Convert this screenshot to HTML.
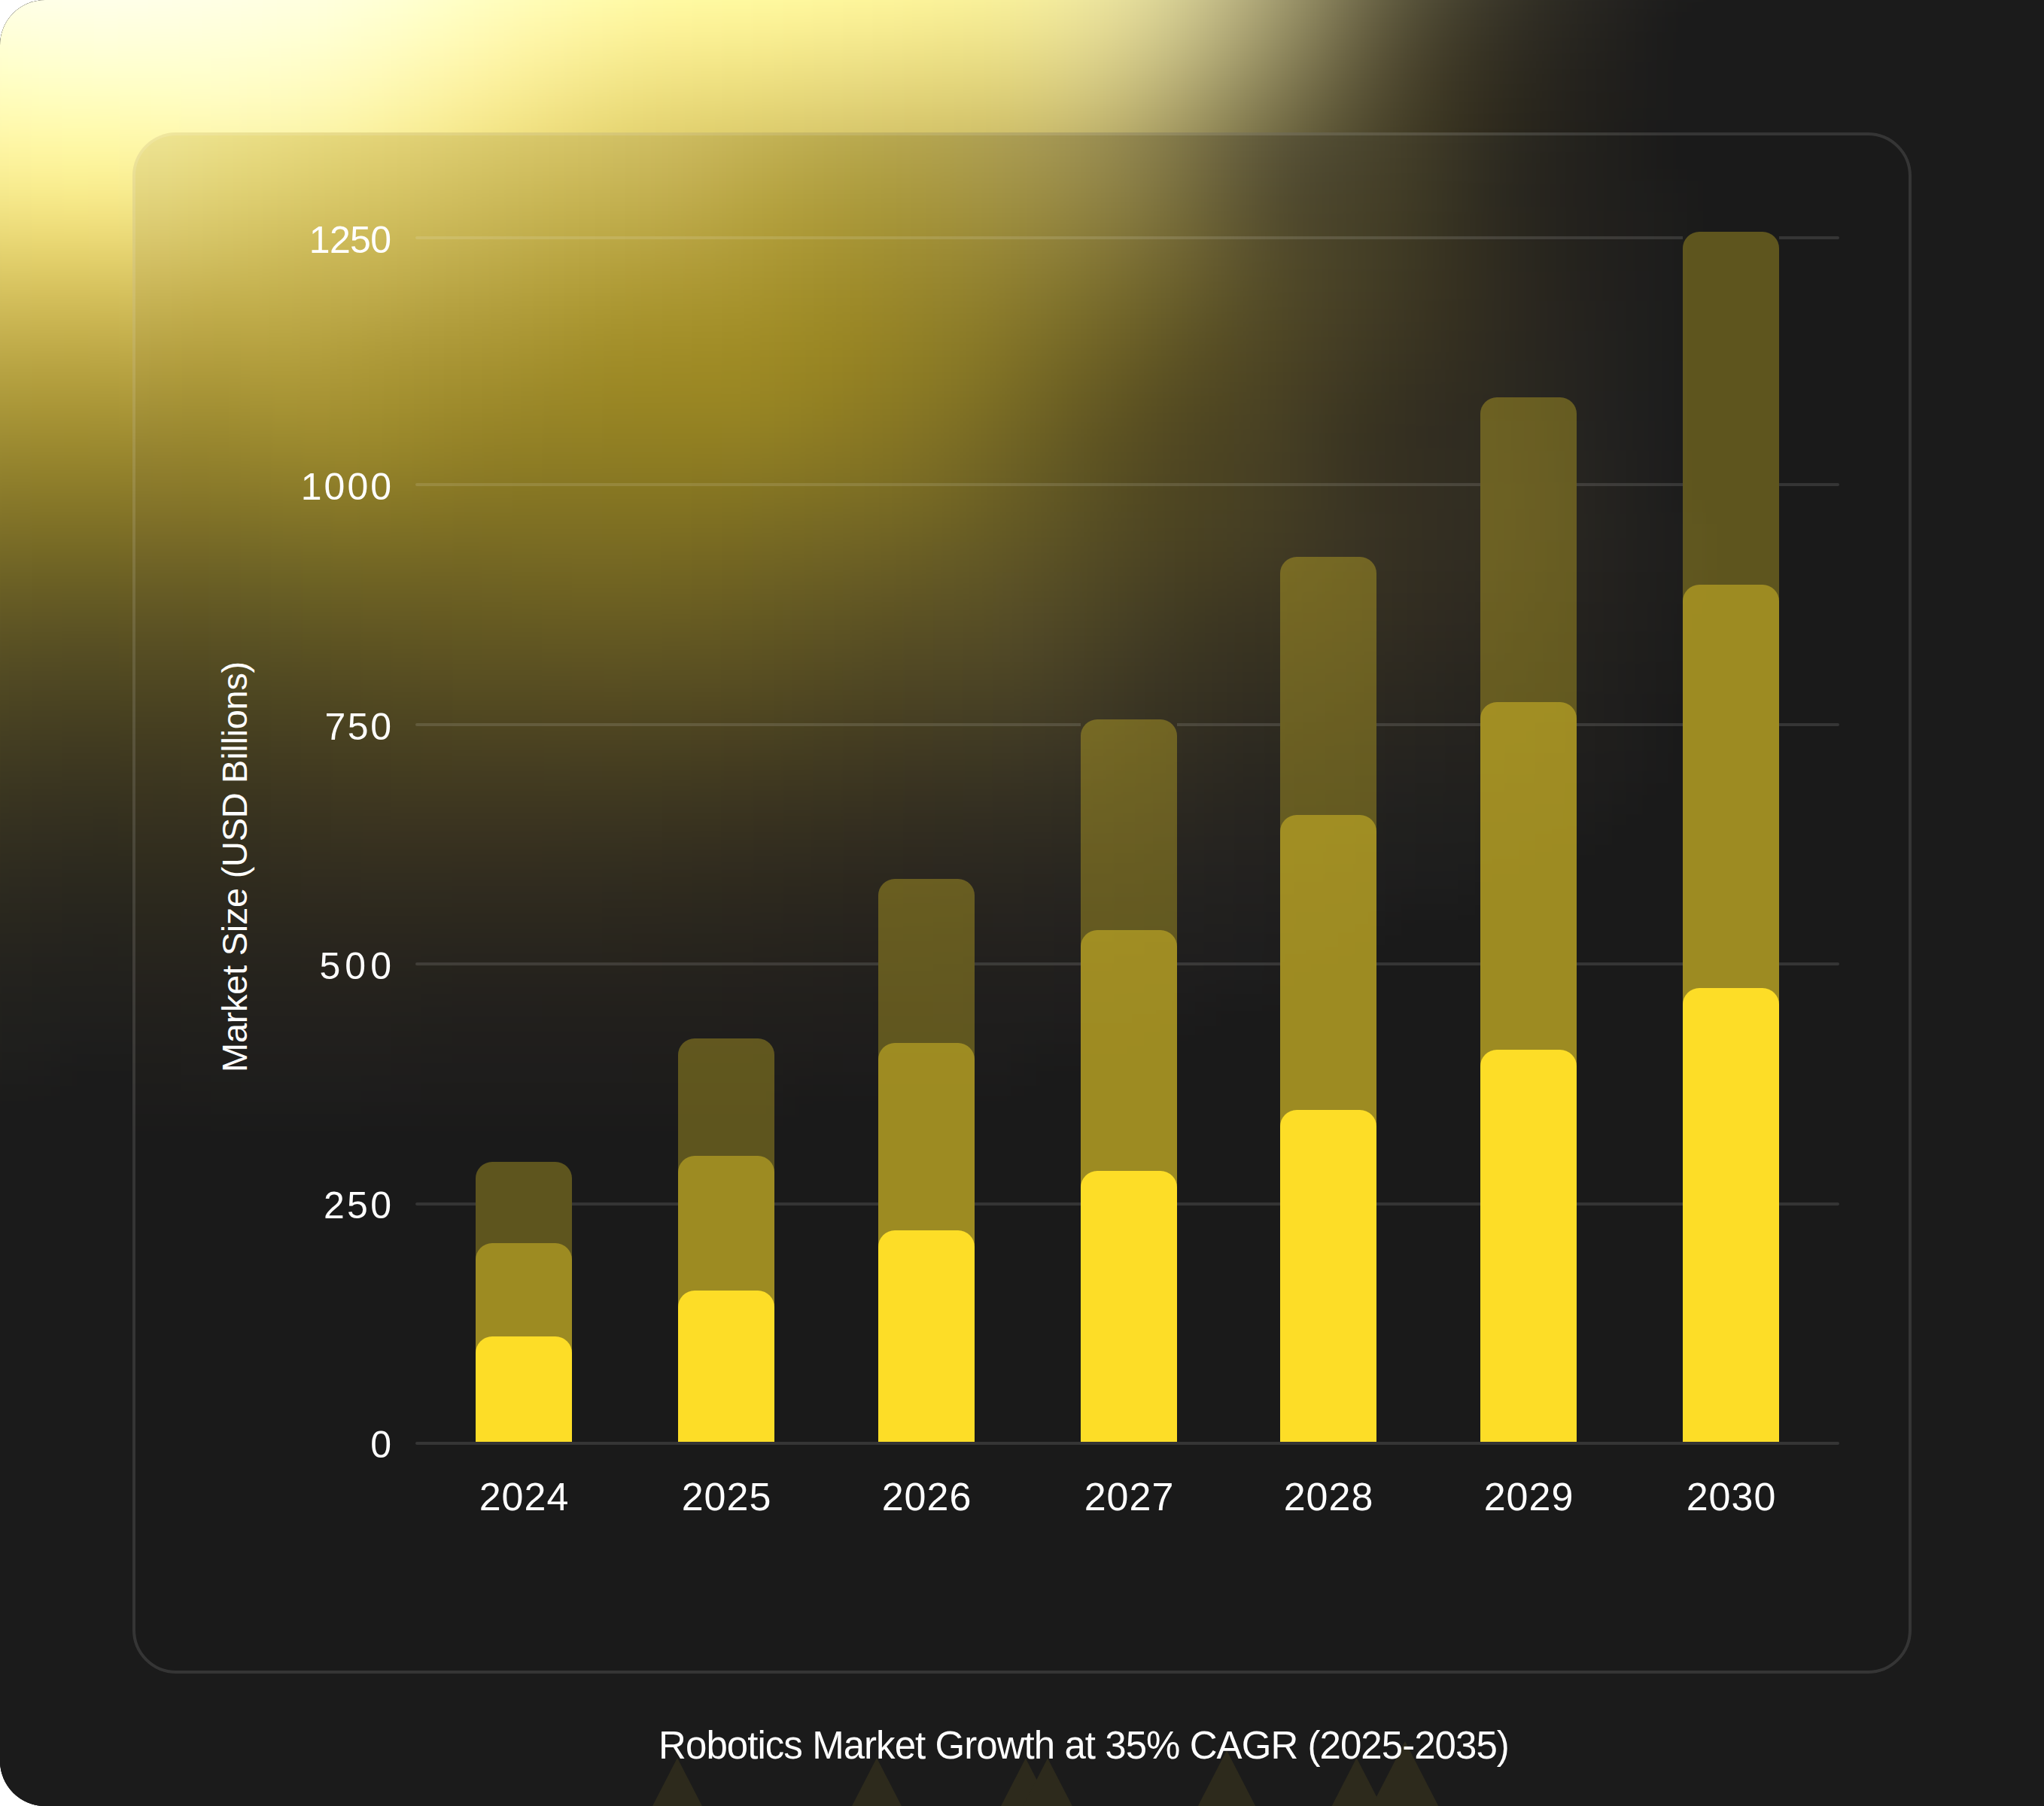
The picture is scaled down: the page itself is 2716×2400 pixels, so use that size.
<!DOCTYPE html>
<html><head><meta charset="utf-8">
<style>
html,body{margin:0;padding:0;background:#fff;}
body{width:2716px;height:2400px;overflow:hidden;position:relative;font-family:"Liberation Sans",Arial,sans-serif;}
.frame{position:absolute;left:0;top:0;width:2816px;height:2400px;border-radius:60px 0 0 60px;background:#1b1b1b;overflow:hidden;}
.glow{position:absolute;left:0;top:0;}
.card{position:absolute;left:176px;top:176px;width:2364px;height:2048px;box-sizing:border-box;border:4px solid rgba(255,255,255,0.12);border-radius:58px;background:rgba(26,26,26,0.000);}
.glowin{position:absolute;left:0;top:0;}
.gl{position:absolute;height:4px;background:rgba(255,255,255,0.12);}
.yl{position:absolute;left:320px;width:200px;text-align:right;color:#fff;font-size:50px;line-height:50px;white-space:nowrap;}
.bar{position:absolute;width:128px;bottom:484px;border-radius:22px 22px 0 0;}
.d{background:rgba(253,221,39,0.30);}
.m{background:rgba(253,221,39,0.40);}
.l{background:#fddd27;}
.xl{position:absolute;top:1959px;width:200px;text-align:center;color:#fff;font-size:52px;line-height:60px;letter-spacing:1px;text-indent:1px;}
.ytitle{position:absolute;left:312px;top:1152px;color:#fff;font-size:47px;line-height:48px;letter-spacing:-0.3px;white-space:nowrap;transform:translate(-50%,-50%) rotate(-90deg);}
.title{position:absolute;left:0;width:2880px;text-align:center;top:2290px;color:#fff;font-size:51px;line-height:60px;letter-spacing:-0.95px;white-space:nowrap;}
</style></head>
<body>
<div class="frame">
<svg class="glow" width="2716" height="2400" viewBox="0 0 2716 2400" style=""><defs><filter id="gbo" x="-10%" y="-10%" width="120%" height="120%" color-interpolation-filters="sRGB"><feGaussianBlur stdDeviation="24"/></filter></defs><rect width="2716" height="2400" fill="#1b1b1b"/><g filter="url(#gbo)"><rect x="-200" y="-200" width="3116" height="2800" fill="#1b1b1b"/><rect x="-200" y="-200" width="680" height="40" fill="#ffffff"/><rect x="480" y="-200" width="40" height="40" fill="#fffffc"/><rect x="520" y="-200" width="40" height="40" fill="#fffff8"/><rect x="560" y="-200" width="40" height="40" fill="#fffff3"/><rect x="600" y="-200" width="40" height="40" fill="#ffffee"/><rect x="640" y="-200" width="40" height="40" fill="#ffffea"/><rect x="680" y="-200" width="40" height="40" fill="#ffffe5"/><rect x="720" y="-200" width="40" height="40" fill="#ffffe0"/><rect x="760" y="-200" width="40" height="40" fill="#ffffdc"/><rect x="800" y="-200" width="40" height="40" fill="#ffffd8"/><rect x="840" y="-200" width="40" height="40" fill="#ffffd4"/><rect x="880" y="-200" width="40" height="40" fill="#ffffd1"/><rect x="920" y="-200" width="40" height="40" fill="#ffffce"/><rect x="960" y="-200" width="40" height="40" fill="#ffffcc"/><rect x="1000" y="-200" width="40" height="40" fill="#ffffc9"/><rect x="1040" y="-200" width="40" height="40" fill="#ffffc7"/><rect x="1080" y="-200" width="40" height="40" fill="#ffffc6"/><rect x="1120" y="-200" width="40" height="40" fill="#ffffc4"/><rect x="1160" y="-200" width="40" height="40" fill="#ffffc3"/><rect x="1200" y="-200" width="40" height="40" fill="#ffffc1"/><rect x="1240" y="-200" width="40" height="40" fill="#ffffc0"/><rect x="1280" y="-200" width="40" height="40" fill="#ffffbf"/><rect x="1320" y="-200" width="40" height="40" fill="#ffffbd"/><rect x="1360" y="-200" width="40" height="40" fill="#ffffbb"/><rect x="1400" y="-200" width="40" height="40" fill="#fffeb9"/><rect x="1440" y="-200" width="40" height="40" fill="#faf7b6"/><rect x="1480" y="-200" width="40" height="40" fill="#f3efb1"/><rect x="1520" y="-200" width="40" height="40" fill="#e9e6ac"/><rect x="1560" y="-200" width="40" height="40" fill="#dfdba5"/><rect x="1600" y="-200" width="40" height="40" fill="#d2cf9c"/><rect x="1640" y="-200" width="40" height="40" fill="#c5c193"/><rect x="1680" y="-200" width="40" height="40" fill="#b7b388"/><rect x="1720" y="-200" width="40" height="40" fill="#a8a47d"/><rect x="1760" y="-200" width="40" height="40" fill="#999572"/><rect x="1800" y="-200" width="40" height="40" fill="#8a8667"/><rect x="1840" y="-200" width="40" height="40" fill="#7c795d"/><rect x="1880" y="-200" width="40" height="40" fill="#6e6c54"/><rect x="1920" y="-200" width="40" height="40" fill="#62604c"/><rect x="1960" y="-200" width="40" height="40" fill="#575544"/><rect x="2000" y="-200" width="40" height="40" fill="#4d4c3e"/><rect x="2040" y="-200" width="40" height="40" fill="#444338"/><rect x="2080" y="-200" width="40" height="40" fill="#3d3c33"/><rect x="2120" y="-200" width="40" height="40" fill="#36352f"/><rect x="2160" y="-200" width="40" height="40" fill="#30302b"/><rect x="2200" y="-200" width="40" height="40" fill="#2b2b28"/><rect x="2240" y="-200" width="40" height="40" fill="#272725"/><rect x="2280" y="-200" width="40" height="40" fill="#242423"/><rect x="2320" y="-200" width="40" height="40" fill="#222222"/><rect x="2360" y="-200" width="40" height="40" fill="#202020"/><rect x="2400" y="-200" width="80" height="40" fill="#1f1f1f"/><rect x="2480" y="-200" width="80" height="40" fill="#1e1e1e"/><rect x="2560" y="-200" width="120" height="40" fill="#1b1b1b"/><rect x="-200" y="-160" width="560" height="40" fill="#ffffff"/><rect x="360" y="-160" width="40" height="40" fill="#fffffe"/><rect x="400" y="-160" width="40" height="40" fill="#fffffb"/><rect x="440" y="-160" width="40" height="40" fill="#fffff8"/><rect x="480" y="-160" width="40" height="40" fill="#fffff4"/><rect x="520" y="-160" width="40" height="40" fill="#ffffef"/><rect x="560" y="-160" width="40" height="40" fill="#ffffeb"/><rect x="600" y="-160" width="40" height="40" fill="#ffffe6"/><rect x="640" y="-160" width="40" height="40" fill="#ffffe1"/><rect x="680" y="-160" width="40" height="40" fill="#ffffdc"/><rect x="720" y="-160" width="40" height="40" fill="#ffffd7"/><rect x="760" y="-160" width="40" height="40" fill="#ffffd2"/><rect x="800" y="-160" width="40" height="40" fill="#ffffce"/><rect x="840" y="-160" width="40" height="40" fill="#ffffca"/><rect x="880" y="-160" width="40" height="40" fill="#ffffc7"/><rect x="920" y="-160" width="40" height="40" fill="#ffffc4"/><rect x="960" y="-160" width="40" height="40" fill="#ffffc2"/><rect x="1000" y="-160" width="40" height="40" fill="#ffffc0"/><rect x="1040" y="-160" width="40" height="40" fill="#ffffbe"/><rect x="1080" y="-160" width="40" height="40" fill="#ffffbd"/><rect x="1120" y="-160" width="40" height="40" fill="#ffffbb"/><rect x="1160" y="-160" width="40" height="40" fill="#ffffba"/><rect x="1200" y="-160" width="40" height="40" fill="#ffffb9"/><rect x="1240" y="-160" width="40" height="40" fill="#ffffb8"/><rect x="1280" y="-160" width="80" height="40" fill="#ffffb7"/><rect x="1360" y="-160" width="40" height="40" fill="#ffffb6"/><rect x="1400" y="-160" width="40" height="40" fill="#fffbb4"/><rect x="1440" y="-160" width="40" height="40" fill="#f9f5b1"/><rect x="1480" y="-160" width="40" height="40" fill="#f1edad"/><rect x="1520" y="-160" width="40" height="40" fill="#e8e3a8"/><rect x="1560" y="-160" width="40" height="40" fill="#ddd8a1"/><rect x="1600" y="-160" width="40" height="40" fill="#d0cc98"/><rect x="1640" y="-160" width="40" height="40" fill="#c2be8e"/><rect x="1680" y="-160" width="40" height="40" fill="#b3af83"/><rect x="1720" y="-160" width="40" height="40" fill="#a49f78"/><rect x="1760" y="-160" width="40" height="40" fill="#948f6c"/><rect x="1800" y="-160" width="40" height="40" fill="#848061"/><rect x="1840" y="-160" width="40" height="40" fill="#757256"/><rect x="1880" y="-160" width="40" height="40" fill="#68644d"/><rect x="1920" y="-160" width="40" height="40" fill="#5c5945"/><rect x="1960" y="-160" width="40" height="40" fill="#514e3e"/><rect x="2000" y="-160" width="40" height="40" fill="#474538"/><rect x="2040" y="-160" width="40" height="40" fill="#3f3d33"/><rect x="2080" y="-160" width="40" height="40" fill="#37362e"/><rect x="2120" y="-160" width="40" height="40" fill="#31302a"/><rect x="2160" y="-160" width="40" height="40" fill="#2c2b27"/><rect x="2200" y="-160" width="40" height="40" fill="#272724"/><rect x="2240" y="-160" width="40" height="40" fill="#232322"/><rect x="2280" y="-160" width="40" height="40" fill="#202020"/><rect x="2320" y="-160" width="40" height="40" fill="#1f1f1f"/><rect x="2360" y="-160" width="40" height="40" fill="#1e1e1e"/><rect x="2400" y="-160" width="240" height="40" fill="#1b1b1b"/><rect x="-200" y="-120" width="40" height="40" fill="#fffff9"/><rect x="-160" y="-120" width="40" height="40" fill="#fffffa"/><rect x="-120" y="-120" width="40" height="40" fill="#fffffb"/><rect x="-80" y="-120" width="40" height="40" fill="#fffffc"/><rect x="-40" y="-120" width="40" height="40" fill="#fffffe"/><rect x="0" y="-120" width="200" height="40" fill="#ffffff"/><rect x="200" y="-120" width="40" height="40" fill="#fffffe"/><rect x="240" y="-120" width="40" height="40" fill="#fffffc"/><rect x="280" y="-120" width="40" height="40" fill="#fffffa"/><rect x="320" y="-120" width="40" height="40" fill="#fffff8"/><rect x="360" y="-120" width="40" height="40" fill="#fffff6"/><rect x="400" y="-120" width="40" height="40" fill="#fffff3"/><rect x="440" y="-120" width="40" height="40" fill="#ffffef"/><rect x="480" y="-120" width="40" height="40" fill="#ffffeb"/><rect x="520" y="-120" width="40" height="40" fill="#ffffe7"/><rect x="560" y="-120" width="40" height="40" fill="#ffffe2"/><rect x="600" y="-120" width="40" height="40" fill="#ffffdd"/><rect x="640" y="-120" width="40" height="40" fill="#ffffd7"/><rect x="680" y="-120" width="40" height="40" fill="#ffffd2"/><rect x="720" y="-120" width="40" height="40" fill="#ffffcd"/><rect x="760" y="-120" width="40" height="40" fill="#ffffc8"/><rect x="800" y="-120" width="40" height="40" fill="#ffffc4"/><rect x="840" y="-120" width="40" height="40" fill="#ffffc0"/><rect x="880" y="-120" width="40" height="40" fill="#ffffbd"/><rect x="920" y="-120" width="40" height="40" fill="#ffffba"/><rect x="960" y="-120" width="40" height="40" fill="#ffffb8"/><rect x="1000" y="-120" width="40" height="40" fill="#ffffb7"/><rect x="1040" y="-120" width="40" height="40" fill="#ffffb5"/><rect x="1080" y="-120" width="40" height="40" fill="#ffffb4"/><rect x="1120" y="-120" width="40" height="40" fill="#ffffb2"/><rect x="1160" y="-120" width="80" height="40" fill="#ffffb1"/><rect x="1240" y="-120" width="80" height="40" fill="#ffffb0"/><rect x="1320" y="-120" width="40" height="40" fill="#ffffaf"/><rect x="1360" y="-120" width="40" height="40" fill="#fffcaf"/><rect x="1400" y="-120" width="40" height="40" fill="#fcf7ae"/><rect x="1440" y="-120" width="40" height="40" fill="#f6f1ac"/><rect x="1480" y="-120" width="40" height="40" fill="#efe9a9"/><rect x="1520" y="-120" width="40" height="40" fill="#e6e0a3"/><rect x="1560" y="-120" width="40" height="40" fill="#dad59d"/><rect x="1600" y="-120" width="40" height="40" fill="#cdc894"/><rect x="1640" y="-120" width="40" height="40" fill="#bfb989"/><rect x="1680" y="-120" width="40" height="40" fill="#afaa7e"/><rect x="1720" y="-120" width="40" height="40" fill="#9f9972"/><rect x="1760" y="-120" width="40" height="40" fill="#8e8965"/><rect x="1800" y="-120" width="40" height="40" fill="#7e795a"/><rect x="1840" y="-120" width="40" height="40" fill="#6f6a4f"/><rect x="1880" y="-120" width="40" height="40" fill="#615d46"/><rect x="1920" y="-120" width="40" height="40" fill="#55513e"/><rect x="1960" y="-120" width="40" height="40" fill="#4a4738"/><rect x="2000" y="-120" width="40" height="40" fill="#413f32"/><rect x="2040" y="-120" width="40" height="40" fill="#39382e"/><rect x="2080" y="-120" width="40" height="40" fill="#33312a"/><rect x="2120" y="-120" width="40" height="40" fill="#2d2c26"/><rect x="2160" y="-120" width="40" height="40" fill="#282723"/><rect x="2200" y="-120" width="40" height="40" fill="#232321"/><rect x="2240" y="-120" width="40" height="40" fill="#20201f"/><rect x="2280" y="-120" width="40" height="40" fill="#1e1e1d"/><rect x="2320" y="-120" width="280" height="40" fill="#1b1b1b"/><rect x="-200" y="-80" width="40" height="40" fill="#ffffef"/><rect x="-160" y="-80" width="40" height="40" fill="#fffff0"/><rect x="-120" y="-80" width="40" height="40" fill="#fffff1"/><rect x="-80" y="-80" width="40" height="40" fill="#fffff3"/><rect x="-40" y="-80" width="40" height="40" fill="#fffff4"/><rect x="0" y="-80" width="40" height="40" fill="#fffff5"/><rect x="40" y="-80" width="40" height="40" fill="#fffff6"/><rect x="80" y="-80" width="80" height="40" fill="#fffff7"/><rect x="160" y="-80" width="40" height="40" fill="#fffff6"/><rect x="200" y="-80" width="40" height="40" fill="#fffff5"/><rect x="240" y="-80" width="40" height="40" fill="#fffff3"/><rect x="280" y="-80" width="40" height="40" fill="#fffff2"/><rect x="320" y="-80" width="40" height="40" fill="#fffff0"/><rect x="360" y="-80" width="40" height="40" fill="#ffffed"/><rect x="400" y="-80" width="40" height="40" fill="#ffffeb"/><rect x="440" y="-80" width="40" height="40" fill="#ffffe7"/><rect x="480" y="-80" width="40" height="40" fill="#ffffe3"/><rect x="520" y="-80" width="40" height="40" fill="#ffffde"/><rect x="560" y="-80" width="40" height="40" fill="#ffffd9"/><rect x="600" y="-80" width="40" height="40" fill="#ffffd3"/><rect x="640" y="-80" width="40" height="40" fill="#ffffcd"/><rect x="680" y="-80" width="40" height="40" fill="#ffffc8"/><rect x="720" y="-80" width="40" height="40" fill="#ffffc2"/><rect x="760" y="-80" width="40" height="40" fill="#ffffbd"/><rect x="800" y="-80" width="40" height="40" fill="#ffffb9"/><rect x="840" y="-80" width="40" height="40" fill="#ffffb5"/><rect x="880" y="-80" width="40" height="40" fill="#ffffb2"/><rect x="920" y="-80" width="40" height="40" fill="#ffffb0"/><rect x="960" y="-80" width="40" height="40" fill="#ffffae"/><rect x="1000" y="-80" width="40" height="40" fill="#ffffad"/><rect x="1040" y="-80" width="40" height="40" fill="#ffffab"/><rect x="1080" y="-80" width="40" height="40" fill="#ffffaa"/><rect x="1120" y="-80" width="40" height="40" fill="#ffffa9"/><rect x="1160" y="-80" width="40" height="40" fill="#ffffa8"/><rect x="1200" y="-80" width="40" height="40" fill="#ffffa7"/><rect x="1240" y="-80" width="40" height="40" fill="#fffda7"/><rect x="1280" y="-80" width="40" height="40" fill="#fffca7"/><rect x="1320" y="-80" width="40" height="40" fill="#fff9a7"/><rect x="1360" y="-80" width="40" height="40" fill="#fdf6a8"/><rect x="1400" y="-80" width="40" height="40" fill="#f8f2a8"/><rect x="1440" y="-80" width="40" height="40" fill="#f3eda6"/><rect x="1480" y="-80" width="40" height="40" fill="#ece5a3"/><rect x="1520" y="-80" width="40" height="40" fill="#e2dc9f"/><rect x="1560" y="-80" width="40" height="40" fill="#d7d198"/><rect x="1600" y="-80" width="40" height="40" fill="#cac38f"/><rect x="1640" y="-80" width="40" height="40" fill="#bbb484"/><rect x="1680" y="-80" width="40" height="40" fill="#aaa478"/><rect x="1720" y="-80" width="40" height="40" fill="#99936b"/><rect x="1760" y="-80" width="40" height="40" fill="#88825f"/><rect x="1800" y="-80" width="40" height="40" fill="#777252"/><rect x="1840" y="-80" width="40" height="40" fill="#686348"/><rect x="1880" y="-80" width="40" height="40" fill="#5a563f"/><rect x="1920" y="-80" width="40" height="40" fill="#4e4a37"/><rect x="1960" y="-80" width="40" height="40" fill="#444132"/><rect x="2000" y="-80" width="40" height="40" fill="#3c392d"/><rect x="2040" y="-80" width="40" height="40" fill="#353229"/><rect x="2080" y="-80" width="40" height="40" fill="#2e2d26"/><rect x="2120" y="-80" width="40" height="40" fill="#292823"/><rect x="2160" y="-80" width="40" height="40" fill="#242421"/><rect x="2200" y="-80" width="40" height="40" fill="#21201f"/><rect x="2240" y="-80" width="40" height="40" fill="#1e1e1d"/><rect x="2280" y="-80" width="280" height="40" fill="#1b1b1b"/><rect x="-200" y="-40" width="40" height="40" fill="#ffffe4"/><rect x="-160" y="-40" width="40" height="40" fill="#ffffe5"/><rect x="-120" y="-40" width="40" height="40" fill="#ffffe7"/><rect x="-80" y="-40" width="40" height="40" fill="#ffffe8"/><rect x="-40" y="-40" width="40" height="40" fill="#ffffea"/><rect x="0" y="-40" width="40" height="40" fill="#ffffeb"/><rect x="40" y="-40" width="40" height="40" fill="#ffffec"/><rect x="80" y="-40" width="120" height="40" fill="#ffffed"/><rect x="200" y="-40" width="40" height="40" fill="#ffffec"/><rect x="240" y="-40" width="40" height="40" fill="#ffffea"/><rect x="280" y="-40" width="40" height="40" fill="#ffffe9"/><rect x="320" y="-40" width="40" height="40" fill="#ffffe7"/><rect x="360" y="-40" width="40" height="40" fill="#ffffe5"/><rect x="400" y="-40" width="40" height="40" fill="#ffffe2"/><rect x="440" y="-40" width="40" height="40" fill="#ffffde"/><rect x="480" y="-40" width="40" height="40" fill="#ffffda"/><rect x="520" y="-40" width="40" height="40" fill="#ffffd5"/><rect x="560" y="-40" width="40" height="40" fill="#ffffcf"/><rect x="600" y="-40" width="40" height="40" fill="#ffffc9"/><rect x="640" y="-40" width="40" height="40" fill="#ffffc3"/><rect x="680" y="-40" width="40" height="40" fill="#ffffbd"/><rect x="720" y="-40" width="40" height="40" fill="#fffeb7"/><rect x="760" y="-40" width="40" height="40" fill="#fffeb2"/><rect x="800" y="-40" width="40" height="40" fill="#fffeae"/><rect x="840" y="-40" width="40" height="40" fill="#fffdaa"/><rect x="880" y="-40" width="40" height="40" fill="#fffda7"/><rect x="920" y="-40" width="40" height="40" fill="#fffda5"/><rect x="960" y="-40" width="40" height="40" fill="#fffda4"/><rect x="1000" y="-40" width="40" height="40" fill="#fffca3"/><rect x="1040" y="-40" width="40" height="40" fill="#fffba2"/><rect x="1080" y="-40" width="40" height="40" fill="#fffaa1"/><rect x="1120" y="-40" width="40" height="40" fill="#fff99f"/><rect x="1160" y="-40" width="40" height="40" fill="#fff89f"/><rect x="1200" y="-40" width="40" height="40" fill="#fff79e"/><rect x="1240" y="-40" width="40" height="40" fill="#fef69e"/><rect x="1280" y="-40" width="40" height="40" fill="#fcf49e"/><rect x="1320" y="-40" width="40" height="40" fill="#faf29f"/><rect x="1360" y="-40" width="40" height="40" fill="#f7f0a0"/><rect x="1400" y="-40" width="40" height="40" fill="#f4eca0"/><rect x="1440" y="-40" width="40" height="40" fill="#eee7a0"/><rect x="1480" y="-40" width="40" height="40" fill="#e7e09d"/><rect x="1520" y="-40" width="40" height="40" fill="#ded799"/><rect x="1560" y="-40" width="40" height="40" fill="#d2cb92"/><rect x="1600" y="-40" width="40" height="40" fill="#c5bd89"/><rect x="1640" y="-40" width="40" height="40" fill="#b5ae7e"/><rect x="1680" y="-40" width="40" height="40" fill="#a49d72"/><rect x="1720" y="-40" width="40" height="40" fill="#938c64"/><rect x="1760" y="-40" width="40" height="40" fill="#817b57"/><rect x="1800" y="-40" width="40" height="40" fill="#706a4b"/><rect x="1840" y="-40" width="40" height="40" fill="#605b40"/><rect x="1880" y="-40" width="40" height="40" fill="#534e38"/><rect x="1920" y="-40" width="40" height="40" fill="#484431"/><rect x="1960" y="-40" width="40" height="40" fill="#3f3b2c"/><rect x="2000" y="-40" width="40" height="40" fill="#373428"/><rect x="2040" y="-40" width="40" height="40" fill="#302e25"/><rect x="2080" y="-40" width="40" height="40" fill="#2b2923"/><rect x="2120" y="-40" width="40" height="40" fill="#262521"/><rect x="2160" y="-40" width="40" height="40" fill="#22211f"/><rect x="2200" y="-40" width="40" height="40" fill="#1f1e1d"/><rect x="2240" y="-40" width="160" height="40" fill="#1b1b1b"/><rect x="-200" y="0" width="40" height="40" fill="#ffffd9"/><rect x="-160" y="0" width="40" height="40" fill="#ffffda"/><rect x="-120" y="0" width="40" height="40" fill="#ffffdc"/><rect x="-80" y="0" width="40" height="40" fill="#ffffdd"/><rect x="-40" y="0" width="40" height="40" fill="#ffffdf"/><rect x="0" y="0" width="40" height="40" fill="#ffffe1"/><rect x="40" y="0" width="40" height="40" fill="#ffffe2"/><rect x="80" y="0" width="40" height="40" fill="#ffffe3"/><rect x="120" y="0" width="40" height="40" fill="#ffffe4"/><rect x="160" y="0" width="40" height="40" fill="#ffffe3"/><rect x="200" y="0" width="40" height="40" fill="#ffffe2"/><rect x="240" y="0" width="40" height="40" fill="#ffffe1"/><rect x="280" y="0" width="40" height="40" fill="#ffffdf"/><rect x="320" y="0" width="40" height="40" fill="#ffffde"/><rect x="360" y="0" width="40" height="40" fill="#ffffdc"/><rect x="400" y="0" width="40" height="40" fill="#ffffd9"/><rect x="440" y="0" width="40" height="40" fill="#ffffd5"/><rect x="480" y="0" width="40" height="40" fill="#ffffd0"/><rect x="520" y="0" width="40" height="40" fill="#ffffcb"/><rect x="560" y="0" width="40" height="40" fill="#fffec5"/><rect x="600" y="0" width="40" height="40" fill="#fffdbe"/><rect x="640" y="0" width="40" height="40" fill="#fffbb8"/><rect x="680" y="0" width="40" height="40" fill="#fffab2"/><rect x="720" y="0" width="40" height="40" fill="#fff9ac"/><rect x="760" y="0" width="40" height="40" fill="#fff8a7"/><rect x="800" y="0" width="40" height="40" fill="#fff7a2"/><rect x="840" y="0" width="40" height="40" fill="#fff69f"/><rect x="880" y="0" width="40" height="40" fill="#fff69c"/><rect x="920" y="0" width="40" height="40" fill="#fef59b"/><rect x="960" y="0" width="40" height="40" fill="#fef59a"/><rect x="1000" y="0" width="40" height="40" fill="#fdf499"/><rect x="1040" y="0" width="40" height="40" fill="#fdf398"/><rect x="1080" y="0" width="40" height="40" fill="#fcf297"/><rect x="1120" y="0" width="40" height="40" fill="#fbf196"/><rect x="1160" y="0" width="40" height="40" fill="#faf095"/><rect x="1200" y="0" width="40" height="40" fill="#f8ee94"/><rect x="1240" y="0" width="40" height="40" fill="#f7ed94"/><rect x="1280" y="0" width="40" height="40" fill="#f5ec94"/><rect x="1320" y="0" width="40" height="40" fill="#f4ea95"/><rect x="1360" y="0" width="40" height="40" fill="#f1e897"/><rect x="1400" y="0" width="40" height="40" fill="#ede498"/><rect x="1440" y="0" width="40" height="40" fill="#e8df98"/><rect x="1480" y="0" width="40" height="40" fill="#e1d896"/><rect x="1520" y="0" width="40" height="40" fill="#d7cf91"/><rect x="1560" y="0" width="40" height="40" fill="#cbc38a"/><rect x="1600" y="0" width="40" height="40" fill="#bdb581"/><rect x="1640" y="0" width="40" height="40" fill="#aea676"/><rect x="1680" y="0" width="40" height="40" fill="#9d966a"/><rect x="1720" y="0" width="40" height="40" fill="#8c855d"/><rect x="1760" y="0" width="40" height="40" fill="#7a7350"/><rect x="1800" y="0" width="40" height="40" fill="#696244"/><rect x="1840" y="0" width="40" height="40" fill="#595439"/><rect x="1880" y="0" width="40" height="40" fill="#4d4832"/><rect x="1920" y="0" width="40" height="40" fill="#423e2c"/><rect x="1960" y="0" width="40" height="40" fill="#3a3628"/><rect x="2000" y="0" width="40" height="40" fill="#333025"/><rect x="2040" y="0" width="40" height="40" fill="#2d2a22"/><rect x="2080" y="0" width="40" height="40" fill="#282620"/><rect x="2120" y="0" width="40" height="40" fill="#24221f"/><rect x="2160" y="0" width="40" height="40" fill="#201f1d"/><rect x="2200" y="0" width="120" height="40" fill="#1b1b1b"/><rect x="-200" y="40" width="40" height="40" fill="#fffdcd"/><rect x="-160" y="40" width="40" height="40" fill="#ffffce"/><rect x="-120" y="40" width="40" height="40" fill="#ffffd0"/><rect x="-80" y="40" width="40" height="40" fill="#ffffd1"/><rect x="-40" y="40" width="40" height="40" fill="#ffffd3"/><rect x="0" y="40" width="40" height="40" fill="#ffffd5"/><rect x="40" y="40" width="40" height="40" fill="#ffffd7"/><rect x="80" y="40" width="40" height="40" fill="#ffffd8"/><rect x="120" y="40" width="40" height="40" fill="#ffffd9"/><rect x="160" y="40" width="80" height="40" fill="#ffffd8"/><rect x="240" y="40" width="40" height="40" fill="#ffffd7"/><rect x="280" y="40" width="40" height="40" fill="#ffffd6"/><rect x="320" y="40" width="40" height="40" fill="#ffffd5"/><rect x="360" y="40" width="40" height="40" fill="#ffffd2"/><rect x="400" y="40" width="40" height="40" fill="#ffffcf"/><rect x="440" y="40" width="40" height="40" fill="#fffecb"/><rect x="480" y="40" width="40" height="40" fill="#fffdc5"/><rect x="520" y="40" width="40" height="40" fill="#fffcc0"/><rect x="560" y="40" width="40" height="40" fill="#fffbb9"/><rect x="600" y="40" width="40" height="40" fill="#fff9b3"/><rect x="640" y="40" width="40" height="40" fill="#fff7ad"/><rect x="680" y="40" width="40" height="40" fill="#fef5a6"/><rect x="720" y="40" width="40" height="40" fill="#fdf3a0"/><rect x="760" y="40" width="40" height="40" fill="#fbf19b"/><rect x="800" y="40" width="40" height="40" fill="#faf097"/><rect x="840" y="40" width="40" height="40" fill="#f9ee93"/><rect x="880" y="40" width="40" height="40" fill="#f9ed91"/><rect x="920" y="40" width="40" height="40" fill="#f8ed90"/><rect x="960" y="40" width="40" height="40" fill="#f7ec8f"/><rect x="1000" y="40" width="40" height="40" fill="#f7eb8e"/><rect x="1040" y="40" width="40" height="40" fill="#f5ea8d"/><rect x="1080" y="40" width="40" height="40" fill="#f4e88d"/><rect x="1120" y="40" width="40" height="40" fill="#f3e78c"/><rect x="1160" y="40" width="40" height="40" fill="#f2e68b"/><rect x="1200" y="40" width="40" height="40" fill="#f1e58a"/><rect x="1240" y="40" width="40" height="40" fill="#efe389"/><rect x="1280" y="40" width="40" height="40" fill="#eee28a"/><rect x="1320" y="40" width="40" height="40" fill="#ece18b"/><rect x="1360" y="40" width="40" height="40" fill="#e9de8d"/><rect x="1400" y="40" width="40" height="40" fill="#e6db8e"/><rect x="1440" y="40" width="40" height="40" fill="#e0d68e"/><rect x="1480" y="40" width="40" height="40" fill="#d8ce8c"/><rect x="1520" y="40" width="40" height="40" fill="#cec588"/><rect x="1560" y="40" width="40" height="40" fill="#c1b981"/><rect x="1600" y="40" width="40" height="40" fill="#b3ab77"/><rect x="1640" y="40" width="40" height="40" fill="#a49c6d"/><rect x="1680" y="40" width="40" height="40" fill="#938c61"/><rect x="1720" y="40" width="40" height="40" fill="#837c55"/><rect x="1760" y="40" width="40" height="40" fill="#726b49"/><rect x="1800" y="40" width="40" height="40" fill="#625b3d"/><rect x="1840" y="40" width="40" height="40" fill="#534d34"/><rect x="1880" y="40" width="40" height="40" fill="#48422d"/><rect x="1920" y="40" width="40" height="40" fill="#3e3927"/><rect x="1960" y="40" width="40" height="40" fill="#363224"/><rect x="2000" y="40" width="40" height="40" fill="#302c22"/><rect x="2040" y="40" width="40" height="40" fill="#2a2820"/><rect x="2080" y="40" width="40" height="40" fill="#26241f"/><rect x="2120" y="40" width="40" height="40" fill="#22211d"/><rect x="2160" y="40" width="40" height="40" fill="#1f1e1c"/><rect x="2200" y="40" width="120" height="40" fill="#1b1b1b"/><rect x="-200" y="80" width="40" height="40" fill="#fdf9c1"/><rect x="-160" y="80" width="40" height="40" fill="#fffac2"/><rect x="-120" y="80" width="40" height="40" fill="#fffcc3"/><rect x="-80" y="80" width="40" height="40" fill="#fffdc4"/><rect x="-40" y="80" width="40" height="40" fill="#fffec6"/><rect x="0" y="80" width="40" height="40" fill="#ffffc8"/><rect x="40" y="80" width="40" height="40" fill="#ffffca"/><rect x="80" y="80" width="40" height="40" fill="#ffffcb"/><rect x="120" y="80" width="160" height="40" fill="#ffffcc"/><rect x="280" y="80" width="40" height="40" fill="#fffecc"/><rect x="320" y="80" width="40" height="40" fill="#fffeca"/><rect x="360" y="80" width="40" height="40" fill="#fffdc7"/><rect x="400" y="80" width="40" height="40" fill="#fffcc4"/><rect x="440" y="80" width="40" height="40" fill="#fffbbf"/><rect x="480" y="80" width="40" height="40" fill="#fffaba"/><rect x="520" y="80" width="40" height="40" fill="#fef8b3"/><rect x="560" y="80" width="40" height="40" fill="#fef6ad"/><rect x="600" y="80" width="40" height="40" fill="#fdf4a7"/><rect x="640" y="80" width="40" height="40" fill="#fcf2a0"/><rect x="680" y="80" width="40" height="40" fill="#faef9a"/><rect x="720" y="80" width="40" height="40" fill="#f8ec94"/><rect x="760" y="80" width="40" height="40" fill="#f6ea8f"/><rect x="800" y="80" width="40" height="40" fill="#f4e78b"/><rect x="840" y="80" width="40" height="40" fill="#f3e688"/><rect x="880" y="80" width="40" height="40" fill="#f2e486"/><rect x="920" y="80" width="40" height="40" fill="#f1e384"/><rect x="960" y="80" width="40" height="40" fill="#f0e283"/><rect x="1000" y="80" width="40" height="40" fill="#efe183"/><rect x="1040" y="80" width="40" height="40" fill="#eddf82"/><rect x="1080" y="80" width="40" height="40" fill="#ecde82"/><rect x="1120" y="80" width="40" height="40" fill="#eadd82"/><rect x="1160" y="80" width="40" height="40" fill="#e9db81"/><rect x="1200" y="80" width="40" height="40" fill="#e8da7f"/><rect x="1240" y="80" width="40" height="40" fill="#e6d97f"/><rect x="1280" y="80" width="40" height="40" fill="#e5d87f"/><rect x="1320" y="80" width="40" height="40" fill="#e3d680"/><rect x="1360" y="80" width="40" height="40" fill="#e0d482"/><rect x="1400" y="80" width="40" height="40" fill="#dcd084"/><rect x="1440" y="80" width="40" height="40" fill="#d6cb84"/><rect x="1480" y="80" width="40" height="40" fill="#cdc381"/><rect x="1520" y="80" width="40" height="40" fill="#c3b97c"/><rect x="1560" y="80" width="40" height="40" fill="#b6ac75"/><rect x="1600" y="80" width="40" height="40" fill="#a79f6c"/><rect x="1640" y="80" width="40" height="40" fill="#989062"/><rect x="1680" y="80" width="40" height="40" fill="#888157"/><rect x="1720" y="80" width="40" height="40" fill="#79714c"/><rect x="1760" y="80" width="40" height="40" fill="#696241"/><rect x="1800" y="80" width="40" height="40" fill="#5a5437"/><rect x="1840" y="80" width="40" height="40" fill="#4e472f"/><rect x="1880" y="80" width="40" height="40" fill="#433d28"/><rect x="1920" y="80" width="40" height="40" fill="#3a3524"/><rect x="1960" y="80" width="40" height="40" fill="#332f21"/><rect x="2000" y="80" width="40" height="40" fill="#2d2a1f"/><rect x="2040" y="80" width="40" height="40" fill="#28251e"/><rect x="2080" y="80" width="40" height="40" fill="#24221d"/><rect x="2120" y="80" width="40" height="40" fill="#211f1c"/><rect x="2160" y="80" width="40" height="40" fill="#1e1d1c"/><rect x="2200" y="80" width="120" height="40" fill="#1b1b1b"/><rect x="-200" y="120" width="40" height="40" fill="#faf4b5"/><rect x="-160" y="120" width="40" height="40" fill="#fbf5b5"/><rect x="-120" y="120" width="40" height="40" fill="#fdf7b6"/><rect x="-80" y="120" width="40" height="40" fill="#fff9b7"/><rect x="-40" y="120" width="40" height="40" fill="#fffbb8"/><rect x="0" y="120" width="40" height="40" fill="#fffcb9"/><rect x="40" y="120" width="40" height="40" fill="#fffdbb"/><rect x="80" y="120" width="80" height="40" fill="#fffdbc"/><rect x="160" y="120" width="40" height="40" fill="#fffdbd"/><rect x="200" y="120" width="40" height="40" fill="#fffdbe"/><rect x="240" y="120" width="80" height="40" fill="#fffcbf"/><rect x="320" y="120" width="40" height="40" fill="#fffbbd"/><rect x="360" y="120" width="40" height="40" fill="#fefaba"/><rect x="400" y="120" width="40" height="40" fill="#fef9b6"/><rect x="440" y="120" width="40" height="40" fill="#fef8b2"/><rect x="480" y="120" width="40" height="40" fill="#fdf6ac"/><rect x="520" y="120" width="40" height="40" fill="#fcf4a6"/><rect x="560" y="120" width="40" height="40" fill="#fbf1a0"/><rect x="600" y="120" width="40" height="40" fill="#faee99"/><rect x="640" y="120" width="40" height="40" fill="#f8eb93"/><rect x="680" y="120" width="40" height="40" fill="#f5e88d"/><rect x="720" y="120" width="40" height="40" fill="#f3e488"/><rect x="760" y="120" width="40" height="40" fill="#f0e183"/><rect x="800" y="120" width="40" height="40" fill="#eedf7f"/><rect x="840" y="120" width="40" height="40" fill="#ebdc7c"/><rect x="880" y="120" width="40" height="40" fill="#eada7a"/><rect x="920" y="120" width="40" height="40" fill="#e8d979"/><rect x="960" y="120" width="40" height="40" fill="#e7d878"/><rect x="1000" y="120" width="40" height="40" fill="#e5d677"/><rect x="1040" y="120" width="40" height="40" fill="#e4d577"/><rect x="1080" y="120" width="40" height="40" fill="#e2d377"/><rect x="1120" y="120" width="40" height="40" fill="#e1d276"/><rect x="1160" y="120" width="40" height="40" fill="#e0d075"/><rect x="1200" y="120" width="40" height="40" fill="#decf74"/><rect x="1240" y="120" width="40" height="40" fill="#ddce74"/><rect x="1280" y="120" width="40" height="40" fill="#dbcc74"/><rect x="1320" y="120" width="40" height="40" fill="#d9cb75"/><rect x="1360" y="120" width="40" height="40" fill="#d6c877"/><rect x="1400" y="120" width="40" height="40" fill="#d2c578"/><rect x="1440" y="120" width="40" height="40" fill="#cbbf78"/><rect x="1480" y="120" width="40" height="40" fill="#c2b675"/><rect x="1520" y="120" width="40" height="40" fill="#b6ac70"/><rect x="1560" y="120" width="40" height="40" fill="#a99f69"/><rect x="1600" y="120" width="40" height="40" fill="#9a9260"/><rect x="1640" y="120" width="40" height="40" fill="#8b8357"/><rect x="1680" y="120" width="40" height="40" fill="#7d754d"/><rect x="1720" y="120" width="40" height="40" fill="#6e6743"/><rect x="1760" y="120" width="40" height="40" fill="#605a3a"/><rect x="1800" y="120" width="40" height="40" fill="#544d32"/><rect x="1840" y="120" width="40" height="40" fill="#49432b"/><rect x="1880" y="120" width="40" height="40" fill="#3f3a25"/><rect x="1920" y="120" width="40" height="40" fill="#373221"/><rect x="1960" y="120" width="40" height="40" fill="#312c1f"/><rect x="2000" y="120" width="40" height="40" fill="#2b281d"/><rect x="2040" y="120" width="40" height="40" fill="#27241d"/><rect x="2080" y="120" width="40" height="40" fill="#23211c"/><rect x="2120" y="120" width="40" height="40" fill="#201e1b"/><rect x="2160" y="120" width="40" height="40" fill="#1e1d1b"/><rect x="2200" y="120" width="120" height="40" fill="#1b1b1b"/><rect x="-200" y="160" width="40" height="40" fill="#f5eda8"/><rect x="-160" y="160" width="40" height="40" fill="#f7f0a8"/><rect x="-120" y="160" width="40" height="40" fill="#faf2a8"/><rect x="-80" y="160" width="40" height="40" fill="#fcf4a8"/><rect x="-40" y="160" width="40" height="40" fill="#fef6a9"/><rect x="0" y="160" width="40" height="40" fill="#fff8a9"/><rect x="40" y="160" width="40" height="40" fill="#fff9aa"/><rect x="80" y="160" width="40" height="40" fill="#fffaab"/><rect x="120" y="160" width="40" height="40" fill="#fffaac"/><rect x="160" y="160" width="40" height="40" fill="#fff9ad"/><rect x="200" y="160" width="40" height="40" fill="#fff9ae"/><rect x="240" y="160" width="40" height="40" fill="#fef8af"/><rect x="280" y="160" width="40" height="40" fill="#fdf7b0"/><rect x="320" y="160" width="40" height="40" fill="#fcf6ae"/><rect x="360" y="160" width="40" height="40" fill="#fcf5ab"/><rect x="400" y="160" width="40" height="40" fill="#fbf4a8"/><rect x="440" y="160" width="40" height="40" fill="#fbf3a3"/><rect x="480" y="160" width="40" height="40" fill="#faf09e"/><rect x="520" y="160" width="40" height="40" fill="#f9ee98"/><rect x="560" y="160" width="40" height="40" fill="#f7eb92"/><rect x="600" y="160" width="40" height="40" fill="#f5e78c"/><rect x="640" y="160" width="40" height="40" fill="#f2e486"/><rect x="680" y="160" width="40" height="40" fill="#f0e080"/><rect x="720" y="160" width="40" height="40" fill="#eddc7b"/><rect x="760" y="160" width="40" height="40" fill="#e9d977"/><rect x="800" y="160" width="40" height="40" fill="#e6d673"/><rect x="840" y="160" width="40" height="40" fill="#e4d371"/><rect x="880" y="160" width="40" height="40" fill="#e2d16f"/><rect x="920" y="160" width="40" height="40" fill="#e0cf6d"/><rect x="960" y="160" width="40" height="40" fill="#decd6d"/><rect x="1000" y="160" width="40" height="40" fill="#dccc6c"/><rect x="1040" y="160" width="40" height="40" fill="#dbca6c"/><rect x="1080" y="160" width="40" height="40" fill="#d9c86b"/><rect x="1120" y="160" width="40" height="40" fill="#d7c76b"/><rect x="1160" y="160" width="40" height="40" fill="#d6c56a"/><rect x="1200" y="160" width="40" height="40" fill="#d5c469"/><rect x="1240" y="160" width="40" height="40" fill="#d3c369"/><rect x="1280" y="160" width="40" height="40" fill="#d1c169"/><rect x="1320" y="160" width="40" height="40" fill="#cfbf6a"/><rect x="1360" y="160" width="40" height="40" fill="#cbbd6c"/><rect x="1400" y="160" width="40" height="40" fill="#c6b86c"/><rect x="1440" y="160" width="40" height="40" fill="#bfb26b"/><rect x="1480" y="160" width="40" height="40" fill="#b6aa69"/><rect x="1520" y="160" width="40" height="40" fill="#aa9f64"/><rect x="1560" y="160" width="40" height="40" fill="#9d935d"/><rect x="1600" y="160" width="40" height="40" fill="#8f8655"/><rect x="1640" y="160" width="40" height="40" fill="#80784c"/><rect x="1680" y="160" width="40" height="40" fill="#726b44"/><rect x="1720" y="160" width="40" height="40" fill="#655e3b"/><rect x="1760" y="160" width="40" height="40" fill="#595234"/><rect x="1800" y="160" width="40" height="40" fill="#4e482d"/><rect x="1840" y="160" width="40" height="40" fill="#443e27"/><rect x="1880" y="160" width="40" height="40" fill="#3c3622"/><rect x="1920" y="160" width="40" height="40" fill="#35301f"/><rect x="1960" y="160" width="40" height="40" fill="#2f2a1d"/><rect x="2000" y="160" width="40" height="40" fill="#29261c"/><rect x="2040" y="160" width="40" height="40" fill="#25221b"/><rect x="2080" y="160" width="40" height="40" fill="#22201b"/><rect x="2120" y="160" width="40" height="40" fill="#1f1e1b"/><rect x="2160" y="160" width="120" height="40" fill="#1b1b1b"/><rect x="-200" y="200" width="40" height="40" fill="#f0e79b"/><rect x="-160" y="200" width="40" height="40" fill="#f3e99b"/><rect x="-120" y="200" width="40" height="40" fill="#f5eb9a"/><rect x="-80" y="200" width="40" height="40" fill="#f7ed9a"/><rect x="-40" y="200" width="40" height="40" fill="#faf09a"/><rect x="0" y="200" width="40" height="40" fill="#fcf29a"/><rect x="40" y="200" width="40" height="40" fill="#fdf39a"/><rect x="80" y="200" width="80" height="40" fill="#fdf49b"/><rect x="160" y="200" width="40" height="40" fill="#fcf39c"/><rect x="200" y="200" width="40" height="40" fill="#fbf29e"/><rect x="240" y="200" width="40" height="40" fill="#faf19f"/><rect x="280" y="200" width="40" height="40" fill="#f9f19f"/><rect x="320" y="200" width="40" height="40" fill="#f8f09e"/><rect x="360" y="200" width="40" height="40" fill="#f7ee9c"/><rect x="400" y="200" width="40" height="40" fill="#f7ed99"/><rect x="440" y="200" width="40" height="40" fill="#f6eb95"/><rect x="480" y="200" width="40" height="40" fill="#f5e990"/><rect x="520" y="200" width="40" height="40" fill="#f3e68a"/><rect x="560" y="200" width="40" height="40" fill="#f2e385"/><rect x="600" y="200" width="40" height="40" fill="#efe07f"/><rect x="640" y="200" width="40" height="40" fill="#ecdc79"/><rect x="680" y="200" width="40" height="40" fill="#e9d874"/><rect x="720" y="200" width="40" height="40" fill="#e6d470"/><rect x="760" y="200" width="40" height="40" fill="#e3d16c"/><rect x="800" y="200" width="40" height="40" fill="#dfcd68"/><rect x="840" y="200" width="40" height="40" fill="#dcca66"/><rect x="880" y="200" width="40" height="40" fill="#dac864"/><rect x="920" y="200" width="40" height="40" fill="#d8c663"/><rect x="960" y="200" width="40" height="40" fill="#d6c462"/><rect x="1000" y="200" width="40" height="40" fill="#d4c261"/><rect x="1040" y="200" width="40" height="40" fill="#d2c061"/><rect x="1080" y="200" width="40" height="40" fill="#d0be60"/><rect x="1120" y="200" width="40" height="40" fill="#cebd60"/><rect x="1160" y="200" width="40" height="40" fill="#cdbb5f"/><rect x="1200" y="200" width="40" height="40" fill="#cbba5f"/><rect x="1240" y="200" width="40" height="40" fill="#c9b85f"/><rect x="1280" y="200" width="40" height="40" fill="#c7b65f"/><rect x="1320" y="200" width="40" height="40" fill="#c4b460"/><rect x="1360" y="200" width="40" height="40" fill="#c0b161"/><rect x="1400" y="200" width="40" height="40" fill="#bbac61"/><rect x="1440" y="200" width="40" height="40" fill="#b3a660"/><rect x="1480" y="200" width="40" height="40" fill="#aa9d5d"/><rect x="1520" y="200" width="40" height="40" fill="#9e9359"/><rect x="1560" y="200" width="40" height="40" fill="#928853"/><rect x="1600" y="200" width="40" height="40" fill="#847b4c"/><rect x="1640" y="200" width="40" height="40" fill="#776f44"/><rect x="1680" y="200" width="40" height="40" fill="#6a623c"/><rect x="1720" y="200" width="40" height="40" fill="#5e5735"/><rect x="1760" y="200" width="40" height="40" fill="#534c2f"/><rect x="1800" y="200" width="40" height="40" fill="#494329"/><rect x="1840" y="200" width="40" height="40" fill="#403b24"/><rect x="1880" y="200" width="40" height="40" fill="#393420"/><rect x="1920" y="200" width="40" height="40" fill="#322e1e"/><rect x="1960" y="200" width="40" height="40" fill="#2d291c"/><rect x="2000" y="200" width="40" height="40" fill="#28251b"/><rect x="2040" y="200" width="40" height="40" fill="#24211b"/><rect x="2080" y="200" width="40" height="40" fill="#211f1b"/><rect x="2120" y="200" width="40" height="40" fill="#1f1d1b"/><rect x="2160" y="200" width="120" height="40" fill="#1b1b1b"/><rect x="-200" y="240" width="40" height="40" fill="#eadf8f"/><rect x="-160" y="240" width="40" height="40" fill="#ece08d"/><rect x="-120" y="240" width="40" height="40" fill="#efe28c"/><rect x="-80" y="240" width="40" height="40" fill="#f1e58c"/><rect x="-40" y="240" width="40" height="40" fill="#f4e78b"/><rect x="0" y="240" width="40" height="40" fill="#f6e98b"/><rect x="40" y="240" width="40" height="40" fill="#f7ea8b"/><rect x="80" y="240" width="40" height="40" fill="#f8eb8b"/><rect x="120" y="240" width="40" height="40" fill="#f8ea8b"/><rect x="160" y="240" width="40" height="40" fill="#f7ea8c"/><rect x="200" y="240" width="40" height="40" fill="#f5e98e"/><rect x="240" y="240" width="40" height="40" fill="#f4e98f"/><rect x="280" y="240" width="40" height="40" fill="#f3e88f"/><rect x="320" y="240" width="40" height="40" fill="#f2e78e"/><rect x="360" y="240" width="40" height="40" fill="#f2e68c"/><rect x="400" y="240" width="40" height="40" fill="#f1e58a"/><rect x="440" y="240" width="40" height="40" fill="#f0e386"/><rect x="480" y="240" width="40" height="40" fill="#efe182"/><rect x="520" y="240" width="40" height="40" fill="#edde7d"/><rect x="560" y="240" width="40" height="40" fill="#ebdb78"/><rect x="600" y="240" width="40" height="40" fill="#e8d773"/><rect x="640" y="240" width="40" height="40" fill="#e5d46e"/><rect x="680" y="240" width="40" height="40" fill="#e2d069"/><rect x="720" y="240" width="40" height="40" fill="#dfcc65"/><rect x="760" y="240" width="40" height="40" fill="#dcc861"/><rect x="800" y="240" width="40" height="40" fill="#d8c55e"/><rect x="840" y="240" width="40" height="40" fill="#d5c25c"/><rect x="880" y="240" width="40" height="40" fill="#d3bf5a"/><rect x="920" y="240" width="40" height="40" fill="#d0bd59"/><rect x="960" y="240" width="40" height="40" fill="#cebb58"/><rect x="1000" y="240" width="40" height="40" fill="#ccb957"/><rect x="1040" y="240" width="40" height="40" fill="#cab757"/><rect x="1080" y="240" width="40" height="40" fill="#c8b556"/><rect x="1120" y="240" width="40" height="40" fill="#c6b356"/><rect x="1160" y="240" width="40" height="40" fill="#c4b256"/><rect x="1200" y="240" width="40" height="40" fill="#c2b055"/><rect x="1240" y="240" width="40" height="40" fill="#c0ae55"/><rect x="1280" y="240" width="40" height="40" fill="#bdac56"/><rect x="1320" y="240" width="40" height="40" fill="#baa956"/><rect x="1360" y="240" width="40" height="40" fill="#b5a556"/><rect x="1400" y="240" width="40" height="40" fill="#afa056"/><rect x="1440" y="240" width="40" height="40" fill="#a89a55"/><rect x="1480" y="240" width="40" height="40" fill="#9f9252"/><rect x="1520" y="240" width="40" height="40" fill="#94884e"/><rect x="1560" y="240" width="40" height="40" fill="#887e49"/><rect x="1600" y="240" width="40" height="40" fill="#7c7243"/><rect x="1640" y="240" width="40" height="40" fill="#70673d"/><rect x="1680" y="240" width="40" height="40" fill="#645c36"/><rect x="1720" y="240" width="40" height="40" fill="#595130"/><rect x="1760" y="240" width="40" height="40" fill="#4e482b"/><rect x="1800" y="240" width="40" height="40" fill="#463f26"/><rect x="1840" y="240" width="40" height="40" fill="#3e3822"/><rect x="1880" y="240" width="40" height="40" fill="#37311f"/><rect x="1920" y="240" width="40" height="40" fill="#312c1c"/><rect x="1960" y="240" width="40" height="40" fill="#2b271b"/><rect x="2000" y="240" width="40" height="40" fill="#27241b"/><rect x="2040" y="240" width="40" height="40" fill="#23211b"/><rect x="2080" y="240" width="40" height="40" fill="#211f1b"/><rect x="2120" y="240" width="40" height="40" fill="#1e1d1b"/><rect x="2160" y="240" width="120" height="40" fill="#1b1b1b"/><rect x="-200" y="280" width="40" height="40" fill="#e3d682"/><rect x="-160" y="280" width="40" height="40" fill="#e5d780"/><rect x="-120" y="280" width="40" height="40" fill="#e7d97f"/><rect x="-80" y="280" width="40" height="40" fill="#eadb7d"/><rect x="-40" y="280" width="40" height="40" fill="#ecdc7c"/><rect x="0" y="280" width="40" height="40" fill="#eedd7c"/><rect x="40" y="280" width="80" height="40" fill="#efde7b"/><rect x="120" y="280" width="40" height="40" fill="#efde7c"/><rect x="160" y="280" width="40" height="40" fill="#eede7d"/><rect x="200" y="280" width="40" height="40" fill="#edde7e"/><rect x="240" y="280" width="40" height="40" fill="#edde7f"/><rect x="280" y="280" width="40" height="40" fill="#ecde7f"/><rect x="320" y="280" width="40" height="40" fill="#ebdd7f"/><rect x="360" y="280" width="40" height="40" fill="#eadc7d"/><rect x="400" y="280" width="40" height="40" fill="#e9db7b"/><rect x="440" y="280" width="40" height="40" fill="#e8d978"/><rect x="480" y="280" width="40" height="40" fill="#e7d774"/><rect x="520" y="280" width="40" height="40" fill="#e5d570"/><rect x="560" y="280" width="40" height="40" fill="#e3d26c"/><rect x="600" y="280" width="40" height="40" fill="#e1cf67"/><rect x="640" y="280" width="40" height="40" fill="#decb63"/><rect x="680" y="280" width="40" height="40" fill="#dbc75f"/><rect x="720" y="280" width="40" height="40" fill="#d8c45b"/><rect x="760" y="280" width="40" height="40" fill="#d5c058"/><rect x="800" y="280" width="40" height="40" fill="#d1bd55"/><rect x="840" y="280" width="40" height="40" fill="#ceba53"/><rect x="880" y="280" width="40" height="40" fill="#ccb751"/><rect x="920" y="280" width="40" height="40" fill="#c9b550"/><rect x="960" y="280" width="40" height="40" fill="#c7b34f"/><rect x="1000" y="280" width="40" height="40" fill="#c4b14e"/><rect x="1040" y="280" width="40" height="40" fill="#c2af4e"/><rect x="1080" y="280" width="40" height="40" fill="#c0ad4d"/><rect x="1120" y="280" width="40" height="40" fill="#beab4d"/><rect x="1160" y="280" width="40" height="40" fill="#bca94d"/><rect x="1200" y="280" width="40" height="40" fill="#b9a74d"/><rect x="1240" y="280" width="40" height="40" fill="#b7a54d"/><rect x="1280" y="280" width="40" height="40" fill="#b3a24d"/><rect x="1320" y="280" width="40" height="40" fill="#b09f4d"/><rect x="1360" y="280" width="40" height="40" fill="#ab9b4d"/><rect x="1400" y="280" width="40" height="40" fill="#a5964d"/><rect x="1440" y="280" width="40" height="40" fill="#9d8f4b"/><rect x="1480" y="280" width="40" height="40" fill="#958749"/><rect x="1520" y="280" width="40" height="40" fill="#8b7f45"/><rect x="1560" y="280" width="40" height="40" fill="#807541"/><rect x="1600" y="280" width="40" height="40" fill="#746b3c"/><rect x="1640" y="280" width="40" height="40" fill="#696037"/><rect x="1680" y="280" width="40" height="40" fill="#5e5631"/><rect x="1720" y="280" width="40" height="40" fill="#544d2c"/><rect x="1760" y="280" width="40" height="40" fill="#4b4428"/><rect x="1800" y="280" width="40" height="40" fill="#433c23"/><rect x="1840" y="280" width="40" height="40" fill="#3b3620"/><rect x="1880" y="280" width="40" height="40" fill="#35301d"/><rect x="1920" y="280" width="40" height="40" fill="#2f2b1b"/><rect x="1960" y="280" width="40" height="40" fill="#2a261b"/><rect x="2000" y="280" width="40" height="40" fill="#26231b"/><rect x="2040" y="280" width="40" height="40" fill="#23201b"/><rect x="2080" y="280" width="40" height="40" fill="#201e1b"/><rect x="2120" y="280" width="40" height="40" fill="#1e1d1b"/><rect x="2160" y="280" width="120" height="40" fill="#1b1b1b"/><rect x="-200" y="320" width="40" height="40" fill="#dbcd76"/><rect x="-160" y="320" width="40" height="40" fill="#ddce74"/><rect x="-120" y="320" width="40" height="40" fill="#dfce72"/><rect x="-80" y="320" width="40" height="40" fill="#e0cf70"/><rect x="-40" y="320" width="40" height="40" fill="#e2d06e"/><rect x="0" y="320" width="40" height="40" fill="#e3d16d"/><rect x="40" y="320" width="80" height="40" fill="#e4d16c"/><rect x="120" y="320" width="40" height="40" fill="#e4d16d"/><rect x="160" y="320" width="40" height="40" fill="#e4d16e"/><rect x="200" y="320" width="40" height="40" fill="#e4d26f"/><rect x="240" y="320" width="80" height="40" fill="#e3d270"/><rect x="320" y="320" width="40" height="40" fill="#e2d270"/><rect x="360" y="320" width="40" height="40" fill="#e2d26f"/><rect x="400" y="320" width="40" height="40" fill="#e1d16d"/><rect x="440" y="320" width="40" height="40" fill="#e0cf6b"/><rect x="480" y="320" width="40" height="40" fill="#dfce68"/><rect x="520" y="320" width="40" height="40" fill="#ddcb64"/><rect x="560" y="320" width="40" height="40" fill="#dbc960"/><rect x="600" y="320" width="40" height="40" fill="#d9c65d"/><rect x="640" y="320" width="40" height="40" fill="#d6c259"/><rect x="680" y="320" width="40" height="40" fill="#d3bf55"/><rect x="720" y="320" width="40" height="40" fill="#d0bc52"/><rect x="760" y="320" width="40" height="40" fill="#cdb84f"/><rect x="800" y="320" width="40" height="40" fill="#cab54c"/><rect x="840" y="320" width="40" height="40" fill="#c7b24a"/><rect x="880" y="320" width="40" height="40" fill="#c4b049"/><rect x="920" y="320" width="40" height="40" fill="#c2ad47"/><rect x="960" y="320" width="40" height="40" fill="#bfab46"/><rect x="1000" y="320" width="40" height="40" fill="#bda946"/><rect x="1040" y="320" width="40" height="40" fill="#bba745"/><rect x="1080" y="320" width="40" height="40" fill="#b8a445"/><rect x="1120" y="320" width="40" height="40" fill="#b6a245"/><rect x="1160" y="320" width="40" height="40" fill="#b3a045"/><rect x="1200" y="320" width="40" height="40" fill="#b19e45"/><rect x="1240" y="320" width="40" height="40" fill="#ae9c45"/><rect x="1280" y="320" width="40" height="40" fill="#aa9945"/><rect x="1320" y="320" width="40" height="40" fill="#a69545"/><rect x="1360" y="320" width="40" height="40" fill="#a19145"/><rect x="1400" y="320" width="40" height="40" fill="#9b8c44"/><rect x="1440" y="320" width="40" height="40" fill="#948543"/><rect x="1480" y="320" width="40" height="40" fill="#8b7e41"/><rect x="1520" y="320" width="40" height="40" fill="#82763e"/><rect x="1560" y="320" width="40" height="40" fill="#786d3a"/><rect x="1600" y="320" width="40" height="40" fill="#6e6436"/><rect x="1640" y="320" width="40" height="40" fill="#645b31"/><rect x="1680" y="320" width="40" height="40" fill="#5a522d"/><rect x="1720" y="320" width="40" height="40" fill="#514929"/><rect x="1760" y="320" width="40" height="40" fill="#484125"/><rect x="1800" y="320" width="40" height="40" fill="#403a22"/><rect x="1840" y="320" width="40" height="40" fill="#39341f"/><rect x="1880" y="320" width="40" height="40" fill="#332e1c"/><rect x="1920" y="320" width="40" height="40" fill="#2e2a1b"/><rect x="1960" y="320" width="40" height="40" fill="#2a261b"/><rect x="2000" y="320" width="40" height="40" fill="#26231b"/><rect x="2040" y="320" width="40" height="40" fill="#23201b"/><rect x="2080" y="320" width="40" height="40" fill="#201e1b"/><rect x="2120" y="320" width="40" height="40" fill="#1e1d1b"/><rect x="2160" y="320" width="120" height="40" fill="#1b1b1b"/><rect x="-200" y="360" width="40" height="40" fill="#d2c36b"/><rect x="-160" y="360" width="40" height="40" fill="#d4c368"/><rect x="-120" y="360" width="40" height="40" fill="#d5c466"/><rect x="-80" y="360" width="40" height="40" fill="#d6c463"/><rect x="-40" y="360" width="40" height="40" fill="#d7c461"/><rect x="0" y="360" width="40" height="40" fill="#d8c460"/><rect x="40" y="360" width="80" height="40" fill="#d8c35f"/><rect x="120" y="360" width="40" height="40" fill="#d8c45f"/><rect x="160" y="360" width="40" height="40" fill="#d8c460"/><rect x="200" y="360" width="40" height="40" fill="#d9c561"/><rect x="240" y="360" width="40" height="40" fill="#d9c662"/><rect x="280" y="360" width="40" height="40" fill="#d9c763"/><rect x="320" y="360" width="40" height="40" fill="#d9c762"/><rect x="-200" y="400" width="40" height="40" fill="#c9b961"/><rect x="-160" y="400" width="40" height="40" fill="#cab95e"/><rect x="-120" y="400" width="40" height="40" fill="#cbb95b"/><rect x="-80" y="400" width="40" height="40" fill="#cbb858"/><rect x="-40" y="400" width="40" height="40" fill="#ccb856"/><rect x="0" y="400" width="40" height="40" fill="#ccb754"/><rect x="40" y="400" width="120" height="40" fill="#ccb753"/><rect x="160" y="400" width="40" height="40" fill="#cdb854"/><rect x="200" y="400" width="40" height="40" fill="#cdb955"/><rect x="240" y="400" width="40" height="40" fill="#ceba56"/><rect x="280" y="400" width="40" height="40" fill="#cebb56"/><rect x="320" y="400" width="40" height="40" fill="#cebc56"/><rect x="-200" y="440" width="40" height="40" fill="#bfaf57"/><rect x="-160" y="440" width="40" height="40" fill="#c0ae54"/><rect x="-120" y="440" width="40" height="40" fill="#c0ae51"/><rect x="-80" y="440" width="40" height="40" fill="#c0ad4e"/><rect x="-40" y="440" width="40" height="40" fill="#c1ac4b"/><rect x="0" y="440" width="40" height="40" fill="#c0ac4a"/><rect x="40" y="440" width="40" height="40" fill="#c0ab49"/><rect x="80" y="440" width="40" height="40" fill="#c0ab48"/><rect x="120" y="440" width="40" height="40" fill="#c1ab49"/><rect x="160" y="440" width="40" height="40" fill="#c1ac49"/><rect x="200" y="440" width="40" height="40" fill="#c2ad4a"/><rect x="240" y="440" width="40" height="40" fill="#c3af4b"/><rect x="280" y="440" width="40" height="40" fill="#c3b04b"/><rect x="320" y="440" width="40" height="40" fill="#c4b04c"/><rect x="-200" y="480" width="40" height="40" fill="#b5a54e"/><rect x="-160" y="480" width="40" height="40" fill="#b6a44b"/><rect x="-120" y="480" width="40" height="40" fill="#b6a348"/><rect x="-80" y="480" width="40" height="40" fill="#b6a245"/><rect x="-40" y="480" width="40" height="40" fill="#b5a242"/><rect x="0" y="480" width="40" height="40" fill="#b5a140"/><rect x="40" y="480" width="80" height="40" fill="#b5a03f"/><rect x="120" y="480" width="40" height="40" fill="#b5a13f"/><rect x="160" y="480" width="40" height="40" fill="#b6a140"/><rect x="200" y="480" width="40" height="40" fill="#b7a240"/><rect x="240" y="480" width="40" height="40" fill="#b8a341"/><rect x="280" y="480" width="40" height="40" fill="#b8a542"/><rect x="320" y="480" width="40" height="40" fill="#b9a542"/><rect x="-200" y="520" width="40" height="40" fill="#ab9b47"/><rect x="-160" y="520" width="40" height="40" fill="#ab9a43"/><rect x="-120" y="520" width="40" height="40" fill="#ab9940"/><rect x="-80" y="520" width="40" height="40" fill="#ab983d"/><rect x="-40" y="520" width="40" height="40" fill="#aa973a"/><rect x="0" y="520" width="40" height="40" fill="#aa9738"/><rect x="40" y="520" width="120" height="40" fill="#aa9637"/><rect x="160" y="520" width="40" height="40" fill="#ab9738"/><rect x="200" y="520" width="40" height="40" fill="#ac9838"/><rect x="240" y="520" width="40" height="40" fill="#ac9939"/><rect x="280" y="520" width="40" height="40" fill="#ad9a3a"/><rect x="320" y="520" width="40" height="40" fill="#ae9b3a"/><rect x="-200" y="560" width="40" height="40" fill="#a19240"/><rect x="-160" y="560" width="40" height="40" fill="#a1903d"/><rect x="-120" y="560" width="40" height="40" fill="#a08f39"/><rect x="-80" y="560" width="40" height="40" fill="#a08e36"/><rect x="-40" y="560" width="40" height="40" fill="#a08d34"/><rect x="0" y="560" width="40" height="40" fill="#9f8d32"/><rect x="40" y="560" width="40" height="40" fill="#9f8c31"/><rect x="80" y="560" width="40" height="40" fill="#9f8c30"/><rect x="120" y="560" width="40" height="40" fill="#9f8d31"/><rect x="160" y="560" width="40" height="40" fill="#a08d31"/><rect x="200" y="560" width="40" height="40" fill="#a08e32"/><rect x="240" y="560" width="40" height="40" fill="#a18f33"/><rect x="280" y="560" width="40" height="40" fill="#a29033"/><rect x="320" y="560" width="40" height="40" fill="#a39034"/><rect x="-200" y="600" width="40" height="40" fill="#98883b"/><rect x="-160" y="600" width="40" height="40" fill="#978737"/><rect x="-120" y="600" width="40" height="40" fill="#968634"/><rect x="-80" y="600" width="40" height="40" fill="#958531"/><rect x="-40" y="600" width="40" height="40" fill="#95842f"/><rect x="0" y="600" width="40" height="40" fill="#94832d"/><rect x="40" y="600" width="120" height="40" fill="#94832c"/><rect x="160" y="600" width="40" height="40" fill="#95832c"/><rect x="200" y="600" width="40" height="40" fill="#95842d"/><rect x="240" y="600" width="40" height="40" fill="#96852e"/><rect x="280" y="600" width="40" height="40" fill="#97862e"/><rect x="320" y="600" width="40" height="40" fill="#98862e"/><rect x="-200" y="640" width="40" height="40" fill="#8e8036"/><rect x="-160" y="640" width="40" height="40" fill="#8d7e33"/><rect x="-120" y="640" width="40" height="40" fill="#8c7d30"/><rect x="-80" y="640" width="40" height="40" fill="#8b7b2d"/><rect x="-40" y="640" width="40" height="40" fill="#8a7a2b"/><rect x="0" y="640" width="40" height="40" fill="#897a2a"/><rect x="40" y="640" width="120" height="40" fill="#897929"/><rect x="160" y="640" width="80" height="40" fill="#8a7a29"/><rect x="240" y="640" width="40" height="40" fill="#8b7b2a"/><rect x="280" y="640" width="40" height="40" fill="#8d7c2a"/><rect x="320" y="640" width="40" height="40" fill="#8e7d2a"/><rect x="-200" y="680" width="40" height="40" fill="#847732"/><rect x="-160" y="680" width="40" height="40" fill="#83752f"/><rect x="-120" y="680" width="40" height="40" fill="#82742d"/><rect x="-80" y="680" width="40" height="40" fill="#80722a"/><rect x="-40" y="680" width="40" height="40" fill="#7f7129"/><rect x="0" y="680" width="40" height="40" fill="#7f7027"/><rect x="40" y="680" width="120" height="40" fill="#7e7026"/><rect x="160" y="680" width="40" height="40" fill="#7f7026"/><rect x="200" y="680" width="40" height="40" fill="#807126"/><rect x="240" y="680" width="40" height="40" fill="#817227"/><rect x="280" y="680" width="40" height="40" fill="#827327"/><rect x="320" y="680" width="40" height="40" fill="#837427"/><rect x="-200" y="720" width="40" height="40" fill="#7b6f2f"/><rect x="-160" y="720" width="40" height="40" fill="#7a6d2d"/><rect x="-120" y="720" width="40" height="40" fill="#786b2a"/><rect x="-80" y="720" width="40" height="40" fill="#766a28"/><rect x="-40" y="720" width="40" height="40" fill="#756927"/><rect x="0" y="720" width="40" height="40" fill="#746826"/><rect x="40" y="720" width="120" height="40" fill="#736725"/><rect x="160" y="720" width="40" height="40" fill="#746725"/><rect x="200" y="720" width="40" height="40" fill="#756824"/><rect x="240" y="720" width="40" height="40" fill="#766924"/><rect x="280" y="720" width="40" height="40" fill="#786a24"/><rect x="320" y="720" width="40" height="40" fill="#796b24"/><rect x="-200" y="760" width="40" height="40" fill="#72672d"/><rect x="-160" y="760" width="40" height="40" fill="#70652a"/><rect x="-120" y="760" width="40" height="40" fill="#6f6328"/><rect x="-80" y="760" width="40" height="40" fill="#6d6227"/><rect x="-40" y="760" width="40" height="40" fill="#6b6026"/><rect x="0" y="760" width="40" height="40" fill="#6a5f25"/><rect x="40" y="760" width="120" height="40" fill="#695e24"/><rect x="160" y="760" width="40" height="40" fill="#6a5e23"/><rect x="200" y="760" width="40" height="40" fill="#6b5f23"/><rect x="240" y="760" width="40" height="40" fill="#6c6023"/><rect x="280" y="760" width="40" height="40" fill="#6e6122"/><rect x="320" y="760" width="40" height="40" fill="#6f6222"/><rect x="-200" y="800" width="40" height="40" fill="#6a602b"/><rect x="-160" y="800" width="40" height="40" fill="#685e29"/><rect x="-120" y="800" width="40" height="40" fill="#665c27"/><rect x="-80" y="800" width="40" height="40" fill="#645a26"/><rect x="-40" y="800" width="40" height="40" fill="#625825"/><rect x="0" y="800" width="40" height="40" fill="#615724"/><rect x="40" y="800" width="40" height="40" fill="#605624"/><rect x="80" y="800" width="40" height="40" fill="#5f5624"/><rect x="120" y="800" width="40" height="40" fill="#5f5623"/><rect x="160" y="800" width="40" height="40" fill="#605623"/><rect x="200" y="800" width="40" height="40" fill="#625722"/><rect x="240" y="800" width="40" height="40" fill="#635822"/><rect x="280" y="800" width="40" height="40" fill="#655921"/><rect x="320" y="800" width="40" height="40" fill="#665a21"/><rect x="-200" y="840" width="40" height="40" fill="#625929"/><rect x="-160" y="840" width="40" height="40" fill="#605727"/><rect x="-120" y="840" width="40" height="40" fill="#5e5526"/><rect x="-80" y="840" width="40" height="40" fill="#5c5325"/><rect x="-40" y="840" width="40" height="40" fill="#5a5124"/><rect x="0" y="840" width="40" height="40" fill="#585023"/><rect x="40" y="840" width="40" height="40" fill="#574f23"/><rect x="80" y="840" width="80" height="40" fill="#574e23"/><rect x="160" y="840" width="40" height="40" fill="#584f22"/><rect x="200" y="840" width="40" height="40" fill="#595021"/><rect x="240" y="840" width="40" height="40" fill="#5b5121"/><rect x="280" y="840" width="40" height="40" fill="#5c5220"/><rect x="320" y="840" width="40" height="40" fill="#5e5320"/><rect x="-200" y="880" width="40" height="40" fill="#5b5228"/><rect x="-160" y="880" width="40" height="40" fill="#585026"/><rect x="-120" y="880" width="40" height="40" fill="#564e25"/><rect x="-80" y="880" width="40" height="40" fill="#544c24"/><rect x="-40" y="880" width="40" height="40" fill="#524b23"/><rect x="0" y="880" width="40" height="40" fill="#514923"/><rect x="40" y="880" width="40" height="40" fill="#504823"/><rect x="80" y="880" width="80" height="40" fill="#4f4822"/><rect x="160" y="880" width="40" height="40" fill="#504821"/><rect x="200" y="880" width="40" height="40" fill="#514921"/><rect x="240" y="880" width="40" height="40" fill="#534a20"/><rect x="280" y="880" width="40" height="40" fill="#544b1f"/><rect x="320" y="880" width="40" height="40" fill="#564c1f"/><rect x="-200" y="920" width="40" height="40" fill="#544c26"/><rect x="-160" y="920" width="40" height="40" fill="#514a25"/><rect x="-120" y="920" width="40" height="40" fill="#4f4824"/><rect x="-80" y="920" width="40" height="40" fill="#4d4623"/><rect x="-40" y="920" width="40" height="40" fill="#4c4523"/><rect x="0" y="920" width="40" height="40" fill="#4a4322"/><rect x="40" y="920" width="40" height="40" fill="#494222"/><rect x="80" y="920" width="80" height="40" fill="#494221"/><rect x="160" y="920" width="40" height="40" fill="#494220"/><rect x="200" y="920" width="40" height="40" fill="#4a4320"/><rect x="240" y="920" width="40" height="40" fill="#4b441f"/><rect x="280" y="920" width="40" height="40" fill="#4d451f"/><rect x="320" y="920" width="40" height="40" fill="#4e461e"/><rect x="-200" y="960" width="40" height="40" fill="#4d4725"/><rect x="-160" y="960" width="40" height="40" fill="#4b4524"/><rect x="-120" y="960" width="40" height="40" fill="#494323"/><rect x="-80" y="960" width="40" height="40" fill="#474122"/><rect x="-40" y="960" width="40" height="40" fill="#453f22"/><rect x="0" y="960" width="40" height="40" fill="#443e22"/><rect x="40" y="960" width="40" height="40" fill="#433d21"/><rect x="80" y="960" width="40" height="40" fill="#423c21"/><rect x="120" y="960" width="40" height="40" fill="#423c20"/><rect x="160" y="960" width="40" height="40" fill="#433d20"/><rect x="200" y="960" width="40" height="40" fill="#443d1f"/><rect x="240" y="960" width="40" height="40" fill="#453e1f"/><rect x="280" y="960" width="40" height="40" fill="#463f1e"/><rect x="320" y="960" width="40" height="40" fill="#48401e"/><rect x="-200" y="1000" width="40" height="40" fill="#474124"/><rect x="-160" y="1000" width="40" height="40" fill="#453f23"/><rect x="-120" y="1000" width="40" height="40" fill="#433d23"/><rect x="-80" y="1000" width="40" height="40" fill="#413c22"/><rect x="-40" y="1000" width="40" height="40" fill="#3f3a21"/><rect x="0" y="1000" width="40" height="40" fill="#3e3921"/><rect x="40" y="1000" width="40" height="40" fill="#3d3821"/><rect x="80" y="1000" width="80" height="40" fill="#3d3720"/><rect x="160" y="1000" width="40" height="40" fill="#3d371f"/><rect x="200" y="1000" width="40" height="40" fill="#3e381f"/><rect x="240" y="1000" width="40" height="40" fill="#3f391e"/><rect x="280" y="1000" width="40" height="40" fill="#403a1e"/><rect x="320" y="1000" width="40" height="40" fill="#413b1d"/><rect x="-200" y="1040" width="40" height="40" fill="#423d24"/><rect x="-160" y="1040" width="40" height="40" fill="#403b23"/><rect x="-120" y="1040" width="40" height="40" fill="#3e3922"/><rect x="-80" y="1040" width="40" height="40" fill="#3c3721"/><rect x="-40" y="1040" width="40" height="40" fill="#3a3621"/><rect x="0" y="1040" width="40" height="40" fill="#393420"/><rect x="40" y="1040" width="40" height="40" fill="#383320"/><rect x="80" y="1040" width="40" height="40" fill="#373320"/><rect x="120" y="1040" width="40" height="40" fill="#37331f"/><rect x="160" y="1040" width="40" height="40" fill="#38331f"/><rect x="200" y="1040" width="40" height="40" fill="#38331e"/><rect x="240" y="1040" width="40" height="40" fill="#39341e"/><rect x="280" y="1040" width="40" height="40" fill="#3a351d"/><rect x="320" y="1040" width="40" height="40" fill="#3c361d"/><rect x="-200" y="1080" width="40" height="40" fill="#3d3823"/><rect x="-160" y="1080" width="40" height="40" fill="#3b3622"/><rect x="-120" y="1080" width="40" height="40" fill="#393521"/><rect x="-80" y="1080" width="40" height="40" fill="#373321"/><rect x="-40" y="1080" width="40" height="40" fill="#353120"/><rect x="0" y="1080" width="40" height="40" fill="#343020"/><rect x="40" y="1080" width="40" height="40" fill="#332f20"/><rect x="80" y="1080" width="40" height="40" fill="#332f1f"/><rect x="120" y="1080" width="40" height="40" fill="#322e1f"/><rect x="160" y="1080" width="80" height="40" fill="#332f1e"/><rect x="240" y="1080" width="40" height="40" fill="#34301d"/><rect x="280" y="1080" width="40" height="40" fill="#35301d"/><rect x="320" y="1080" width="40" height="40" fill="#36311d"/><rect x="-200" y="1120" width="40" height="40" fill="#383522"/><rect x="-160" y="1120" width="40" height="40" fill="#363321"/><rect x="-120" y="1120" width="40" height="40" fill="#343121"/><rect x="-80" y="1120" width="40" height="40" fill="#332f20"/><rect x="-40" y="1120" width="40" height="40" fill="#312e20"/><rect x="0" y="1120" width="40" height="40" fill="#302d1f"/><rect x="40" y="1120" width="40" height="40" fill="#2f2c1f"/><rect x="80" y="1120" width="40" height="40" fill="#2e2b1f"/><rect x="120" y="1120" width="80" height="40" fill="#2e2b1e"/><rect x="200" y="1120" width="40" height="40" fill="#2f2b1e"/><rect x="240" y="1120" width="40" height="40" fill="#302c1d"/><rect x="280" y="1120" width="40" height="40" fill="#312d1d"/><rect x="320" y="1120" width="40" height="40" fill="#322d1c"/><rect x="-200" y="1160" width="40" height="40" fill="#343121"/><rect x="-160" y="1160" width="40" height="40" fill="#322f21"/><rect x="-120" y="1160" width="40" height="40" fill="#302d20"/><rect x="-80" y="1160" width="40" height="40" fill="#2f2c20"/><rect x="-40" y="1160" width="40" height="40" fill="#2d2b1f"/><rect x="0" y="1160" width="40" height="40" fill="#2c291f"/><rect x="40" y="1160" width="40" height="40" fill="#2b281f"/><rect x="80" y="1160" width="120" height="40" fill="#2a281e"/><rect x="200" y="1160" width="40" height="40" fill="#2b281d"/><rect x="240" y="1160" width="40" height="40" fill="#2c291d"/><rect x="280" y="1160" width="40" height="40" fill="#2d291d"/><rect x="320" y="1160" width="40" height="40" fill="#2e2a1c"/><rect x="-200" y="1200" width="40" height="40" fill="#312e21"/><rect x="-160" y="1200" width="40" height="40" fill="#2f2c20"/><rect x="-120" y="1200" width="40" height="40" fill="#2d2a20"/><rect x="-80" y="1200" width="40" height="40" fill="#2b291f"/><rect x="-40" y="1200" width="40" height="40" fill="#2a281f"/><rect x="0" y="1200" width="40" height="40" fill="#29271e"/><rect x="40" y="1200" width="40" height="40" fill="#28261e"/><rect x="80" y="1200" width="80" height="40" fill="#27251e"/><rect x="160" y="1200" width="80" height="40" fill="#27251d"/><rect x="240" y="1200" width="40" height="40" fill="#28261d"/><rect x="280" y="1200" width="40" height="40" fill="#29261c"/><rect x="320" y="1200" width="40" height="40" fill="#2a271c"/><rect x="-200" y="1240" width="40" height="40" fill="#2d2b20"/><rect x="-160" y="1240" width="40" height="40" fill="#2b291f"/><rect x="-120" y="1240" width="40" height="40" fill="#2a281f"/><rect x="-80" y="1240" width="40" height="40" fill="#28261f"/><rect x="-40" y="1240" width="40" height="40" fill="#27251e"/><rect x="0" y="1240" width="40" height="40" fill="#26241e"/><rect x="40" y="1240" width="40" height="40" fill="#25231e"/><rect x="80" y="1240" width="40" height="40" fill="#24231e"/><rect x="120" y="1240" width="40" height="40" fill="#24221d"/><rect x="160" y="1240" width="80" height="40" fill="#24231d"/><rect x="240" y="1240" width="40" height="40" fill="#25231c"/><rect x="280" y="1240" width="40" height="40" fill="#26241c"/><rect x="320" y="1240" width="40" height="40" fill="#27241c"/><rect x="-200" y="1280" width="40" height="40" fill="#2a2920"/><rect x="-160" y="1280" width="40" height="40" fill="#29271f"/><rect x="-120" y="1280" width="40" height="40" fill="#27251e"/><rect x="-80" y="1280" width="40" height="40" fill="#26241e"/><rect x="-40" y="1280" width="40" height="40" fill="#24231e"/><rect x="0" y="1280" width="40" height="40" fill="#23221e"/><rect x="40" y="1280" width="160" height="40" fill="#22211d"/><rect x="200" y="1280" width="40" height="40" fill="#22211c"/><rect x="240" y="1280" width="40" height="40" fill="#23211c"/><rect x="280" y="1280" width="40" height="40" fill="#23221c"/><rect x="320" y="1280" width="40" height="40" fill="#24221c"/><rect x="-200" y="1320" width="40" height="40" fill="#28261f"/><rect x="-160" y="1320" width="40" height="40" fill="#26251e"/><rect x="-120" y="1320" width="40" height="40" fill="#25231e"/><rect x="-80" y="1320" width="40" height="40" fill="#23221e"/><rect x="-40" y="1320" width="40" height="40" fill="#22211d"/><rect x="0" y="1320" width="40" height="40" fill="#21201d"/><rect x="40" y="1320" width="40" height="40" fill="#20201d"/><rect x="80" y="1320" width="80" height="40" fill="#201f1d"/><rect x="160" y="1320" width="120" height="40" fill="#201f1c"/><rect x="280" y="1320" width="40" height="40" fill="#21201c"/><rect x="320" y="1320" width="40" height="40" fill="#22201c"/><rect x="-200" y="1360" width="40" height="40" fill="#26241e"/><rect x="-160" y="1360" width="40" height="40" fill="#24231e"/><rect x="-120" y="1360" width="40" height="40" fill="#23221d"/><rect x="-80" y="1360" width="40" height="40" fill="#21211d"/><rect x="-40" y="1360" width="40" height="40" fill="#20201d"/><rect x="0" y="1360" width="80" height="40" fill="#1f1f1d"/><rect x="80" y="1360" width="40" height="40" fill="#1e1e1d"/><rect x="120" y="1360" width="120" height="40" fill="#1e1e1c"/><rect x="240" y="1360" width="80" height="40" fill="#1f1e1c"/><rect x="320" y="1360" width="40" height="40" fill="#201f1b"/><rect x="-200" y="1400" width="40" height="40" fill="#24231e"/><rect x="-160" y="1400" width="40" height="40" fill="#22211d"/><rect x="-120" y="1400" width="40" height="40" fill="#21201d"/><rect x="-80" y="1400" width="40" height="40" fill="#201f1d"/><rect x="-40" y="1400" width="40" height="40" fill="#1f1e1d"/><rect x="0" y="1400" width="40" height="40" fill="#1e1e1c"/><rect x="40" y="1400" width="40" height="40" fill="#1e1d1c"/><rect x="80" y="1400" width="200" height="40" fill="#1b1b1b"/><rect x="280" y="1400" width="80" height="40" fill="#1e1d1b"/><rect x="-200" y="1440" width="40" height="40" fill="#22211d"/><rect x="-160" y="1440" width="40" height="40" fill="#20201d"/><rect x="-120" y="1440" width="40" height="40" fill="#1f1f1d"/><rect x="-80" y="1440" width="40" height="40" fill="#1e1e1c"/><rect x="-40" y="1440" width="400" height="40" fill="#1b1b1b"/><rect x="-200" y="1480" width="40" height="40" fill="#20201d"/><rect x="-160" y="1480" width="40" height="40" fill="#1f1f1c"/><rect x="-120" y="1480" width="40" height="40" fill="#1e1e1c"/><rect x="-80" y="1480" width="440" height="40" fill="#1b1b1b"/><rect x="-200" y="1520" width="40" height="40" fill="#1f1f1d"/><rect x="-160" y="1520" width="40" height="40" fill="#1e1d1c"/><rect x="-120" y="1520" width="200" height="40" fill="#1b1b1b"/><rect x="280" y="1520" width="80" height="40" fill="#1b1b1b"/><rect x="-200" y="1560" width="40" height="40" fill="#1e1e1c"/><rect x="-160" y="1560" width="120" height="40" fill="#1b1b1b"/><rect x="-200" y="1600" width="120" height="40" fill="#1b1b1b"/><rect x="-200" y="1640" width="80" height="40" fill="#1b1b1b"/><rect x="-200" y="1680" width="40" height="40" fill="#1b1b1b"/></g></svg>
<svg class="glow" width="2716" height="2400" viewBox="0 0 2716 2400" style=""><defs><filter id="gbi" x="-10%" y="-10%" width="120%" height="120%" color-interpolation-filters="sRGB"><feGaussianBlur stdDeviation="24"/></filter><clipPath id="gbi_c"><rect x="176" y="176" width="2364" height="2048" rx="58"/></clipPath></defs><g clip-path="url(#gbi_c)"><g filter="url(#gbi)"><rect x="-200" y="-200" width="3116" height="2800" fill="#1a1a1a"/><rect x="-40" y="-40" width="40" height="40" fill="#ffffc5"/><rect x="0" y="-40" width="40" height="40" fill="#ffffc4"/><rect x="40" y="-40" width="40" height="40" fill="#ffffc3"/><rect x="80" y="-40" width="40" height="40" fill="#ffffc2"/><rect x="120" y="-40" width="40" height="40" fill="#ffffc0"/><rect x="160" y="-40" width="40" height="40" fill="#ffffbe"/><rect x="200" y="-40" width="40" height="40" fill="#ffffbc"/><rect x="240" y="-40" width="40" height="40" fill="#ffffb9"/><rect x="280" y="-40" width="40" height="40" fill="#fffdb6"/><rect x="320" y="-40" width="40" height="40" fill="#fffbb3"/><rect x="360" y="-40" width="40" height="40" fill="#fff9b0"/><rect x="400" y="-40" width="40" height="40" fill="#fef7ad"/><rect x="440" y="-40" width="40" height="40" fill="#fcf5aa"/><rect x="480" y="-40" width="40" height="40" fill="#fbf3a7"/><rect x="520" y="-40" width="40" height="40" fill="#f9f1a4"/><rect x="560" y="-40" width="40" height="40" fill="#f7efa1"/><rect x="600" y="-40" width="40" height="40" fill="#f6ec9e"/><rect x="640" y="-40" width="40" height="40" fill="#f4ea9b"/><rect x="680" y="-40" width="40" height="40" fill="#f2e898"/><rect x="720" y="-40" width="40" height="40" fill="#f0e595"/><rect x="760" y="-40" width="40" height="40" fill="#ede392"/><rect x="800" y="-40" width="40" height="40" fill="#ebe08f"/><rect x="840" y="-40" width="40" height="40" fill="#e9de8d"/><rect x="880" y="-40" width="40" height="40" fill="#e6db8a"/><rect x="920" y="-40" width="40" height="40" fill="#e3d887"/><rect x="960" y="-40" width="40" height="40" fill="#e1d584"/><rect x="1000" y="-40" width="40" height="40" fill="#ded281"/><rect x="1040" y="-40" width="40" height="40" fill="#dbcf7f"/><rect x="1080" y="-40" width="40" height="40" fill="#d8cc7d"/><rect x="1120" y="-40" width="40" height="40" fill="#d4c97b"/><rect x="1160" y="-40" width="40" height="40" fill="#d1c679"/><rect x="1200" y="-40" width="40" height="40" fill="#cdc278"/><rect x="1240" y="-40" width="40" height="40" fill="#c9be76"/><rect x="1280" y="-40" width="40" height="40" fill="#c4ba75"/><rect x="1320" y="-40" width="40" height="40" fill="#bfb573"/><rect x="1360" y="-40" width="40" height="40" fill="#bab071"/><rect x="1400" y="-40" width="40" height="40" fill="#b3aa6f"/><rect x="1440" y="-40" width="40" height="40" fill="#aca36c"/><rect x="1480" y="-40" width="40" height="40" fill="#a49c69"/><rect x="1520" y="-40" width="40" height="40" fill="#9b9465"/><rect x="1560" y="-40" width="40" height="40" fill="#928b60"/><rect x="1600" y="-40" width="40" height="40" fill="#89825b"/><rect x="1640" y="-40" width="40" height="40" fill="#7f7956"/><rect x="1680" y="-40" width="40" height="40" fill="#767150"/><rect x="1720" y="-40" width="40" height="40" fill="#6d684b"/><rect x="1760" y="-40" width="40" height="40" fill="#646045"/><rect x="1800" y="-40" width="40" height="40" fill="#5c5840"/><rect x="1840" y="-40" width="40" height="40" fill="#53503b"/><rect x="1880" y="-40" width="40" height="40" fill="#4c4836"/><rect x="1920" y="-40" width="40" height="40" fill="#444132"/><rect x="1960" y="-40" width="40" height="40" fill="#3d3b2e"/><rect x="2000" y="-40" width="40" height="40" fill="#36352a"/><rect x="2040" y="-40" width="40" height="40" fill="#302f27"/><rect x="2080" y="-40" width="40" height="40" fill="#2b2a24"/><rect x="2120" y="-40" width="40" height="40" fill="#262521"/><rect x="2160" y="-40" width="40" height="40" fill="#22211e"/><rect x="2200" y="-40" width="40" height="40" fill="#1e1e1c"/><rect x="2240" y="-40" width="120" height="40" fill="#1a1a1a"/><rect x="-40" y="0" width="40" height="40" fill="#fffdbd"/><rect x="0" y="0" width="40" height="40" fill="#fffdbc"/><rect x="40" y="0" width="40" height="40" fill="#fffdbb"/><rect x="80" y="0" width="40" height="40" fill="#fffdba"/><rect x="120" y="0" width="40" height="40" fill="#fffcb8"/><rect x="160" y="0" width="40" height="40" fill="#fffcb6"/><rect x="200" y="0" width="40" height="40" fill="#fffbb4"/><rect x="240" y="0" width="40" height="40" fill="#fff9b1"/><rect x="280" y="0" width="40" height="40" fill="#fef8ae"/><rect x="320" y="0" width="40" height="40" fill="#fcf6ab"/><rect x="360" y="0" width="40" height="40" fill="#fbf4a8"/><rect x="400" y="0" width="40" height="40" fill="#faf2a4"/><rect x="440" y="0" width="40" height="40" fill="#f8f0a1"/><rect x="480" y="0" width="40" height="40" fill="#f6ed9e"/><rect x="520" y="0" width="40" height="40" fill="#f5eb9b"/><rect x="560" y="0" width="40" height="40" fill="#f3e998"/><rect x="600" y="0" width="40" height="40" fill="#f1e795"/><rect x="640" y="0" width="40" height="40" fill="#efe492"/><rect x="680" y="0" width="40" height="40" fill="#ede28f"/><rect x="720" y="0" width="40" height="40" fill="#ebdf8c"/><rect x="760" y="0" width="40" height="40" fill="#e9dd8a"/><rect x="800" y="0" width="40" height="40" fill="#e7da87"/><rect x="840" y="0" width="40" height="40" fill="#e4d884"/><rect x="880" y="0" width="40" height="40" fill="#e2d581"/><rect x="920" y="0" width="40" height="40" fill="#dfd27f"/><rect x="960" y="0" width="40" height="40" fill="#dccf7c"/><rect x="1000" y="0" width="40" height="40" fill="#d9cd79"/><rect x="1040" y="0" width="40" height="40" fill="#d6ca77"/><rect x="1080" y="0" width="40" height="40" fill="#d3c775"/><rect x="1120" y="0" width="40" height="40" fill="#d0c473"/><rect x="1160" y="0" width="40" height="40" fill="#cdc072"/><rect x="1200" y="0" width="40" height="40" fill="#c9bd71"/><rect x="1240" y="0" width="40" height="40" fill="#c5ba70"/><rect x="1280" y="0" width="40" height="40" fill="#c1b66f"/><rect x="1320" y="0" width="40" height="40" fill="#bcb16d"/><rect x="1360" y="0" width="40" height="40" fill="#b7ac6c"/><rect x="1400" y="0" width="40" height="40" fill="#b0a66a"/><rect x="1440" y="0" width="40" height="40" fill="#a9a067"/><rect x="1480" y="0" width="40" height="40" fill="#a19864"/><rect x="1520" y="0" width="40" height="40" fill="#989060"/><rect x="1560" y="0" width="40" height="40" fill="#8f875c"/><rect x="1600" y="0" width="40" height="40" fill="#857e57"/><rect x="1640" y="0" width="40" height="40" fill="#7b7551"/><rect x="1680" y="0" width="40" height="40" fill="#726c4c"/><rect x="1720" y="0" width="40" height="40" fill="#696447"/><rect x="1760" y="0" width="40" height="40" fill="#605b41"/><rect x="1800" y="0" width="40" height="40" fill="#58543c"/><rect x="1840" y="0" width="40" height="40" fill="#504c37"/><rect x="1880" y="0" width="40" height="40" fill="#484533"/><rect x="1920" y="0" width="40" height="40" fill="#413e2f"/><rect x="1960" y="0" width="40" height="40" fill="#3a382b"/><rect x="2000" y="0" width="40" height="40" fill="#343228"/><rect x="2040" y="0" width="40" height="40" fill="#2e2c25"/><rect x="2080" y="0" width="40" height="40" fill="#292722"/><rect x="2120" y="0" width="40" height="40" fill="#24231f"/><rect x="2160" y="0" width="40" height="40" fill="#20201d"/><rect x="2200" y="0" width="40" height="40" fill="#1d1d1b"/><rect x="2240" y="0" width="120" height="40" fill="#1a1a1a"/><rect x="-40" y="40" width="40" height="40" fill="#fcf7b5"/><rect x="0" y="40" width="40" height="40" fill="#fcf7b4"/><rect x="40" y="40" width="40" height="40" fill="#fcf7b3"/><rect x="80" y="40" width="40" height="40" fill="#fdf7b2"/><rect x="120" y="40" width="40" height="40" fill="#fcf7b0"/><rect x="160" y="40" width="40" height="40" fill="#fcf6ae"/><rect x="200" y="40" width="40" height="40" fill="#fbf5ac"/><rect x="240" y="40" width="40" height="40" fill="#faf4a9"/><rect x="280" y="40" width="40" height="40" fill="#f9f2a5"/><rect x="320" y="40" width="40" height="40" fill="#f8f0a2"/><rect x="360" y="40" width="40" height="40" fill="#f7ee9e"/><rect x="400" y="40" width="40" height="40" fill="#f5ec9b"/><rect x="440" y="40" width="40" height="40" fill="#f4ea98"/><rect x="480" y="40" width="40" height="40" fill="#f2e795"/><rect x="520" y="40" width="40" height="40" fill="#f0e592"/><rect x="560" y="40" width="40" height="40" fill="#eee38f"/><rect x="600" y="40" width="40" height="40" fill="#ece08c"/><rect x="640" y="40" width="40" height="40" fill="#eade89"/><rect x="680" y="40" width="40" height="40" fill="#e8dc86"/><rect x="720" y="40" width="40" height="40" fill="#e6d984"/><rect x="760" y="40" width="40" height="40" fill="#e4d781"/><rect x="800" y="40" width="40" height="40" fill="#e2d47e"/><rect x="840" y="40" width="40" height="40" fill="#dfd27c"/><rect x="880" y="40" width="40" height="40" fill="#ddcf79"/><rect x="920" y="40" width="40" height="40" fill="#dacc76"/><rect x="960" y="40" width="40" height="40" fill="#d7c973"/><rect x="1000" y="40" width="40" height="40" fill="#d4c670"/><rect x="1040" y="40" width="40" height="40" fill="#d1c36e"/><rect x="1080" y="40" width="40" height="40" fill="#cec16c"/><rect x="1120" y="40" width="40" height="40" fill="#cbbe6b"/><rect x="1160" y="40" width="40" height="40" fill="#c8bb6a"/><rect x="1200" y="40" width="40" height="40" fill="#c5b869"/><rect x="1240" y="40" width="40" height="40" fill="#c1b568"/><rect x="1280" y="40" width="40" height="40" fill="#bdb168"/><rect x="1320" y="40" width="40" height="40" fill="#b9ad67"/><rect x="1360" y="40" width="40" height="40" fill="#b3a866"/><rect x="1400" y="40" width="40" height="40" fill="#ada264"/><rect x="1440" y="40" width="40" height="40" fill="#a69c62"/><rect x="1480" y="40" width="40" height="40" fill="#9d945f"/><rect x="1520" y="40" width="40" height="40" fill="#948c5b"/><rect x="1560" y="40" width="40" height="40" fill="#8b8357"/><rect x="1600" y="40" width="40" height="40" fill="#817952"/><rect x="1640" y="40" width="40" height="40" fill="#77704d"/><rect x="1680" y="40" width="40" height="40" fill="#6d6747"/><rect x="1720" y="40" width="40" height="40" fill="#645f42"/><rect x="1760" y="40" width="40" height="40" fill="#5c573d"/><rect x="1800" y="40" width="40" height="40" fill="#545038"/><rect x="1840" y="40" width="40" height="40" fill="#4d4934"/><rect x="1880" y="40" width="40" height="40" fill="#464230"/><rect x="1920" y="40" width="40" height="40" fill="#3e3b2c"/><rect x="1960" y="40" width="40" height="40" fill="#383528"/><rect x="2000" y="40" width="40" height="40" fill="#312f25"/><rect x="2040" y="40" width="40" height="40" fill="#2c2a23"/><rect x="2080" y="40" width="40" height="40" fill="#272620"/><rect x="2120" y="40" width="40" height="40" fill="#23221e"/><rect x="2160" y="40" width="40" height="40" fill="#1f1e1c"/><rect x="2200" y="40" width="120" height="40" fill="#1a1a1a"/><rect x="-40" y="80" width="40" height="40" fill="#f7f1ad"/><rect x="0" y="80" width="40" height="40" fill="#f7f1ac"/><rect x="40" y="80" width="40" height="40" fill="#f8f1ab"/><rect x="80" y="80" width="40" height="40" fill="#f8f1aa"/><rect x="120" y="80" width="40" height="40" fill="#f8f1a8"/><rect x="160" y="80" width="40" height="40" fill="#f8f0a6"/><rect x="200" y="80" width="40" height="40" fill="#f7efa3"/><rect x="240" y="80" width="40" height="40" fill="#f6eea0"/><rect x="280" y="80" width="40" height="40" fill="#f5ec9c"/><rect x="320" y="80" width="40" height="40" fill="#f3ea98"/><rect x="360" y="80" width="40" height="40" fill="#f2e895"/><rect x="400" y="80" width="40" height="40" fill="#f0e691"/><rect x="440" y="80" width="40" height="40" fill="#efe38e"/><rect x="480" y="80" width="40" height="40" fill="#ede18b"/><rect x="520" y="80" width="40" height="40" fill="#ebdf88"/><rect x="560" y="80" width="40" height="40" fill="#e9dc85"/><rect x="600" y="80" width="40" height="40" fill="#e7da82"/><rect x="640" y="80" width="40" height="40" fill="#e5d880"/><rect x="680" y="80" width="40" height="40" fill="#e3d57d"/><rect x="720" y="80" width="40" height="40" fill="#e1d37b"/><rect x="760" y="80" width="40" height="40" fill="#dfd078"/><rect x="800" y="80" width="40" height="40" fill="#ddce76"/><rect x="840" y="80" width="40" height="40" fill="#dacb73"/><rect x="880" y="80" width="40" height="40" fill="#d8c970"/><rect x="920" y="80" width="40" height="40" fill="#d5c66d"/><rect x="960" y="80" width="40" height="40" fill="#d2c36a"/><rect x="1000" y="80" width="40" height="40" fill="#cfc067"/><rect x="1040" y="80" width="40" height="40" fill="#ccbd65"/><rect x="1080" y="80" width="40" height="40" fill="#c9ba63"/><rect x="1120" y="80" width="40" height="40" fill="#c6b762"/><rect x="1160" y="80" width="40" height="40" fill="#c3b561"/><rect x="1200" y="80" width="40" height="40" fill="#c0b261"/><rect x="1240" y="80" width="40" height="40" fill="#bdaf61"/><rect x="1280" y="80" width="40" height="40" fill="#b9ac61"/><rect x="1320" y="80" width="40" height="40" fill="#b5a860"/><rect x="1360" y="80" width="40" height="40" fill="#afa360"/><rect x="1400" y="80" width="40" height="40" fill="#a99e5f"/><rect x="1440" y="80" width="40" height="40" fill="#a2975d"/><rect x="1480" y="80" width="40" height="40" fill="#9a905a"/><rect x="1520" y="80" width="40" height="40" fill="#908756"/><rect x="1560" y="80" width="40" height="40" fill="#867e52"/><rect x="1600" y="80" width="40" height="40" fill="#7c744d"/><rect x="1640" y="80" width="40" height="40" fill="#726b48"/><rect x="1680" y="80" width="40" height="40" fill="#686243"/><rect x="1720" y="80" width="40" height="40" fill="#5f5a3e"/><rect x="1760" y="80" width="40" height="40" fill="#585339"/><rect x="1800" y="80" width="40" height="40" fill="#514c35"/><rect x="1840" y="80" width="40" height="40" fill="#4a4630"/><rect x="1880" y="80" width="40" height="40" fill="#433f2d"/><rect x="1920" y="80" width="40" height="40" fill="#3c3929"/><rect x="1960" y="80" width="40" height="40" fill="#353226"/><rect x="2000" y="80" width="40" height="40" fill="#2f2d23"/><rect x="2040" y="80" width="40" height="40" fill="#2a2821"/><rect x="2080" y="80" width="40" height="40" fill="#25241f"/><rect x="2120" y="80" width="40" height="40" fill="#22211d"/><rect x="2160" y="80" width="40" height="40" fill="#1e1e1c"/><rect x="2200" y="80" width="120" height="40" fill="#1a1a1a"/><rect x="-40" y="120" width="40" height="40" fill="#f2eaa4"/><rect x="0" y="120" width="40" height="40" fill="#f2eba3"/><rect x="40" y="120" width="40" height="40" fill="#f3eba2"/><rect x="80" y="120" width="40" height="40" fill="#f3eba1"/><rect x="120" y="120" width="40" height="40" fill="#f3eb9f"/><rect x="160" y="120" width="40" height="40" fill="#f3ea9d"/><rect x="200" y="120" width="40" height="40" fill="#f2e99a"/><rect x="240" y="120" width="40" height="40" fill="#f1e896"/><rect x="280" y="120" width="40" height="40" fill="#f0e692"/><rect x="320" y="120" width="40" height="40" fill="#eee48e"/><rect x="360" y="120" width="40" height="40" fill="#ede18b"/><rect x="400" y="120" width="40" height="40" fill="#ebdf87"/><rect x="440" y="120" width="40" height="40" fill="#eadd84"/><rect x="480" y="120" width="40" height="40" fill="#e8da81"/><rect x="520" y="120" width="40" height="40" fill="#e6d87e"/><rect x="560" y="120" width="40" height="40" fill="#e4d67c"/><rect x="600" y="120" width="40" height="40" fill="#e2d379"/><rect x="640" y="120" width="40" height="40" fill="#dfd176"/><rect x="680" y="120" width="40" height="40" fill="#ddce74"/><rect x="720" y="120" width="40" height="40" fill="#dbcc71"/><rect x="760" y="120" width="40" height="40" fill="#d9ca6f"/><rect x="800" y="120" width="40" height="40" fill="#d7c76d"/><rect x="840" y="120" width="40" height="40" fill="#d5c56a"/><rect x="880" y="120" width="40" height="40" fill="#d2c268"/><rect x="920" y="120" width="40" height="40" fill="#cfbf64"/><rect x="960" y="120" width="40" height="40" fill="#ccbc61"/><rect x="1000" y="120" width="40" height="40" fill="#c9b95e"/><rect x="1040" y="120" width="40" height="40" fill="#c6b65c"/><rect x="1080" y="120" width="40" height="40" fill="#c3b35a"/><rect x="1120" y="120" width="40" height="40" fill="#c0b158"/><rect x="1160" y="120" width="40" height="40" fill="#bdae58"/><rect x="1200" y="120" width="40" height="40" fill="#baac58"/><rect x="1240" y="120" width="40" height="40" fill="#b8a959"/><rect x="1280" y="120" width="40" height="40" fill="#b4a659"/><rect x="1320" y="120" width="40" height="40" fill="#b0a35a"/><rect x="1360" y="120" width="40" height="40" fill="#ab9e59"/><rect x="1400" y="120" width="40" height="40" fill="#a59959"/><rect x="1440" y="120" width="40" height="40" fill="#9e9357"/><rect x="1480" y="120" width="40" height="40" fill="#968b54"/><rect x="1520" y="120" width="40" height="40" fill="#8c8251"/><rect x="1560" y="120" width="40" height="40" fill="#82794d"/><rect x="1600" y="120" width="40" height="40" fill="#776f48"/><rect x="1640" y="120" width="40" height="40" fill="#6c6543"/><rect x="1680" y="120" width="40" height="40" fill="#625c3e"/><rect x="1720" y="120" width="40" height="40" fill="#5a5539"/><rect x="1760" y="120" width="40" height="40" fill="#534e35"/><rect x="1800" y="120" width="40" height="40" fill="#4d4831"/><rect x="1840" y="120" width="40" height="40" fill="#47432d"/><rect x="1880" y="120" width="40" height="40" fill="#413c2a"/><rect x="1920" y="120" width="40" height="40" fill="#3a3627"/><rect x="1960" y="120" width="40" height="40" fill="#333024"/><rect x="2000" y="120" width="40" height="40" fill="#2d2b22"/><rect x="2040" y="120" width="40" height="40" fill="#282620"/><rect x="2080" y="120" width="40" height="40" fill="#24231e"/><rect x="2120" y="120" width="40" height="40" fill="#21201d"/><rect x="2160" y="120" width="40" height="40" fill="#1e1d1b"/><rect x="2200" y="120" width="120" height="40" fill="#1a1a1a"/><rect x="-40" y="160" width="40" height="40" fill="#ece39a"/><rect x="0" y="160" width="40" height="40" fill="#ede499"/><rect x="40" y="160" width="40" height="40" fill="#ede498"/><rect x="80" y="160" width="40" height="40" fill="#eee497"/><rect x="120" y="160" width="40" height="40" fill="#eee495"/><rect x="160" y="160" width="40" height="40" fill="#eee493"/><rect x="200" y="160" width="40" height="40" fill="#ede390"/><rect x="240" y="160" width="40" height="40" fill="#ece18c"/><rect x="280" y="160" width="40" height="40" fill="#ebdf88"/><rect x="320" y="160" width="40" height="40" fill="#e9dd84"/><rect x="360" y="160" width="40" height="40" fill="#e8db80"/><rect x="400" y="160" width="40" height="40" fill="#e6d87d"/><rect x="440" y="160" width="40" height="40" fill="#e4d67a"/><rect x="480" y="160" width="40" height="40" fill="#e3d377"/><rect x="520" y="160" width="40" height="40" fill="#e1d175"/><rect x="560" y="160" width="40" height="40" fill="#decf72"/><rect x="600" y="160" width="40" height="40" fill="#dccc6f"/><rect x="640" y="160" width="40" height="40" fill="#daca6c"/><rect x="680" y="160" width="40" height="40" fill="#d8c76a"/><rect x="720" y="160" width="40" height="40" fill="#d6c568"/><rect x="760" y="160" width="40" height="40" fill="#d4c366"/><rect x="800" y="160" width="40" height="40" fill="#d1c064"/><rect x="840" y="160" width="40" height="40" fill="#cfbe62"/><rect x="880" y="160" width="40" height="40" fill="#cdbb5f"/><rect x="920" y="160" width="40" height="40" fill="#c9b85c"/><rect x="960" y="160" width="40" height="40" fill="#c6b558"/><rect x="1000" y="160" width="40" height="40" fill="#c3b255"/><rect x="1040" y="160" width="40" height="40" fill="#c0af52"/><rect x="1080" y="160" width="40" height="40" fill="#bcac50"/><rect x="1120" y="160" width="40" height="40" fill="#baaa4f"/><rect x="1160" y="160" width="40" height="40" fill="#b7a74f"/><rect x="1200" y="160" width="40" height="40" fill="#b5a54f"/><rect x="1240" y="160" width="40" height="40" fill="#b2a350"/><rect x="1280" y="160" width="40" height="40" fill="#afa052"/><rect x="1320" y="160" width="40" height="40" fill="#ab9d53"/><rect x="1360" y="160" width="40" height="40" fill="#a79953"/><rect x="1400" y="160" width="40" height="40" fill="#a19452"/><rect x="1440" y="160" width="40" height="40" fill="#9a8e51"/><rect x="1480" y="160" width="40" height="40" fill="#92864f"/><rect x="1520" y="160" width="40" height="40" fill="#887e4b"/><rect x="1560" y="160" width="40" height="40" fill="#7d7447"/><rect x="1600" y="160" width="40" height="40" fill="#716942"/><rect x="1640" y="160" width="40" height="40" fill="#665f3e"/><rect x="1680" y="160" width="40" height="40" fill="#5d5639"/><rect x="1720" y="160" width="40" height="40" fill="#554f35"/><rect x="1760" y="160" width="40" height="40" fill="#4f4a31"/><rect x="1800" y="160" width="40" height="40" fill="#4a452e"/><rect x="1840" y="160" width="40" height="40" fill="#45402a"/><rect x="1880" y="160" width="40" height="40" fill="#3f3a27"/><rect x="1920" y="160" width="40" height="40" fill="#383425"/><rect x="1960" y="160" width="40" height="40" fill="#312e22"/><rect x="2000" y="160" width="40" height="40" fill="#2b2920"/><rect x="2040" y="160" width="40" height="40" fill="#27251f"/><rect x="2080" y="160" width="40" height="40" fill="#23221d"/><rect x="2120" y="160" width="40" height="40" fill="#201f1c"/><rect x="2160" y="160" width="40" height="40" fill="#1e1d1b"/><rect x="2200" y="160" width="120" height="40" fill="#1a1a1a"/><rect x="-40" y="200" width="40" height="40" fill="#e6db90"/><rect x="0" y="200" width="40" height="40" fill="#e7dc8f"/><rect x="40" y="200" width="40" height="40" fill="#e8dd8e"/><rect x="80" y="200" width="40" height="40" fill="#e8dd8d"/><rect x="120" y="200" width="40" height="40" fill="#e9dd8b"/><rect x="160" y="200" width="40" height="40" fill="#e9dd89"/><rect x="200" y="200" width="40" height="40" fill="#e8dc86"/><rect x="240" y="200" width="40" height="40" fill="#e7da82"/><rect x="280" y="200" width="40" height="40" fill="#e5d87d"/><rect x="320" y="200" width="40" height="40" fill="#e4d67a"/><rect x="360" y="200" width="40" height="40" fill="#e2d377"/><rect x="400" y="200" width="40" height="40" fill="#e0d173"/><rect x="440" y="200" width="40" height="40" fill="#dece70"/><rect x="480" y="200" width="40" height="40" fill="#ddcc6e"/><rect x="520" y="200" width="40" height="40" fill="#dbca6c"/><rect x="560" y="200" width="40" height="40" fill="#d8c769"/><rect x="600" y="200" width="40" height="40" fill="#d6c566"/><rect x="640" y="200" width="40" height="40" fill="#d3c263"/><rect x="680" y="200" width="40" height="40" fill="#d2c061"/><rect x="720" y="200" width="40" height="40" fill="#d0be5e"/><rect x="760" y="200" width="40" height="40" fill="#cebc5d"/><rect x="800" y="200" width="40" height="40" fill="#cbb95b"/><rect x="840" y="200" width="40" height="40" fill="#c9b759"/><rect x="880" y="200" width="40" height="40" fill="#c7b457"/><rect x="920" y="200" width="40" height="40" fill="#c4b153"/><rect x="960" y="200" width="40" height="40" fill="#c0ae4f"/><rect x="1000" y="200" width="40" height="40" fill="#bdab4b"/><rect x="1040" y="200" width="40" height="40" fill="#b9a849"/><rect x="1080" y="200" width="40" height="40" fill="#b6a547"/><rect x="1120" y="200" width="40" height="40" fill="#b3a346"/><rect x="1160" y="200" width="40" height="40" fill="#b1a046"/><rect x="1200" y="200" width="40" height="40" fill="#af9e47"/><rect x="1240" y="200" width="40" height="40" fill="#ac9d48"/><rect x="1280" y="200" width="40" height="40" fill="#aa9a4a"/><rect x="1320" y="200" width="40" height="40" fill="#a6974b"/><rect x="1360" y="200" width="40" height="40" fill="#a2944c"/><rect x="1400" y="200" width="40" height="40" fill="#9c8f4c"/><rect x="1440" y="200" width="40" height="40" fill="#96894b"/><rect x="1480" y="200" width="40" height="40" fill="#8d8249"/><rect x="1520" y="200" width="40" height="40" fill="#847946"/><rect x="1560" y="200" width="40" height="40" fill="#796f41"/><rect x="1600" y="200" width="40" height="40" fill="#6d643d"/><rect x="1640" y="200" width="40" height="40" fill="#615a39"/><rect x="1680" y="200" width="40" height="40" fill="#575134"/><rect x="1720" y="200" width="40" height="40" fill="#504a31"/><rect x="1760" y="200" width="40" height="40" fill="#4b462e"/><rect x="1800" y="200" width="40" height="40" fill="#48422b"/><rect x="1840" y="200" width="40" height="40" fill="#433e28"/><rect x="1880" y="200" width="40" height="40" fill="#3d3825"/><rect x="1920" y="200" width="40" height="40" fill="#363223"/><rect x="1960" y="200" width="40" height="40" fill="#2f2c21"/><rect x="2000" y="200" width="40" height="40" fill="#2a271f"/><rect x="2040" y="200" width="40" height="40" fill="#26241e"/><rect x="2080" y="200" width="40" height="40" fill="#23211d"/><rect x="2120" y="200" width="40" height="40" fill="#201f1c"/><rect x="2160" y="200" width="40" height="40" fill="#1e1d1b"/><rect x="2200" y="200" width="120" height="40" fill="#1a1a1a"/><rect x="-40" y="240" width="40" height="40" fill="#dfd386"/><rect x="0" y="240" width="40" height="40" fill="#e0d485"/><rect x="40" y="240" width="40" height="40" fill="#e1d484"/><rect x="80" y="240" width="40" height="40" fill="#e2d582"/><rect x="120" y="240" width="40" height="40" fill="#e3d580"/><rect x="160" y="240" width="40" height="40" fill="#e3d57e"/><rect x="200" y="240" width="40" height="40" fill="#e2d47b"/><rect x="240" y="240" width="40" height="40" fill="#e1d277"/><rect x="280" y="240" width="40" height="40" fill="#dfd073"/><rect x="320" y="240" width="40" height="40" fill="#dece70"/><rect x="360" y="240" width="40" height="40" fill="#dccc6d"/><rect x="400" y="240" width="40" height="40" fill="#dac96a"/><rect x="440" y="240" width="40" height="40" fill="#d8c767"/><rect x="480" y="240" width="40" height="40" fill="#d6c565"/><rect x="520" y="240" width="40" height="40" fill="#d4c263"/><rect x="560" y="240" width="40" height="40" fill="#d2c060"/><rect x="600" y="240" width="40" height="40" fill="#cfbd5e"/><rect x="640" y="240" width="40" height="40" fill="#cdbb5b"/><rect x="680" y="240" width="40" height="40" fill="#cbb958"/><rect x="720" y="240" width="40" height="40" fill="#c9b655"/><rect x="760" y="240" width="40" height="40" fill="#c7b454"/><rect x="800" y="240" width="40" height="40" fill="#c5b252"/><rect x="840" y="240" width="40" height="40" fill="#c3b050"/><rect x="880" y="240" width="40" height="40" fill="#c1ad4e"/><rect x="920" y="240" width="40" height="40" fill="#beaa4a"/><rect x="960" y="240" width="40" height="40" fill="#baa746"/><rect x="1000" y="240" width="40" height="40" fill="#b7a442"/><rect x="1040" y="240" width="40" height="40" fill="#b3a140"/><rect x="1080" y="240" width="40" height="40" fill="#b09e3f"/><rect x="1120" y="240" width="40" height="40" fill="#ad9c3e"/><rect x="1160" y="240" width="40" height="40" fill="#ab9a3e"/><rect x="1200" y="240" width="40" height="40" fill="#a9983f"/><rect x="1240" y="240" width="40" height="40" fill="#a79641"/><rect x="1280" y="240" width="40" height="40" fill="#a49443"/><rect x="1320" y="240" width="40" height="40" fill="#a09144"/><rect x="1360" y="240" width="40" height="40" fill="#9c8d44"/><rect x="1400" y="240" width="40" height="40" fill="#978945"/><rect x="1440" y="240" width="40" height="40" fill="#908344"/><rect x="1480" y="240" width="40" height="40" fill="#897d43"/><rect x="1520" y="240" width="40" height="40" fill="#7f7440"/><rect x="1560" y="240" width="40" height="40" fill="#746b3c"/><rect x="1600" y="240" width="40" height="40" fill="#696038"/><rect x="1640" y="240" width="40" height="40" fill="#5e5634"/><rect x="1680" y="240" width="40" height="40" fill="#544d30"/><rect x="1720" y="240" width="40" height="40" fill="#4d472d"/><rect x="1760" y="240" width="40" height="40" fill="#49432b"/><rect x="1800" y="240" width="40" height="40" fill="#464028"/><rect x="1840" y="240" width="40" height="40" fill="#413c26"/><rect x="1880" y="240" width="40" height="40" fill="#3b3724"/><rect x="1920" y="240" width="40" height="40" fill="#353122"/><rect x="1960" y="240" width="40" height="40" fill="#2e2b20"/><rect x="2000" y="240" width="40" height="40" fill="#29271f"/><rect x="2040" y="240" width="40" height="40" fill="#26231e"/><rect x="2080" y="240" width="40" height="40" fill="#23211d"/><rect x="2120" y="240" width="40" height="40" fill="#201f1c"/><rect x="2160" y="240" width="40" height="40" fill="#1e1e1c"/><rect x="2200" y="240" width="40" height="40" fill="#1d1c1b"/><rect x="2240" y="240" width="120" height="40" fill="#1a1a1a"/><rect x="-40" y="280" width="40" height="40" fill="#d8cb7c"/><rect x="0" y="280" width="40" height="40" fill="#d9cb7b"/><rect x="40" y="280" width="40" height="40" fill="#dacc79"/><rect x="80" y="280" width="40" height="40" fill="#dbcc77"/><rect x="120" y="280" width="40" height="40" fill="#dccc75"/><rect x="160" y="280" width="40" height="40" fill="#dccc73"/><rect x="200" y="280" width="40" height="40" fill="#dccb70"/><rect x="240" y="280" width="40" height="40" fill="#dac96c"/><rect x="280" y="280" width="40" height="40" fill="#d8c769"/><rect x="320" y="280" width="40" height="40" fill="#d6c566"/><rect x="360" y="280" width="40" height="40" fill="#d4c363"/><rect x="400" y="280" width="40" height="40" fill="#d2c060"/><rect x="440" y="280" width="40" height="40" fill="#d1be5e"/><rect x="480" y="280" width="40" height="40" fill="#cfbd5c"/><rect x="520" y="280" width="40" height="40" fill="#cdbb5a"/><rect x="560" y="280" width="40" height="40" fill="#cbb858"/><rect x="600" y="280" width="40" height="40" fill="#c9b655"/><rect x="640" y="280" width="40" height="40" fill="#c6b353"/><rect x="680" y="280" width="40" height="40" fill="#c4b150"/><rect x="720" y="280" width="40" height="40" fill="#c2af4d"/><rect x="760" y="280" width="40" height="40" fill="#c0ad4b"/><rect x="800" y="280" width="40" height="40" fill="#beab49"/><rect x="840" y="280" width="40" height="40" fill="#bca947"/><rect x="880" y="280" width="40" height="40" fill="#baa645"/><rect x="920" y="280" width="40" height="40" fill="#b7a442"/><rect x="960" y="280" width="40" height="40" fill="#b4a13e"/><rect x="1000" y="280" width="40" height="40" fill="#b19e3b"/><rect x="1040" y="280" width="40" height="40" fill="#ae9b39"/><rect x="1080" y="280" width="40" height="40" fill="#ab9837"/><rect x="1120" y="280" width="40" height="40" fill="#a89637"/><rect x="1160" y="280" width="40" height="40" fill="#a59437"/><rect x="1200" y="280" width="40" height="40" fill="#a39238"/><rect x="1240" y="280" width="40" height="40" fill="#a19039"/><rect x="1280" y="280" width="40" height="40" fill="#9e8e3b"/><rect x="1320" y="280" width="40" height="40" fill="#9a8b3c"/><rect x="1360" y="280" width="40" height="40" fill="#96873d"/><rect x="1400" y="280" width="40" height="40" fill="#90823d"/><rect x="1440" y="280" width="40" height="40" fill="#8a7d3d"/><rect x="1480" y="280" width="40" height="40" fill="#83773c"/><rect x="1520" y="280" width="40" height="40" fill="#7a6f39"/><rect x="1560" y="280" width="40" height="40" fill="#716636"/><rect x="1600" y="280" width="40" height="40" fill="#665d33"/><rect x="1640" y="280" width="40" height="40" fill="#5c5430"/><rect x="1680" y="280" width="40" height="40" fill="#534c2d"/><rect x="1720" y="280" width="40" height="40" fill="#4d462b"/><rect x="1760" y="280" width="40" height="40" fill="#484229"/><rect x="1800" y="280" width="40" height="40" fill="#443f27"/><rect x="1840" y="280" width="40" height="40" fill="#403a25"/><rect x="1880" y="280" width="40" height="40" fill="#3a3623"/><rect x="1920" y="280" width="40" height="40" fill="#343021"/><rect x="1960" y="280" width="40" height="40" fill="#2f2b20"/><rect x="2000" y="280" width="40" height="40" fill="#2a271e"/><rect x="2040" y="280" width="40" height="40" fill="#26241e"/><rect x="2080" y="280" width="40" height="40" fill="#23211d"/><rect x="2120" y="280" width="40" height="40" fill="#211f1c"/><rect x="2160" y="280" width="40" height="40" fill="#1f1e1c"/><rect x="2200" y="280" width="40" height="40" fill="#1d1d1b"/><rect x="2240" y="280" width="120" height="40" fill="#1a1a1a"/><rect x="-40" y="320" width="40" height="40" fill="#d0c272"/><rect x="0" y="320" width="40" height="40" fill="#d1c270"/><rect x="40" y="320" width="40" height="40" fill="#d2c36e"/><rect x="80" y="320" width="40" height="40" fill="#d3c36c"/><rect x="120" y="320" width="40" height="40" fill="#d4c369"/><rect x="160" y="320" width="40" height="40" fill="#d4c267"/><rect x="200" y="320" width="40" height="40" fill="#d4c164"/><rect x="240" y="320" width="40" height="40" fill="#d2c061"/><rect x="280" y="320" width="40" height="40" fill="#d0be5e"/><rect x="320" y="320" width="40" height="40" fill="#cfbc5c"/><rect x="360" y="320" width="40" height="40" fill="#ccba59"/><rect x="400" y="320" width="40" height="40" fill="#cbb857"/><rect x="440" y="320" width="40" height="40" fill="#c9b656"/><rect x="480" y="320" width="40" height="40" fill="#c8b554"/><rect x="520" y="320" width="40" height="40" fill="#c6b352"/><rect x="560" y="320" width="40" height="40" fill="#c3b050"/><rect x="600" y="320" width="40" height="40" fill="#c1ae4d"/><rect x="640" y="320" width="40" height="40" fill="#bfac4a"/><rect x="680" y="320" width="40" height="40" fill="#bda947"/><rect x="720" y="320" width="40" height="40" fill="#bba744"/><rect x="760" y="320" width="40" height="40" fill="#b9a542"/><rect x="800" y="320" width="40" height="40" fill="#b7a340"/><rect x="840" y="320" width="40" height="40" fill="#b5a13e"/><rect x="880" y="320" width="40" height="40" fill="#b49f3c"/><rect x="920" y="320" width="40" height="40" fill="#b19d3a"/><rect x="960" y="320" width="40" height="40" fill="#af9b37"/><rect x="1000" y="320" width="40" height="40" fill="#ac9834"/><rect x="1040" y="320" width="40" height="40" fill="#a99632"/><rect x="1080" y="320" width="40" height="40" fill="#a69331"/><rect x="1120" y="320" width="40" height="40" fill="#a39131"/><rect x="1160" y="320" width="40" height="40" fill="#a08e31"/><rect x="1200" y="320" width="40" height="40" fill="#9e8c32"/><rect x="1240" y="320" width="40" height="40" fill="#9b8a33"/><rect x="1280" y="320" width="40" height="40" fill="#988734"/><rect x="1320" y="320" width="40" height="40" fill="#948435"/><rect x="1360" y="320" width="40" height="40" fill="#8f8036"/><rect x="1400" y="320" width="40" height="40" fill="#8a7c36"/><rect x="1440" y="320" width="40" height="40" fill="#847635"/><rect x="1480" y="320" width="40" height="40" fill="#7d7035"/><rect x="1520" y="320" width="40" height="40" fill="#756933"/><rect x="1560" y="320" width="40" height="40" fill="#6d6231"/><rect x="1600" y="320" width="40" height="40" fill="#645a2f"/><rect x="1640" y="320" width="40" height="40" fill="#5b522d"/><rect x="1680" y="320" width="40" height="40" fill="#534b2a"/><rect x="1720" y="320" width="40" height="40" fill="#4d4629"/><rect x="1760" y="320" width="40" height="40" fill="#484227"/><rect x="1800" y="320" width="40" height="40" fill="#443e26"/><rect x="1840" y="320" width="40" height="40" fill="#3f3a24"/><rect x="1880" y="320" width="40" height="40" fill="#3a3522"/><rect x="1920" y="320" width="40" height="40" fill="#353021"/><rect x="1960" y="320" width="40" height="40" fill="#302c1f"/><rect x="2000" y="320" width="40" height="40" fill="#2b281f"/><rect x="2040" y="320" width="40" height="40" fill="#27251e"/><rect x="2080" y="320" width="40" height="40" fill="#24221d"/><rect x="2120" y="320" width="40" height="40" fill="#21201d"/><rect x="2160" y="320" width="40" height="40" fill="#1f1e1c"/><rect x="2200" y="320" width="40" height="40" fill="#1d1d1c"/><rect x="2240" y="320" width="120" height="40" fill="#1a1a1a"/><rect x="-40" y="360" width="40" height="40" fill="#c8b968"/><rect x="0" y="360" width="40" height="40" fill="#c9b966"/><rect x="40" y="360" width="40" height="40" fill="#cab963"/><rect x="80" y="360" width="40" height="40" fill="#cbb961"/><rect x="120" y="360" width="40" height="40" fill="#cbb95e"/><rect x="160" y="360" width="40" height="40" fill="#ccb85b"/><rect x="200" y="360" width="40" height="40" fill="#cbb758"/><rect x="240" y="360" width="40" height="40" fill="#c9b555"/><rect x="280" y="360" width="40" height="40" fill="#c8b453"/><rect x="320" y="360" width="40" height="40" fill="#c7b452"/><rect x="360" y="360" width="40" height="40" fill="#c5b250"/><rect x="400" y="360" width="40" height="40" fill="#c4b04f"/><rect x="440" y="360" width="40" height="40" fill="#c2af4e"/><rect x="480" y="360" width="40" height="40" fill="#c1ad4c"/><rect x="520" y="360" width="40" height="40" fill="#beab4a"/><rect x="560" y="360" width="40" height="40" fill="#bca847"/><rect x="600" y="360" width="40" height="40" fill="#baa645"/><rect x="640" y="360" width="40" height="40" fill="#b8a442"/><rect x="680" y="360" width="40" height="40" fill="#b6a23f"/><rect x="720" y="360" width="40" height="40" fill="#b4a03c"/><rect x="760" y="360" width="40" height="40" fill="#b29e3a"/><rect x="800" y="360" width="40" height="40" fill="#b09c37"/><rect x="840" y="360" width="40" height="40" fill="#af9a35"/><rect x="880" y="360" width="40" height="40" fill="#ad9934"/><rect x="920" y="360" width="40" height="40" fill="#ac9732"/><rect x="960" y="360" width="40" height="40" fill="#aa9630"/><rect x="1000" y="360" width="40" height="40" fill="#a7932f"/><rect x="1040" y="360" width="40" height="40" fill="#a4912d"/><rect x="1080" y="360" width="40" height="40" fill="#a18e2c"/><rect x="1120" y="360" width="40" height="40" fill="#9f8c2b"/><rect x="1160" y="360" width="40" height="40" fill="#9c8a2c"/><rect x="1200" y="360" width="40" height="40" fill="#99872d"/><rect x="1240" y="360" width="40" height="40" fill="#96852e"/><rect x="1280" y="360" width="40" height="40" fill="#92822f"/><rect x="1320" y="360" width="40" height="40" fill="#8e7e2f"/><rect x="1360" y="360" width="40" height="40" fill="#897a30"/><rect x="1400" y="360" width="40" height="40" fill="#83752f"/><rect x="1440" y="360" width="40" height="40" fill="#7d702f"/><rect x="1480" y="360" width="40" height="40" fill="#766a2e"/><rect x="1520" y="360" width="40" height="40" fill="#6f642d"/><rect x="1560" y="360" width="40" height="40" fill="#685d2c"/><rect x="1600" y="360" width="40" height="40" fill="#60562b"/><rect x="1640" y="360" width="40" height="40" fill="#585029"/><rect x="1680" y="360" width="40" height="40" fill="#524a28"/><rect x="1720" y="360" width="40" height="40" fill="#4c4527"/><rect x="1760" y="360" width="40" height="40" fill="#484126"/><rect x="1800" y="360" width="40" height="40" fill="#433d25"/><rect x="1840" y="360" width="40" height="40" fill="#3e3923"/><rect x="1880" y="360" width="40" height="40" fill="#3a3422"/><rect x="1920" y="360" width="40" height="40" fill="#353020"/><rect x="1960" y="360" width="40" height="40" fill="#302c20"/><rect x="2000" y="360" width="40" height="40" fill="#2c281f"/><rect x="2040" y="360" width="40" height="40" fill="#28251e"/><rect x="2080" y="360" width="40" height="40" fill="#24221e"/><rect x="2120" y="360" width="40" height="40" fill="#22201d"/><rect x="2160" y="360" width="40" height="40" fill="#1f1e1d"/><rect x="2200" y="360" width="40" height="40" fill="#1d1d1c"/><rect x="2240" y="360" width="120" height="40" fill="#1a1a1a"/><rect x="-40" y="400" width="40" height="40" fill="#bfb05f"/><rect x="0" y="400" width="40" height="40" fill="#c0b05c"/><rect x="40" y="400" width="40" height="40" fill="#c1af59"/><rect x="80" y="400" width="40" height="40" fill="#c2af56"/><rect x="120" y="400" width="40" height="40" fill="#c2af53"/><rect x="160" y="400" width="40" height="40" fill="#c2ae50"/><rect x="200" y="400" width="40" height="40" fill="#c1ad4d"/><rect x="240" y="400" width="40" height="40" fill="#c0ab4a"/><rect x="280" y="400" width="80" height="40" fill="#bfab49"/><rect x="360" y="400" width="40" height="40" fill="#beaa48"/><rect x="400" y="400" width="40" height="40" fill="#bca847"/><rect x="440" y="400" width="40" height="40" fill="#bba746"/><rect x="480" y="400" width="40" height="40" fill="#b9a544"/><rect x="520" y="400" width="40" height="40" fill="#b6a242"/><rect x="560" y="400" width="40" height="40" fill="#b4a03f"/><rect x="600" y="400" width="40" height="40" fill="#b29e3d"/><rect x="640" y="400" width="40" height="40" fill="#b09c3b"/><rect x="680" y="400" width="40" height="40" fill="#af9b38"/><rect x="720" y="400" width="40" height="40" fill="#ad9935"/><rect x="760" y="400" width="40" height="40" fill="#ab9732"/><rect x="800" y="400" width="40" height="40" fill="#a99530"/><rect x="840" y="400" width="40" height="40" fill="#a8942e"/><rect x="880" y="400" width="40" height="40" fill="#a7932d"/><rect x="920" y="400" width="40" height="40" fill="#a6922c"/><rect x="960" y="400" width="40" height="40" fill="#a5912b"/><rect x="1000" y="400" width="40" height="40" fill="#a38f29"/><rect x="1040" y="400" width="40" height="40" fill="#a08d28"/><rect x="1080" y="400" width="40" height="40" fill="#9d8a27"/><rect x="1120" y="400" width="40" height="40" fill="#9b8827"/><rect x="1160" y="400" width="40" height="40" fill="#988528"/><rect x="1200" y="400" width="40" height="40" fill="#948329"/><rect x="1240" y="400" width="40" height="40" fill="#91802a"/><rect x="1280" y="400" width="40" height="40" fill="#8d7d2a"/><rect x="1320" y="400" width="40" height="40" fill="#88782b"/><rect x="1360" y="400" width="40" height="40" fill="#82742b"/><rect x="1400" y="400" width="40" height="40" fill="#7c6f2a"/><rect x="1440" y="400" width="40" height="40" fill="#76692a"/><rect x="1480" y="400" width="40" height="40" fill="#706429"/><rect x="1520" y="400" width="40" height="40" fill="#695e29"/><rect x="1560" y="400" width="40" height="40" fill="#625828"/><rect x="1600" y="400" width="40" height="40" fill="#5b5227"/><rect x="1640" y="400" width="40" height="40" fill="#554c27"/><rect x="1680" y="400" width="40" height="40" fill="#504826"/><rect x="1720" y="400" width="40" height="40" fill="#4b4326"/><rect x="1760" y="400" width="40" height="40" fill="#463f25"/><rect x="1800" y="400" width="40" height="40" fill="#423b24"/><rect x="1840" y="400" width="40" height="40" fill="#3d3723"/><rect x="1880" y="400" width="40" height="40" fill="#393321"/><rect x="1920" y="400" width="40" height="40" fill="#342f20"/><rect x="1960" y="400" width="40" height="40" fill="#302c20"/><rect x="2000" y="400" width="40" height="40" fill="#2c281f"/><rect x="2040" y="400" width="40" height="40" fill="#28251f"/><rect x="2080" y="400" width="40" height="40" fill="#25231e"/><rect x="2120" y="400" width="40" height="40" fill="#22201e"/><rect x="2160" y="400" width="40" height="40" fill="#1f1f1d"/><rect x="2200" y="400" width="40" height="40" fill="#1d1d1c"/><rect x="2240" y="400" width="120" height="40" fill="#1a1a1a"/><rect x="-40" y="440" width="40" height="40" fill="#b6a656"/><rect x="0" y="440" width="40" height="40" fill="#b7a653"/><rect x="40" y="440" width="40" height="40" fill="#b8a650"/><rect x="80" y="440" width="40" height="40" fill="#b8a54d"/><rect x="120" y="440" width="40" height="40" fill="#b9a54a"/><rect x="160" y="440" width="40" height="40" fill="#b9a447"/><rect x="200" y="440" width="40" height="40" fill="#b8a344"/><rect x="240" y="440" width="40" height="40" fill="#b7a242"/><rect x="280" y="440" width="40" height="40" fill="#b6a241"/><rect x="320" y="440" width="40" height="40" fill="#b7a241"/><rect x="360" y="440" width="40" height="40" fill="#b6a240"/><rect x="400" y="440" width="40" height="40" fill="#b5a13f"/><rect x="440" y="440" width="40" height="40" fill="#b39f3d"/><rect x="480" y="440" width="40" height="40" fill="#b09c3b"/><rect x="520" y="440" width="40" height="40" fill="#af9b3a"/><rect x="560" y="440" width="40" height="40" fill="#ad9938"/><rect x="600" y="440" width="40" height="40" fill="#ab9736"/><rect x="640" y="440" width="40" height="40" fill="#aa9634"/><rect x="680" y="440" width="40" height="40" fill="#a89432"/><rect x="720" y="440" width="40" height="40" fill="#a6922f"/><rect x="760" y="440" width="40" height="40" fill="#a4902c"/><rect x="800" y="440" width="40" height="40" fill="#a38f2a"/><rect x="840" y="440" width="40" height="40" fill="#a38e29"/><rect x="880" y="440" width="40" height="40" fill="#a28e28"/><rect x="920" y="440" width="40" height="40" fill="#a18d27"/><rect x="960" y="440" width="40" height="40" fill="#a08c26"/><rect x="1000" y="440" width="40" height="40" fill="#9f8b26"/><rect x="1040" y="440" width="40" height="40" fill="#9c8925"/><rect x="1080" y="440" width="40" height="40" fill="#9a8724"/><rect x="1120" y="440" width="40" height="40" fill="#978424"/><rect x="1160" y="440" width="40" height="40" fill="#948225"/><rect x="1200" y="440" width="40" height="40" fill="#907f26"/><rect x="1240" y="440" width="40" height="40" fill="#8c7c27"/><rect x="1280" y="440" width="40" height="40" fill="#887827"/><rect x="1320" y="440" width="40" height="40" fill="#827327"/><rect x="1360" y="440" width="40" height="40" fill="#7c6e27"/><rect x="1400" y="440" width="40" height="40" fill="#766927"/><rect x="1440" y="440" width="40" height="40" fill="#706326"/><rect x="1480" y="440" width="40" height="40" fill="#6a5e26"/><rect x="1520" y="440" width="40" height="40" fill="#635825"/><rect x="1560" y="440" width="40" height="40" fill="#5c5225"/><rect x="1600" y="440" width="40" height="40" fill="#574d24"/><rect x="1640" y="440" width="40" height="40" fill="#524925"/><rect x="1680" y="440" width="40" height="40" fill="#4d4524"/><rect x="1720" y="440" width="40" height="40" fill="#484124"/><rect x="1760" y="440" width="40" height="40" fill="#443d24"/><rect x="1800" y="440" width="40" height="40" fill="#3f3923"/><rect x="1840" y="440" width="40" height="40" fill="#3b3522"/><rect x="1880" y="440" width="40" height="40" fill="#373221"/><rect x="1920" y="440" width="40" height="40" fill="#332e20"/><rect x="1960" y="440" width="40" height="40" fill="#2f2b20"/><rect x="2000" y="440" width="40" height="40" fill="#2b281f"/><rect x="2040" y="440" width="40" height="40" fill="#28251f"/><rect x="2080" y="440" width="40" height="40" fill="#25231f"/><rect x="2120" y="440" width="40" height="40" fill="#22211e"/><rect x="2160" y="440" width="40" height="40" fill="#1f1f1d"/><rect x="2200" y="440" width="40" height="40" fill="#1d1d1c"/><rect x="2240" y="440" width="120" height="40" fill="#1a1a1a"/><rect x="-40" y="480" width="40" height="40" fill="#ad9d4e"/><rect x="0" y="480" width="40" height="40" fill="#ae9d4b"/><rect x="40" y="480" width="40" height="40" fill="#ae9c48"/><rect x="80" y="480" width="40" height="40" fill="#ae9c45"/><rect x="120" y="480" width="40" height="40" fill="#af9b42"/><rect x="160" y="480" width="40" height="40" fill="#af9b3f"/><rect x="200" y="480" width="40" height="40" fill="#ae9a3c"/><rect x="240" y="480" width="80" height="40" fill="#ad993a"/><rect x="320" y="480" width="40" height="40" fill="#ae9a3a"/><rect x="360" y="480" width="40" height="40" fill="#ae9a39"/><rect x="400" y="480" width="40" height="40" fill="#ad9939"/><rect x="440" y="480" width="40" height="40" fill="#ac9837"/><rect x="480" y="480" width="40" height="40" fill="#aa9635"/><rect x="520" y="480" width="40" height="40" fill="#a89433"/><rect x="560" y="480" width="40" height="40" fill="#a69232"/><rect x="600" y="480" width="40" height="40" fill="#a49030"/><rect x="640" y="480" width="40" height="40" fill="#a38f2f"/><rect x="680" y="480" width="40" height="40" fill="#a18e2c"/><rect x="720" y="480" width="40" height="40" fill="#a08c2a"/><rect x="760" y="480" width="40" height="40" fill="#9e8b28"/><rect x="800" y="480" width="40" height="40" fill="#9e8a26"/><rect x="840" y="480" width="40" height="40" fill="#9d8a25"/><rect x="880" y="480" width="40" height="40" fill="#9d8925"/><rect x="920" y="480" width="40" height="40" fill="#9d8924"/><rect x="960" y="480" width="40" height="40" fill="#9c8924"/><rect x="1000" y="480" width="40" height="40" fill="#9b8724"/><rect x="1040" y="480" width="40" height="40" fill="#988523"/><rect x="1080" y="480" width="40" height="40" fill="#968323"/><rect x="1120" y="480" width="40" height="40" fill="#938023"/><rect x="1160" y="480" width="40" height="40" fill="#8f7e24"/><rect x="1200" y="480" width="40" height="40" fill="#8c7b24"/><rect x="1240" y="480" width="40" height="40" fill="#887825"/><rect x="1280" y="480" width="40" height="40" fill="#837425"/><rect x="1320" y="480" width="40" height="40" fill="#7d6e25"/><rect x="1360" y="480" width="40" height="40" fill="#766925"/><rect x="1400" y="480" width="40" height="40" fill="#706324"/><rect x="1440" y="480" width="40" height="40" fill="#6a5e24"/><rect x="1480" y="480" width="40" height="40" fill="#645823"/><rect x="1520" y="480" width="40" height="40" fill="#5d5323"/><rect x="1560" y="480" width="40" height="40" fill="#584e23"/><rect x="1600" y="480" width="40" height="40" fill="#534a23"/><rect x="1640" y="480" width="40" height="40" fill="#4e4623"/><rect x="1680" y="480" width="40" height="40" fill="#4a4223"/><rect x="1720" y="480" width="40" height="40" fill="#463e23"/><rect x="1760" y="480" width="40" height="40" fill="#413a23"/><rect x="1800" y="480" width="40" height="40" fill="#3c3722"/><rect x="1840" y="480" width="40" height="40" fill="#383321"/><rect x="1880" y="480" width="40" height="40" fill="#353021"/><rect x="1920" y="480" width="40" height="40" fill="#322d20"/><rect x="1960" y="480" width="40" height="40" fill="#2e2b20"/><rect x="2000" y="480" width="40" height="40" fill="#2b2820"/><rect x="2040" y="480" width="40" height="40" fill="#28261f"/><rect x="2080" y="480" width="40" height="40" fill="#25231f"/><rect x="2120" y="480" width="40" height="40" fill="#22211e"/><rect x="2160" y="480" width="40" height="40" fill="#1f1f1d"/><rect x="2200" y="480" width="40" height="40" fill="#1d1d1d"/><rect x="2240" y="480" width="120" height="40" fill="#1a1a1a"/><rect x="-40" y="520" width="40" height="40" fill="#a49447"/><rect x="0" y="520" width="40" height="40" fill="#a49344"/><rect x="40" y="520" width="40" height="40" fill="#a49340"/><rect x="80" y="520" width="40" height="40" fill="#a4923d"/><rect x="120" y="520" width="40" height="40" fill="#a4923b"/><rect x="160" y="520" width="40" height="40" fill="#a59238"/><rect x="200" y="520" width="40" height="40" fill="#a49136"/><rect x="240" y="520" width="40" height="40" fill="#a39034"/><rect x="280" y="520" width="40" height="40" fill="#a39033"/><rect x="320" y="520" width="40" height="40" fill="#a59234"/><rect x="360" y="520" width="40" height="40" fill="#a69334"/><rect x="400" y="520" width="40" height="40" fill="#a69233"/><rect x="440" y="520" width="40" height="40" fill="#a59132"/><rect x="480" y="520" width="40" height="40" fill="#a39030"/><rect x="520" y="520" width="40" height="40" fill="#a18e2e"/><rect x="560" y="520" width="40" height="40" fill="#9f8c2d"/><rect x="600" y="520" width="40" height="40" fill="#9d8a2b"/><rect x="640" y="520" width="40" height="40" fill="#9c892a"/><rect x="680" y="520" width="40" height="40" fill="#9a8729"/><rect x="720" y="520" width="40" height="40" fill="#998627"/><rect x="760" y="520" width="40" height="40" fill="#998625"/><rect x="800" y="520" width="40" height="40" fill="#988524"/><rect x="840" y="520" width="160" height="40" fill="#988523"/><rect x="1000" y="520" width="40" height="40" fill="#968423"/><rect x="1040" y="520" width="40" height="40" fill="#948223"/><rect x="1080" y="520" width="40" height="40" fill="#917f22"/><rect x="1120" y="520" width="40" height="40" fill="#8e7c23"/><rect x="1160" y="520" width="40" height="40" fill="#8b7a23"/><rect x="1200" y="520" width="40" height="40" fill="#877724"/><rect x="1240" y="520" width="40" height="40" fill="#837324"/><rect x="1280" y="520" width="40" height="40" fill="#7e6f24"/><rect x="1320" y="520" width="40" height="40" fill="#776a24"/><rect x="1360" y="520" width="40" height="40" fill="#716424"/><rect x="1400" y="520" width="40" height="40" fill="#6a5e23"/><rect x="1440" y="520" width="40" height="40" fill="#645923"/><rect x="1480" y="520" width="40" height="40" fill="#5e5322"/><rect x="1520" y="520" width="40" height="40" fill="#584e22"/><rect x="1560" y="520" width="40" height="40" fill="#534a22"/><rect x="1600" y="520" width="40" height="40" fill="#4f4622"/><rect x="1640" y="520" width="40" height="40" fill="#4c4423"/><rect x="1680" y="520" width="40" height="40" fill="#484023"/><rect x="1720" y="520" width="40" height="40" fill="#433c23"/><rect x="1760" y="520" width="40" height="40" fill="#3e3822"/><rect x="1800" y="520" width="40" height="40" fill="#3a3421"/><rect x="1840" y="520" width="40" height="40" fill="#363121"/><rect x="1880" y="520" width="40" height="40" fill="#332e21"/><rect x="1920" y="520" width="40" height="40" fill="#302c20"/><rect x="1960" y="520" width="40" height="40" fill="#2e2a20"/><rect x="2000" y="520" width="40" height="40" fill="#2b2820"/><rect x="2040" y="520" width="40" height="40" fill="#282620"/><rect x="2080" y="520" width="40" height="40" fill="#25231f"/><rect x="2120" y="520" width="40" height="40" fill="#22211f"/><rect x="2160" y="520" width="40" height="40" fill="#1f1f1e"/><rect x="2200" y="520" width="40" height="40" fill="#1d1d1d"/><rect x="2240" y="520" width="120" height="40" fill="#1a1a1a"/><rect x="-40" y="560" width="40" height="40" fill="#9a8b41"/><rect x="0" y="560" width="40" height="40" fill="#9a8a3d"/><rect x="40" y="560" width="40" height="40" fill="#9a893a"/><rect x="80" y="560" width="40" height="40" fill="#9a8937"/><rect x="120" y="560" width="40" height="40" fill="#9a8935"/><rect x="160" y="560" width="40" height="40" fill="#9a8833"/><rect x="200" y="560" width="40" height="40" fill="#9a8831"/><rect x="240" y="560" width="80" height="40" fill="#9a882f"/><rect x="320" y="560" width="40" height="40" fill="#9c8a2f"/><rect x="360" y="560" width="40" height="40" fill="#9d8b2f"/><rect x="400" y="560" width="40" height="40" fill="#9e8b2f"/><rect x="440" y="560" width="40" height="40" fill="#9d8b2e"/><rect x="480" y="560" width="40" height="40" fill="#9c8a2c"/><rect x="520" y="560" width="40" height="40" fill="#9a882b"/><rect x="560" y="560" width="40" height="40" fill="#988529"/><rect x="600" y="560" width="40" height="40" fill="#968428"/><rect x="640" y="560" width="40" height="40" fill="#958227"/><rect x="680" y="560" width="40" height="40" fill="#948226"/><rect x="720" y="560" width="40" height="40" fill="#938125"/><rect x="760" y="560" width="40" height="40" fill="#938124"/><rect x="800" y="560" width="80" height="40" fill="#928023"/><rect x="880" y="560" width="80" height="40" fill="#928022"/><rect x="960" y="560" width="40" height="40" fill="#928023"/><rect x="1000" y="560" width="40" height="40" fill="#917f23"/><rect x="1040" y="560" width="40" height="40" fill="#8e7d23"/><rect x="1080" y="560" width="40" height="40" fill="#8c7a23"/><rect x="1120" y="560" width="40" height="40" fill="#897823"/><rect x="1160" y="560" width="40" height="40" fill="#867523"/><rect x="1200" y="560" width="40" height="40" fill="#827224"/><rect x="1240" y="560" width="40" height="40" fill="#7e6f24"/><rect x="1280" y="560" width="40" height="40" fill="#786a24"/><rect x="1320" y="560" width="40" height="40" fill="#726524"/><rect x="1360" y="560" width="40" height="40" fill="#6c6023"/><rect x="1400" y="560" width="40" height="40" fill="#655a23"/><rect x="1440" y="560" width="40" height="40" fill="#5f5422"/><rect x="1480" y="560" width="40" height="40" fill="#5a5022"/><rect x="1520" y="560" width="40" height="40" fill="#554b22"/><rect x="1560" y="560" width="40" height="40" fill="#504722"/><rect x="1600" y="560" width="40" height="40" fill="#4c4422"/><rect x="1640" y="560" width="40" height="40" fill="#4a4223"/><rect x="1680" y="560" width="40" height="40" fill="#463f23"/><rect x="1720" y="560" width="40" height="40" fill="#413b23"/><rect x="1760" y="560" width="40" height="40" fill="#3c3622"/><rect x="1800" y="560" width="40" height="40" fill="#383321"/><rect x="1840" y="560" width="40" height="40" fill="#353021"/><rect x="1880" y="560" width="40" height="40" fill="#322d21"/><rect x="1920" y="560" width="40" height="40" fill="#302c21"/><rect x="1960" y="560" width="40" height="40" fill="#2e2b21"/><rect x="2000" y="560" width="40" height="40" fill="#2c2921"/><rect x="2040" y="560" width="40" height="40" fill="#292620"/><rect x="2080" y="560" width="40" height="40" fill="#252420"/><rect x="2120" y="560" width="40" height="40" fill="#22211f"/><rect x="2160" y="560" width="40" height="40" fill="#201f1e"/><rect x="2200" y="560" width="40" height="40" fill="#1d1d1d"/><rect x="2240" y="560" width="120" height="40" fill="#1a1a1a"/><rect x="-40" y="600" width="40" height="40" fill="#91823b"/><rect x="0" y="600" width="40" height="40" fill="#908138"/><rect x="40" y="600" width="40" height="40" fill="#908035"/><rect x="80" y="600" width="40" height="40" fill="#908032"/><rect x="120" y="600" width="40" height="40" fill="#908030"/><rect x="160" y="600" width="40" height="40" fill="#907f2e"/><rect x="200" y="600" width="40" height="40" fill="#917f2d"/><rect x="240" y="600" width="40" height="40" fill="#907f2c"/><rect x="280" y="600" width="40" height="40" fill="#91802c"/><rect x="320" y="600" width="40" height="40" fill="#92812c"/><rect x="360" y="600" width="40" height="40" fill="#93822c"/><rect x="400" y="600" width="40" height="40" fill="#94832b"/><rect x="440" y="600" width="40" height="40" fill="#95832b"/><rect x="480" y="600" width="40" height="40" fill="#94822a"/><rect x="520" y="600" width="40" height="40" fill="#928128"/><rect x="560" y="600" width="40" height="40" fill="#907f27"/><rect x="600" y="600" width="40" height="40" fill="#8f7d26"/><rect x="640" y="600" width="40" height="40" fill="#8d7c25"/><rect x="680" y="600" width="40" height="40" fill="#8d7c24"/><rect x="720" y="600" width="40" height="40" fill="#8c7b24"/><rect x="760" y="600" width="80" height="40" fill="#8c7b23"/><rect x="840" y="600" width="80" height="40" fill="#8c7b22"/><rect x="920" y="600" width="40" height="40" fill="#8c7a22"/><rect x="960" y="600" width="40" height="40" fill="#8b7a23"/><rect x="1000" y="600" width="40" height="40" fill="#897923"/><rect x="1040" y="600" width="40" height="40" fill="#887723"/><rect x="1080" y="600" width="40" height="40" fill="#857523"/><rect x="1120" y="600" width="40" height="40" fill="#837323"/><rect x="1160" y="600" width="40" height="40" fill="#807123"/><rect x="1200" y="600" width="40" height="40" fill="#7d6e24"/><rect x="1240" y="600" width="40" height="40" fill="#786a24"/><rect x="1280" y="600" width="40" height="40" fill="#736624"/><rect x="1320" y="600" width="40" height="40" fill="#6d6124"/><rect x="1360" y="600" width="40" height="40" fill="#675c23"/><rect x="1400" y="600" width="40" height="40" fill="#615723"/><rect x="1440" y="600" width="40" height="40" fill="#5c5222"/><rect x="1480" y="600" width="40" height="40" fill="#574d22"/><rect x="1520" y="600" width="40" height="40" fill="#524922"/><rect x="1560" y="600" width="40" height="40" fill="#4e4522"/><rect x="1600" y="600" width="40" height="40" fill="#4b4322"/><rect x="1640" y="600" width="40" height="40" fill="#484023"/><rect x="1680" y="600" width="40" height="40" fill="#453e23"/><rect x="1720" y="600" width="40" height="40" fill="#413a23"/><rect x="1760" y="600" width="40" height="40" fill="#3c3622"/><rect x="1800" y="600" width="40" height="40" fill="#383222"/><rect x="1840" y="600" width="40" height="40" fill="#353021"/><rect x="1880" y="600" width="40" height="40" fill="#332e21"/><rect x="1920" y="600" width="40" height="40" fill="#312d21"/><rect x="1960" y="600" width="40" height="40" fill="#2f2b21"/><rect x="2000" y="600" width="40" height="40" fill="#2d2921"/><rect x="2040" y="600" width="40" height="40" fill="#292721"/><rect x="2080" y="600" width="40" height="40" fill="#262420"/><rect x="2120" y="600" width="40" height="40" fill="#23221f"/><rect x="2160" y="600" width="40" height="40" fill="#201f1e"/><rect x="2200" y="600" width="40" height="40" fill="#1e1d1d"/><rect x="2240" y="600" width="120" height="40" fill="#1a1a1a"/><rect x="-40" y="640" width="40" height="40" fill="#877937"/><rect x="0" y="640" width="40" height="40" fill="#877834"/><rect x="40" y="640" width="40" height="40" fill="#877831"/><rect x="80" y="640" width="40" height="40" fill="#86772f"/><rect x="120" y="640" width="40" height="40" fill="#87772c"/><rect x="160" y="640" width="40" height="40" fill="#87772b"/><rect x="200" y="640" width="40" height="40" fill="#87772a"/><rect x="240" y="640" width="40" height="40" fill="#877729"/><rect x="280" y="640" width="40" height="40" fill="#877829"/><rect x="320" y="640" width="40" height="40" fill="#887829"/><rect x="360" y="640" width="40" height="40" fill="#897a29"/><rect x="400" y="640" width="40" height="40" fill="#8a7a29"/><rect x="440" y="640" width="40" height="40" fill="#8b7a28"/><rect x="480" y="640" width="40" height="40" fill="#8a7a27"/><rect x="520" y="640" width="40" height="40" fill="#897926"/><rect x="560" y="640" width="40" height="40" fill="#887725"/><rect x="600" y="640" width="40" height="40" fill="#867625"/><rect x="640" y="640" width="40" height="40" fill="#867624"/><rect x="680" y="640" width="120" height="40" fill="#857523"/><rect x="800" y="640" width="120" height="40" fill="#857522"/><rect x="920" y="640" width="40" height="40" fill="#847422"/><rect x="960" y="640" width="40" height="40" fill="#837422"/><rect x="1000" y="640" width="40" height="40" fill="#827223"/><rect x="1040" y="640" width="40" height="40" fill="#807123"/><rect x="1080" y="640" width="40" height="40" fill="#7e6f23"/><rect x="1120" y="640" width="40" height="40" fill="#7c6e24"/><rect x="1160" y="640" width="40" height="40" fill="#7a6c24"/><rect x="1200" y="640" width="40" height="40" fill="#776924"/><rect x="1240" y="640" width="40" height="40" fill="#736624"/><rect x="1280" y="640" width="40" height="40" fill="#6e6224"/><rect x="1320" y="640" width="40" height="40" fill="#695d24"/><rect x="1360" y="640" width="40" height="40" fill="#645924"/><rect x="1400" y="640" width="40" height="40" fill="#5e5423"/><rect x="1440" y="640" width="40" height="40" fill="#595023"/><rect x="1480" y="640" width="40" height="40" fill="#544b22"/><rect x="1520" y="640" width="40" height="40" fill="#504722"/><rect x="1560" y="640" width="40" height="40" fill="#4c4422"/><rect x="1600" y="640" width="40" height="40" fill="#4a4222"/><rect x="1640" y="640" width="40" height="40" fill="#474023"/><rect x="1680" y="640" width="40" height="40" fill="#443d23"/><rect x="1720" y="640" width="40" height="40" fill="#403a23"/><rect x="1760" y="640" width="40" height="40" fill="#3c3623"/><rect x="1800" y="640" width="40" height="40" fill="#383322"/><rect x="1840" y="640" width="40" height="40" fill="#363022"/><rect x="1880" y="640" width="40" height="40" fill="#342f22"/><rect x="1920" y="640" width="40" height="40" fill="#322e22"/><rect x="1960" y="640" width="40" height="40" fill="#302c22"/><rect x="2000" y="640" width="40" height="40" fill="#2d2a21"/><rect x="2040" y="640" width="40" height="40" fill="#2a2721"/><rect x="2080" y="640" width="40" height="40" fill="#272520"/><rect x="2120" y="640" width="40" height="40" fill="#24221f"/><rect x="2160" y="640" width="40" height="40" fill="#21201e"/><rect x="2200" y="640" width="40" height="40" fill="#1e1e1d"/><rect x="2240" y="640" width="120" height="40" fill="#1a1a1a"/><rect x="-40" y="680" width="40" height="40" fill="#7e7133"/><rect x="0" y="680" width="40" height="40" fill="#7d7030"/><rect x="40" y="680" width="40" height="40" fill="#7d6f2e"/><rect x="80" y="680" width="40" height="40" fill="#7d6e2b"/><rect x="120" y="680" width="40" height="40" fill="#7c6e2a"/><rect x="160" y="680" width="80" height="40" fill="#7d6e28"/><rect x="240" y="680" width="40" height="40" fill="#7d6e27"/><rect x="280" y="680" width="40" height="40" fill="#7d6f27"/><rect x="320" y="680" width="40" height="40" fill="#7d7027"/><rect x="360" y="680" width="80" height="40" fill="#7f7127"/><rect x="440" y="680" width="40" height="40" fill="#807226"/><rect x="480" y="680" width="40" height="40" fill="#807126"/><rect x="520" y="680" width="40" height="40" fill="#7f7125"/><rect x="560" y="680" width="40" height="40" fill="#7f7024"/><rect x="600" y="680" width="40" height="40" fill="#7e6f24"/><rect x="640" y="680" width="160" height="40" fill="#7e6f23"/><rect x="800" y="680" width="120" height="40" fill="#7e6f22"/><rect x="920" y="680" width="40" height="40" fill="#7d6e22"/><rect x="960" y="680" width="40" height="40" fill="#7c6d22"/><rect x="1000" y="680" width="40" height="40" fill="#7a6c23"/><rect x="1040" y="680" width="40" height="40" fill="#786a23"/><rect x="1080" y="680" width="40" height="40" fill="#766924"/><rect x="1120" y="680" width="40" height="40" fill="#756724"/><rect x="1160" y="680" width="40" height="40" fill="#736624"/><rect x="1200" y="680" width="40" height="40" fill="#706424"/><rect x="1240" y="680" width="40" height="40" fill="#6d6124"/><rect x="1280" y="680" width="40" height="40" fill="#695d24"/><rect x="1320" y="680" width="40" height="40" fill="#645a24"/><rect x="1360" y="680" width="40" height="40" fill="#605624"/><rect x="1400" y="680" width="40" height="40" fill="#5b5224"/><rect x="1440" y="680" width="40" height="40" fill="#564d23"/><rect x="1480" y="680" width="40" height="40" fill="#524923"/><rect x="1520" y="680" width="40" height="40" fill="#4e4622"/><rect x="1560" y="680" width="40" height="40" fill="#4b4322"/><rect x="1600" y="680" width="40" height="40" fill="#484123"/><rect x="1640" y="680" width="40" height="40" fill="#463f23"/><rect x="1680" y="680" width="40" height="40" fill="#433c23"/><rect x="1720" y="680" width="40" height="40" fill="#3f3923"/><rect x="1760" y="680" width="40" height="40" fill="#3c3623"/><rect x="1800" y="680" width="40" height="40" fill="#393323"/><rect x="1840" y="680" width="40" height="40" fill="#363122"/><rect x="1880" y="680" width="40" height="40" fill="#342f22"/><rect x="1920" y="680" width="40" height="40" fill="#322d22"/><rect x="1960" y="680" width="40" height="40" fill="#302c22"/><rect x="2000" y="680" width="40" height="40" fill="#2d2921"/><rect x="2040" y="680" width="40" height="40" fill="#2a2721"/><rect x="2080" y="680" width="40" height="40" fill="#272520"/><rect x="2120" y="680" width="40" height="40" fill="#24231f"/><rect x="2160" y="680" width="40" height="40" fill="#21201e"/><rect x="2200" y="680" width="40" height="40" fill="#1f1e1d"/><rect x="2240" y="680" width="40" height="40" fill="#1d1d1c"/><rect x="2280" y="680" width="120" height="40" fill="#1a1a1a"/><rect x="-40" y="720" width="40" height="40" fill="#756930"/><rect x="0" y="720" width="40" height="40" fill="#74682d"/><rect x="40" y="720" width="40" height="40" fill="#73672b"/><rect x="80" y="720" width="40" height="40" fill="#736629"/><rect x="120" y="720" width="40" height="40" fill="#726528"/><rect x="160" y="720" width="40" height="40" fill="#726527"/><rect x="200" y="720" width="80" height="40" fill="#726526"/><rect x="280" y="720" width="40" height="40" fill="#726626"/><rect x="320" y="720" width="40" height="40" fill="#736726"/><rect x="360" y="720" width="40" height="40" fill="#746826"/><rect x="400" y="720" width="40" height="40" fill="#756925"/><rect x="440" y="720" width="40" height="40" fill="#766925"/><rect x="480" y="720" width="80" height="40" fill="#766924"/><rect x="560" y="720" width="40" height="40" fill="#766824"/><rect x="600" y="720" width="40" height="40" fill="#756823"/><rect x="640" y="720" width="40" height="40" fill="#766823"/><rect x="680" y="720" width="40" height="40" fill="#766923"/><rect x="720" y="720" width="120" height="40" fill="#776923"/><rect x="840" y="720" width="40" height="40" fill="#776922"/><rect x="880" y="720" width="40" height="40" fill="#766822"/><rect x="920" y="720" width="40" height="40" fill="#756722"/><rect x="960" y="720" width="40" height="40" fill="#746622"/><rect x="1000" y="720" width="40" height="40" fill="#726523"/><rect x="1040" y="720" width="40" height="40" fill="#716423"/><rect x="1080" y="720" width="40" height="40" fill="#6f6224"/><rect x="1120" y="720" width="40" height="40" fill="#6d6124"/><rect x="1160" y="720" width="40" height="40" fill="#6b5f24"/><rect x="1200" y="720" width="40" height="40" fill="#695d24"/><rect x="1240" y="720" width="40" height="40" fill="#665b25"/><rect x="1280" y="720" width="40" height="40" fill="#635925"/><rect x="1320" y="720" width="40" height="40" fill="#605525"/><rect x="1360" y="720" width="40" height="40" fill="#5c5225"/><rect x="1400" y="720" width="40" height="40" fill="#574e24"/><rect x="1440" y="720" width="40" height="40" fill="#534a24"/><rect x="1480" y="720" width="40" height="40" fill="#4f4723"/><rect x="1520" y="720" width="40" height="40" fill="#4b4323"/><rect x="1560" y="720" width="40" height="40" fill="#484022"/><rect x="1600" y="720" width="40" height="40" fill="#463e22"/><rect x="1640" y="720" width="40" height="40" fill="#433d23"/><rect x="1680" y="720" width="40" height="40" fill="#413a23"/><rect x="1720" y="720" width="40" height="40" fill="#3e3723"/><rect x="1760" y="720" width="40" height="40" fill="#3b3523"/><rect x="1800" y="720" width="40" height="40" fill="#383223"/><rect x="1840" y="720" width="40" height="40" fill="#353022"/><rect x="1880" y="720" width="40" height="40" fill="#332e22"/><rect x="1920" y="720" width="40" height="40" fill="#312d22"/><rect x="1960" y="720" width="40" height="40" fill="#2f2b21"/><rect x="2000" y="720" width="40" height="40" fill="#2c2921"/><rect x="2040" y="720" width="40" height="40" fill="#292620"/><rect x="2080" y="720" width="40" height="40" fill="#262420"/><rect x="2120" y="720" width="40" height="40" fill="#24221f"/><rect x="2160" y="720" width="40" height="40" fill="#21201e"/><rect x="2200" y="720" width="40" height="40" fill="#1f1e1d"/><rect x="2240" y="720" width="40" height="40" fill="#1d1d1c"/><rect x="2280" y="720" width="120" height="40" fill="#1a1a1a"/><rect x="-40" y="760" width="40" height="40" fill="#6d612d"/><rect x="0" y="760" width="40" height="40" fill="#6c602b"/><rect x="40" y="760" width="40" height="40" fill="#6a5f29"/><rect x="80" y="760" width="40" height="40" fill="#695e27"/><rect x="120" y="760" width="40" height="40" fill="#695d26"/><rect x="160" y="760" width="80" height="40" fill="#685d25"/><rect x="240" y="760" width="40" height="40" fill="#685d24"/><rect x="280" y="760" width="40" height="40" fill="#685e25"/><rect x="320" y="760" width="40" height="40" fill="#695f25"/><rect x="360" y="760" width="40" height="40" fill="#6a6025"/><rect x="400" y="760" width="40" height="40" fill="#6b6124"/><rect x="440" y="760" width="40" height="40" fill="#6c6124"/><rect x="480" y="760" width="120" height="40" fill="#6d6123"/><rect x="600" y="760" width="40" height="40" fill="#6e6123"/><rect x="640" y="760" width="40" height="40" fill="#6e6223"/><rect x="680" y="760" width="80" height="40" fill="#6f6222"/><rect x="760" y="760" width="80" height="40" fill="#706322"/><rect x="840" y="760" width="40" height="40" fill="#6f6322"/><rect x="880" y="760" width="40" height="40" fill="#6f6222"/><rect x="920" y="760" width="40" height="40" fill="#6e6122"/><rect x="960" y="760" width="40" height="40" fill="#6d6022"/><rect x="1000" y="760" width="40" height="40" fill="#6b5f23"/><rect x="1040" y="760" width="40" height="40" fill="#695d23"/><rect x="1080" y="760" width="40" height="40" fill="#675c23"/><rect x="1120" y="760" width="40" height="40" fill="#665a24"/><rect x="1160" y="760" width="40" height="40" fill="#645924"/><rect x="1200" y="760" width="40" height="40" fill="#625724"/><rect x="1240" y="760" width="40" height="40" fill="#605625"/><rect x="1280" y="760" width="40" height="40" fill="#5e5425"/><rect x="1320" y="760" width="40" height="40" fill="#5b5126"/><rect x="1360" y="760" width="40" height="40" fill="#574e25"/><rect x="1400" y="760" width="40" height="40" fill="#534b25"/><rect x="1440" y="760" width="40" height="40" fill="#4f4724"/><rect x="1480" y="760" width="40" height="40" fill="#4b4323"/><rect x="1520" y="760" width="40" height="40" fill="#474023"/><rect x="1560" y="760" width="40" height="40" fill="#443d22"/><rect x="1600" y="760" width="40" height="40" fill="#423b22"/><rect x="1640" y="760" width="40" height="40" fill="#403922"/><rect x="1680" y="760" width="40" height="40" fill="#3d3722"/><rect x="1720" y="760" width="40" height="40" fill="#3b3523"/><rect x="1760" y="760" width="40" height="40" fill="#383322"/><rect x="1800" y="760" width="40" height="40" fill="#363122"/><rect x="1840" y="760" width="40" height="40" fill="#342f22"/><rect x="1880" y="760" width="40" height="40" fill="#322d21"/><rect x="1920" y="760" width="40" height="40" fill="#302b21"/><rect x="1960" y="760" width="40" height="40" fill="#2d2a21"/><rect x="2000" y="760" width="40" height="40" fill="#2b2820"/><rect x="2040" y="760" width="40" height="40" fill="#282520"/><rect x="2080" y="760" width="40" height="40" fill="#25231f"/><rect x="2120" y="760" width="40" height="40" fill="#23211e"/><rect x="2160" y="760" width="40" height="40" fill="#201f1d"/><rect x="2200" y="760" width="40" height="40" fill="#1e1e1c"/><rect x="2240" y="760" width="40" height="40" fill="#1d1c1c"/><rect x="2280" y="760" width="120" height="40" fill="#1a1a1a"/><rect x="-40" y="800" width="40" height="40" fill="#655a2a"/><rect x="0" y="800" width="40" height="40" fill="#635929"/><rect x="40" y="800" width="40" height="40" fill="#625727"/><rect x="80" y="800" width="40" height="40" fill="#615625"/><rect x="120" y="800" width="40" height="40" fill="#605524"/><rect x="160" y="800" width="80" height="40" fill="#5f5524"/><rect x="240" y="800" width="40" height="40" fill="#5f5523"/><rect x="280" y="800" width="40" height="40" fill="#605624"/><rect x="320" y="800" width="40" height="40" fill="#605724"/><rect x="360" y="800" width="40" height="40" fill="#615824"/><rect x="400" y="800" width="40" height="40" fill="#635923"/><rect x="440" y="800" width="40" height="40" fill="#645923"/><rect x="480" y="800" width="80" height="40" fill="#655a23"/><rect x="560" y="800" width="40" height="40" fill="#665a22"/><rect x="600" y="800" width="40" height="40" fill="#665b22"/><rect x="640" y="800" width="40" height="40" fill="#675b22"/><rect x="680" y="800" width="40" height="40" fill="#675c22"/><rect x="720" y="800" width="200" height="40" fill="#685c22"/><rect x="920" y="800" width="40" height="40" fill="#675b22"/><rect x="960" y="800" width="40" height="40" fill="#655a22"/><rect x="1000" y="800" width="40" height="40" fill="#645922"/><rect x="1040" y="800" width="40" height="40" fill="#625723"/><rect x="1080" y="800" width="40" height="40" fill="#605623"/><rect x="1120" y="800" width="40" height="40" fill="#5e5423"/><rect x="1160" y="800" width="40" height="40" fill="#5d5223"/><rect x="1200" y="800" width="40" height="40" fill="#5b5124"/><rect x="1240" y="800" width="40" height="40" fill="#5a5025"/><rect x="1280" y="800" width="40" height="40" fill="#584f25"/><rect x="1320" y="800" width="40" height="40" fill="#564d26"/><rect x="1360" y="800" width="40" height="40" fill="#534a26"/><rect x="1400" y="800" width="40" height="40" fill="#4f4725"/><rect x="1440" y="800" width="40" height="40" fill="#4b4424"/><rect x="1480" y="800" width="40" height="40" fill="#474024"/><rect x="1520" y="800" width="40" height="40" fill="#433d23"/><rect x="1560" y="800" width="40" height="40" fill="#403a22"/><rect x="1600" y="800" width="40" height="40" fill="#3d3722"/><rect x="1640" y="800" width="40" height="40" fill="#3c3622"/><rect x="1680" y="800" width="40" height="40" fill="#3a3422"/><rect x="1720" y="800" width="40" height="40" fill="#383222"/><rect x="1760" y="800" width="40" height="40" fill="#363122"/><rect x="1800" y="800" width="40" height="40" fill="#342f22"/><rect x="1840" y="800" width="40" height="40" fill="#322d21"/><rect x="1880" y="800" width="40" height="40" fill="#302b21"/><rect x="1920" y="800" width="40" height="40" fill="#2e2a21"/><rect x="1960" y="800" width="40" height="40" fill="#2c2820"/><rect x="2000" y="800" width="40" height="40" fill="#292620"/><rect x="2040" y="800" width="40" height="40" fill="#27241f"/><rect x="2080" y="800" width="40" height="40" fill="#24221e"/><rect x="2120" y="800" width="40" height="40" fill="#22201e"/><rect x="2160" y="800" width="40" height="40" fill="#201f1d"/><rect x="2200" y="800" width="40" height="40" fill="#1e1d1c"/><rect x="2240" y="800" width="120" height="40" fill="#1a1a1a"/><rect x="-40" y="840" width="40" height="40" fill="#5d5429"/><rect x="0" y="840" width="40" height="40" fill="#5b5227"/><rect x="40" y="840" width="40" height="40" fill="#5a5125"/><rect x="80" y="840" width="40" height="40" fill="#594f24"/><rect x="120" y="840" width="40" height="40" fill="#584e23"/><rect x="160" y="840" width="80" height="40" fill="#574e23"/><rect x="240" y="840" width="40" height="40" fill="#574e22"/><rect x="280" y="840" width="40" height="40" fill="#584f23"/><rect x="320" y="840" width="40" height="40" fill="#585023"/><rect x="360" y="840" width="40" height="40" fill="#5a5123"/><rect x="400" y="840" width="40" height="40" fill="#5b5222"/><rect x="440" y="840" width="40" height="40" fill="#5c5222"/><rect x="480" y="840" width="40" height="40" fill="#5d5322"/><rect x="520" y="840" width="40" height="40" fill="#5e5422"/><rect x="560" y="840" width="40" height="40" fill="#5f5422"/><rect x="600" y="840" width="40" height="40" fill="#5f5522"/><rect x="640" y="840" width="80" height="40" fill="#605522"/><rect x="720" y="840" width="160" height="40" fill="#615622"/><rect x="880" y="840" width="80" height="40" fill="#605522"/><rect x="960" y="840" width="40" height="40" fill="#5f5422"/><rect x="1000" y="840" width="40" height="40" fill="#5d5322"/><rect x="1040" y="840" width="40" height="40" fill="#5c5122"/><rect x="1080" y="840" width="40" height="40" fill="#5a5023"/><rect x="1120" y="840" width="40" height="40" fill="#584e23"/><rect x="1160" y="840" width="40" height="40" fill="#564d23"/><rect x="1200" y="840" width="40" height="40" fill="#554c24"/><rect x="1240" y="840" width="40" height="40" fill="#544b25"/><rect x="1280" y="840" width="40" height="40" fill="#534a25"/><rect x="1320" y="840" width="40" height="40" fill="#514926"/><rect x="1360" y="840" width="40" height="40" fill="#4e4626"/><rect x="1400" y="840" width="40" height="40" fill="#4b4325"/><rect x="1440" y="840" width="40" height="40" fill="#474024"/><rect x="1480" y="840" width="40" height="40" fill="#433d24"/><rect x="1520" y="840" width="40" height="40" fill="#403923"/><rect x="1560" y="840" width="40" height="40" fill="#3c3722"/><rect x="1600" y="840" width="40" height="40" fill="#3a3422"/><rect x="1640" y="840" width="40" height="40" fill="#383321"/><rect x="1680" y="840" width="40" height="40" fill="#363121"/><rect x="1720" y="840" width="40" height="40" fill="#353021"/><rect x="1760" y="840" width="40" height="40" fill="#332e21"/><rect x="1800" y="840" width="40" height="40" fill="#312d21"/><rect x="1840" y="840" width="40" height="40" fill="#2f2b21"/><rect x="1880" y="840" width="40" height="40" fill="#2e2920"/><rect x="1920" y="840" width="40" height="40" fill="#2c2820"/><rect x="1960" y="840" width="40" height="40" fill="#2a2720"/><rect x="2000" y="840" width="40" height="40" fill="#28251f"/><rect x="2040" y="840" width="40" height="40" fill="#25231f"/><rect x="2080" y="840" width="40" height="40" fill="#23211e"/><rect x="2120" y="840" width="40" height="40" fill="#21201d"/><rect x="2160" y="840" width="40" height="40" fill="#1f1e1c"/><rect x="2200" y="840" width="40" height="40" fill="#1d1d1c"/><rect x="2240" y="840" width="120" height="40" fill="#1a1a1a"/><rect x="-40" y="880" width="40" height="40" fill="#564d27"/><rect x="0" y="880" width="40" height="40" fill="#544c25"/><rect x="40" y="880" width="40" height="40" fill="#534a24"/><rect x="80" y="880" width="40" height="40" fill="#514923"/><rect x="120" y="880" width="160" height="40" fill="#504822"/><rect x="280" y="880" width="40" height="40" fill="#514922"/><rect x="320" y="880" width="40" height="40" fill="#514a22"/><rect x="360" y="880" width="40" height="40" fill="#524a22"/><rect x="400" y="880" width="40" height="40" fill="#544b22"/><rect x="440" y="880" width="40" height="40" fill="#554c22"/><rect x="480" y="880" width="40" height="40" fill="#564d22"/><rect x="520" y="880" width="40" height="40" fill="#574d22"/><rect x="560" y="880" width="40" height="40" fill="#584e22"/><rect x="600" y="880" width="160" height="40" fill="#594f22"/><rect x="760" y="880" width="40" height="40" fill="#5a4f22"/><rect x="800" y="880" width="40" height="40" fill="#5a5022"/><rect x="840" y="880" width="120" height="40" fill="#594f22"/><rect x="960" y="880" width="40" height="40" fill="#584e22"/><rect x="1000" y="880" width="40" height="40" fill="#574d22"/><rect x="1040" y="880" width="40" height="40" fill="#554b22"/><rect x="1080" y="880" width="40" height="40" fill="#534a22"/><rect x="1120" y="880" width="40" height="40" fill="#514923"/><rect x="1160" y="880" width="40" height="40" fill="#504723"/><rect x="1200" y="880" width="40" height="40" fill="#4f4624"/><rect x="1240" y="880" width="40" height="40" fill="#4e4624"/><rect x="1280" y="880" width="40" height="40" fill="#4d4525"/><rect x="1320" y="880" width="40" height="40" fill="#4c4425"/><rect x="1360" y="880" width="40" height="40" fill="#494225"/><rect x="1400" y="880" width="40" height="40" fill="#463f25"/><rect x="1440" y="880" width="40" height="40" fill="#433c24"/><rect x="1480" y="880" width="40" height="40" fill="#3f3923"/><rect x="1520" y="880" width="40" height="40" fill="#3c3623"/><rect x="1560" y="880" width="40" height="40" fill="#393422"/><rect x="1600" y="880" width="40" height="40" fill="#373222"/><rect x="1640" y="880" width="40" height="40" fill="#353021"/><rect x="1680" y="880" width="40" height="40" fill="#332f21"/><rect x="1720" y="880" width="40" height="40" fill="#312d21"/><rect x="1760" y="880" width="40" height="40" fill="#302c21"/><rect x="1800" y="880" width="40" height="40" fill="#2e2a20"/><rect x="1840" y="880" width="40" height="40" fill="#2d2920"/><rect x="1880" y="880" width="40" height="40" fill="#2b2820"/><rect x="1920" y="880" width="40" height="40" fill="#29261f"/><rect x="1960" y="880" width="40" height="40" fill="#28251f"/><rect x="2000" y="880" width="40" height="40" fill="#26241f"/><rect x="2040" y="880" width="40" height="40" fill="#24221e"/><rect x="2080" y="880" width="40" height="40" fill="#22211e"/><rect x="2120" y="880" width="40" height="40" fill="#201f1d"/><rect x="2160" y="880" width="40" height="40" fill="#1e1d1c"/><rect x="2200" y="880" width="40" height="40" fill="#1d1c1b"/><rect x="2240" y="880" width="120" height="40" fill="#1a1a1a"/><rect x="-40" y="920" width="40" height="40" fill="#4f4725"/><rect x="0" y="920" width="40" height="40" fill="#4e4624"/><rect x="40" y="920" width="40" height="40" fill="#4c4523"/><rect x="80" y="920" width="40" height="40" fill="#4b4322"/><rect x="120" y="920" width="40" height="40" fill="#4a4321"/><rect x="160" y="920" width="80" height="40" fill="#494221"/><rect x="240" y="920" width="40" height="40" fill="#4a4221"/><rect x="280" y="920" width="40" height="40" fill="#4a4321"/><rect x="320" y="920" width="40" height="40" fill="#4b4421"/><rect x="360" y="920" width="40" height="40" fill="#4c4521"/><rect x="400" y="920" width="40" height="40" fill="#4d4521"/><rect x="440" y="920" width="40" height="40" fill="#4e4621"/><rect x="480" y="920" width="40" height="40" fill="#504721"/><rect x="520" y="920" width="40" height="40" fill="#504821"/><rect x="560" y="920" width="40" height="40" fill="#514821"/><rect x="600" y="920" width="120" height="40" fill="#524921"/><rect x="720" y="920" width="120" height="40" fill="#534921"/><rect x="840" y="920" width="80" height="40" fill="#524921"/><rect x="920" y="920" width="40" height="40" fill="#524821"/><rect x="960" y="920" width="40" height="40" fill="#514821"/><rect x="1000" y="920" width="40" height="40" fill="#504721"/><rect x="1040" y="920" width="40" height="40" fill="#4e4522"/><rect x="1080" y="920" width="40" height="40" fill="#4d4422"/><rect x="1120" y="920" width="40" height="40" fill="#4b4322"/><rect x="1160" y="920" width="40" height="40" fill="#4a4222"/><rect x="1200" y="920" width="40" height="40" fill="#494123"/><rect x="1240" y="920" width="40" height="40" fill="#484124"/><rect x="1280" y="920" width="40" height="40" fill="#474024"/><rect x="1320" y="920" width="40" height="40" fill="#463f25"/><rect x="1360" y="920" width="40" height="40" fill="#443e25"/><rect x="1400" y="920" width="40" height="40" fill="#423b24"/><rect x="1440" y="920" width="40" height="40" fill="#3f3924"/><rect x="1480" y="920" width="40" height="40" fill="#3b3623"/><rect x="1520" y="920" width="40" height="40" fill="#383322"/><rect x="1560" y="920" width="40" height="40" fill="#363122"/><rect x="1600" y="920" width="40" height="40" fill="#342f21"/><rect x="1640" y="920" width="40" height="40" fill="#322d21"/><rect x="1680" y="920" width="40" height="40" fill="#302c21"/><rect x="1720" y="920" width="40" height="40" fill="#2e2b21"/><rect x="1760" y="920" width="40" height="40" fill="#2d2920"/><rect x="1800" y="920" width="40" height="40" fill="#2b2820"/><rect x="1840" y="920" width="40" height="40" fill="#2a2720"/><rect x="1880" y="920" width="40" height="40" fill="#29261f"/><rect x="1920" y="920" width="40" height="40" fill="#27251f"/><rect x="1960" y="920" width="40" height="40" fill="#26231f"/><rect x="2000" y="920" width="40" height="40" fill="#24221e"/><rect x="2040" y="920" width="40" height="40" fill="#23211e"/><rect x="2080" y="920" width="40" height="40" fill="#21201d"/><rect x="2120" y="920" width="40" height="40" fill="#1f1e1d"/><rect x="2160" y="920" width="40" height="40" fill="#1e1d1c"/><rect x="2200" y="920" width="120" height="40" fill="#1a1a1a"/><rect x="-40" y="960" width="40" height="40" fill="#494224"/><rect x="0" y="960" width="40" height="40" fill="#474123"/><rect x="40" y="960" width="40" height="40" fill="#463f22"/><rect x="80" y="960" width="40" height="40" fill="#453e21"/><rect x="120" y="960" width="40" height="40" fill="#443d21"/><rect x="160" y="960" width="120" height="40" fill="#443d20"/><rect x="280" y="960" width="40" height="40" fill="#443e20"/><rect x="320" y="960" width="40" height="40" fill="#453e20"/><rect x="360" y="960" width="40" height="40" fill="#463f21"/><rect x="400" y="960" width="40" height="40" fill="#474021"/><rect x="440" y="960" width="40" height="40" fill="#484121"/><rect x="480" y="960" width="40" height="40" fill="#494121"/><rect x="520" y="960" width="40" height="40" fill="#4a4221"/><rect x="560" y="960" width="40" height="40" fill="#4b4221"/><rect x="600" y="960" width="40" height="40" fill="#4b4321"/><rect x="640" y="960" width="200" height="40" fill="#4c4321"/><rect x="840" y="960" width="80" height="40" fill="#4b4321"/><rect x="920" y="960" width="40" height="40" fill="#4b4221"/><rect x="960" y="960" width="40" height="40" fill="#4a4121"/><rect x="1000" y="960" width="40" height="40" fill="#494121"/><rect x="1040" y="960" width="40" height="40" fill="#474021"/><rect x="1080" y="960" width="40" height="40" fill="#463e21"/><rect x="1120" y="960" width="40" height="40" fill="#453d21"/><rect x="1160" y="960" width="40" height="40" fill="#443c22"/><rect x="1200" y="960" width="40" height="40" fill="#433c22"/><rect x="1240" y="960" width="40" height="40" fill="#423b23"/><rect x="1280" y="960" width="40" height="40" fill="#413b23"/><rect x="1320" y="960" width="40" height="40" fill="#403a24"/><rect x="1360" y="960" width="40" height="40" fill="#3f3924"/><rect x="1400" y="960" width="40" height="40" fill="#3d3724"/><rect x="1440" y="960" width="40" height="40" fill="#3a3523"/><rect x="1480" y="960" width="40" height="40" fill="#373223"/><rect x="1520" y="960" width="40" height="40" fill="#353022"/><rect x="1560" y="960" width="40" height="40" fill="#322e22"/><rect x="1600" y="960" width="40" height="40" fill="#302c21"/><rect x="1640" y="960" width="40" height="40" fill="#2e2b21"/><rect x="1680" y="960" width="40" height="40" fill="#2d2a20"/><rect x="1720" y="960" width="40" height="40" fill="#2b2820"/><rect x="1760" y="960" width="40" height="40" fill="#2a2720"/><rect x="1800" y="960" width="40" height="40" fill="#292620"/><rect x="1840" y="960" width="40" height="40" fill="#27251f"/><rect x="1880" y="960" width="40" height="40" fill="#26241f"/><rect x="1920" y="960" width="40" height="40" fill="#25231f"/><rect x="1960" y="960" width="40" height="40" fill="#24221e"/><rect x="2000" y="960" width="40" height="40" fill="#23211e"/><rect x="2040" y="960" width="40" height="40" fill="#21201d"/><rect x="2080" y="960" width="40" height="40" fill="#201f1d"/><rect x="2120" y="960" width="40" height="40" fill="#1f1e1c"/><rect x="2160" y="960" width="40" height="40" fill="#1d1d1c"/><rect x="2200" y="960" width="120" height="40" fill="#1a1a1a"/><rect x="-40" y="1000" width="40" height="40" fill="#433d23"/><rect x="0" y="1000" width="40" height="40" fill="#423c22"/><rect x="40" y="1000" width="40" height="40" fill="#413a21"/><rect x="80" y="1000" width="40" height="40" fill="#403921"/><rect x="120" y="1000" width="40" height="40" fill="#3f3920"/><rect x="160" y="1000" width="80" height="40" fill="#3e3820"/><rect x="240" y="1000" width="80" height="40" fill="#3f3920"/><rect x="320" y="1000" width="40" height="40" fill="#403a20"/><rect x="360" y="1000" width="40" height="40" fill="#413a20"/><rect x="400" y="1000" width="40" height="40" fill="#423b20"/><rect x="440" y="1000" width="40" height="40" fill="#433c20"/><rect x="480" y="1000" width="40" height="40" fill="#443c20"/><rect x="520" y="1000" width="40" height="40" fill="#443d20"/><rect x="560" y="1000" width="40" height="40" fill="#453d20"/><rect x="600" y="1000" width="120" height="40" fill="#453d21"/><rect x="720" y="1000" width="40" height="40" fill="#453e21"/><rect x="760" y="1000" width="40" height="40" fill="#453d21"/><rect x="800" y="1000" width="80" height="40" fill="#453d20"/><rect x="880" y="1000" width="40" height="40" fill="#443d20"/><rect x="920" y="1000" width="40" height="40" fill="#443c20"/><rect x="960" y="1000" width="40" height="40" fill="#433b20"/><rect x="1000" y="1000" width="40" height="40" fill="#423b20"/><rect x="1040" y="1000" width="40" height="40" fill="#413a20"/><rect x="1080" y="1000" width="40" height="40" fill="#403921"/><rect x="1120" y="1000" width="40" height="40" fill="#3f3821"/><rect x="1160" y="1000" width="40" height="40" fill="#3d3721"/><rect x="1200" y="1000" width="40" height="40" fill="#3d3622"/><rect x="1240" y="1000" width="40" height="40" fill="#3c3622"/><rect x="1280" y="1000" width="40" height="40" fill="#3b3622"/><rect x="1320" y="1000" width="40" height="40" fill="#3b3523"/><rect x="1360" y="1000" width="40" height="40" fill="#393423"/><rect x="1400" y="1000" width="40" height="40" fill="#383323"/><rect x="1440" y="1000" width="40" height="40" fill="#363123"/><rect x="1480" y="1000" width="40" height="40" fill="#332f22"/><rect x="1520" y="1000" width="40" height="40" fill="#312d22"/><rect x="1560" y="1000" width="40" height="40" fill="#2f2b21"/><rect x="1600" y="1000" width="40" height="40" fill="#2d2a21"/><rect x="1640" y="1000" width="40" height="40" fill="#2b2820"/><rect x="1680" y="1000" width="40" height="40" fill="#2a2720"/><rect x="1720" y="1000" width="40" height="40" fill="#292620"/><rect x="1760" y="1000" width="40" height="40" fill="#272520"/><rect x="1800" y="1000" width="40" height="40" fill="#26241f"/><rect x="1840" y="1000" width="40" height="40" fill="#25231f"/><rect x="1880" y="1000" width="40" height="40" fill="#24221f"/><rect x="1920" y="1000" width="40" height="40" fill="#23211e"/><rect x="1960" y="1000" width="40" height="40" fill="#22211e"/><rect x="2000" y="1000" width="40" height="40" fill="#21201e"/><rect x="2040" y="1000" width="40" height="40" fill="#201f1d"/><rect x="2080" y="1000" width="40" height="40" fill="#1f1e1d"/><rect x="2120" y="1000" width="40" height="40" fill="#1e1d1c"/><rect x="2160" y="1000" width="40" height="40" fill="#1d1c1c"/><rect x="2200" y="1000" width="120" height="40" fill="#1a1a1a"/><rect x="-40" y="1040" width="40" height="40" fill="#3e3922"/><rect x="0" y="1040" width="40" height="40" fill="#3d3721"/><rect x="40" y="1040" width="40" height="40" fill="#3c3620"/><rect x="80" y="1040" width="40" height="40" fill="#3b3520"/><rect x="120" y="1040" width="40" height="40" fill="#3a351f"/><rect x="160" y="1040" width="40" height="40" fill="#3a341f"/><rect x="200" y="1040" width="40" height="40" fill="#39341f"/><rect x="240" y="1040" width="40" height="40" fill="#3a341f"/><rect x="280" y="1040" width="40" height="40" fill="#3a351f"/><rect x="320" y="1040" width="40" height="40" fill="#3b351f"/><rect x="360" y="1040" width="40" height="40" fill="#3c3620"/><rect x="400" y="1040" width="40" height="40" fill="#3d3620"/><rect x="440" y="1040" width="80" height="40" fill="#3e3720"/><rect x="520" y="1040" width="320" height="40" fill="#3f3820"/><rect x="840" y="1040" width="40" height="40" fill="#3e3820"/><rect x="880" y="1040" width="40" height="40" fill="#3e3720"/><rect x="920" y="1040" width="40" height="40" fill="#3d3720"/><rect x="960" y="1040" width="40" height="40" fill="#3d3620"/><rect x="1000" y="1040" width="40" height="40" fill="#3c3520"/><rect x="1040" y="1040" width="40" height="40" fill="#3b3420"/><rect x="1080" y="1040" width="40" height="40" fill="#3a3420"/><rect x="1120" y="1040" width="40" height="40" fill="#393320"/><rect x="1160" y="1040" width="40" height="40" fill="#383220"/><rect x="1200" y="1040" width="40" height="40" fill="#373121"/><rect x="1240" y="1040" width="40" height="40" fill="#363121"/><rect x="1280" y="1040" width="40" height="40" fill="#363122"/><rect x="1320" y="1040" width="40" height="40" fill="#353022"/><rect x="1360" y="1040" width="40" height="40" fill="#343022"/><rect x="1400" y="1040" width="40" height="40" fill="#332f22"/><rect x="1440" y="1040" width="40" height="40" fill="#312d22"/><rect x="1480" y="1040" width="40" height="40" fill="#2f2c22"/><rect x="1520" y="1040" width="40" height="40" fill="#2e2a21"/><rect x="1560" y="1040" width="40" height="40" fill="#2c2921"/><rect x="1600" y="1040" width="40" height="40" fill="#2a2720"/><rect x="1640" y="1040" width="40" height="40" fill="#292620"/><rect x="1680" y="1040" width="40" height="40" fill="#272520"/><rect x="1720" y="1040" width="40" height="40" fill="#26241f"/><rect x="1760" y="1040" width="40" height="40" fill="#25231f"/><rect x="1800" y="1040" width="40" height="40" fill="#24221f"/><rect x="1840" y="1040" width="40" height="40" fill="#22211f"/><rect x="1880" y="1040" width="40" height="40" fill="#21211e"/><rect x="1920" y="1040" width="40" height="40" fill="#21201e"/><rect x="1960" y="1040" width="40" height="40" fill="#201f1e"/><rect x="2000" y="1040" width="40" height="40" fill="#1f1f1d"/><rect x="2040" y="1040" width="40" height="40" fill="#1f1e1d"/><rect x="2080" y="1040" width="40" height="40" fill="#1e1d1c"/><rect x="2120" y="1040" width="40" height="40" fill="#1d1d1c"/><rect x="2160" y="1040" width="120" height="40" fill="#1a1a1a"/><rect x="-40" y="1080" width="40" height="40" fill="#393521"/><rect x="0" y="1080" width="40" height="40" fill="#383320"/><rect x="40" y="1080" width="40" height="40" fill="#373220"/><rect x="80" y="1080" width="40" height="40" fill="#36311f"/><rect x="120" y="1080" width="40" height="40" fill="#35311f"/><rect x="160" y="1080" width="120" height="40" fill="#35301f"/><rect x="280" y="1080" width="80" height="40" fill="#36311f"/><rect x="360" y="1080" width="40" height="40" fill="#37321f"/><rect x="400" y="1080" width="40" height="40" fill="#38321f"/><rect x="440" y="1080" width="40" height="40" fill="#393320"/><rect x="480" y="1080" width="280" height="40" fill="#3a3320"/><rect x="760" y="1080" width="120" height="40" fill="#393320"/><rect x="880" y="1080" width="80" height="40" fill="#38321f"/><rect x="960" y="1080" width="40" height="40" fill="#37311f"/><rect x="1000" y="1080" width="40" height="40" fill="#36301f"/><rect x="1040" y="1080" width="40" height="40" fill="#35301f"/><rect x="1080" y="1080" width="40" height="40" fill="#342f1f"/><rect x="1120" y="1080" width="40" height="40" fill="#342e20"/><rect x="1160" y="1080" width="40" height="40" fill="#332e20"/><rect x="1200" y="1080" width="40" height="40" fill="#322d20"/><rect x="1240" y="1080" width="40" height="40" fill="#312d20"/><rect x="1280" y="1080" width="40" height="40" fill="#312c21"/><rect x="1320" y="1080" width="80" height="40" fill="#302c21"/><rect x="1400" y="1080" width="40" height="40" fill="#2f2b21"/><rect x="1440" y="1080" width="40" height="40" fill="#2d2a21"/><rect x="1480" y="1080" width="40" height="40" fill="#2c2921"/><rect x="1520" y="1080" width="40" height="40" fill="#2a2721"/><rect x="1560" y="1080" width="40" height="40" fill="#292620"/><rect x="1600" y="1080" width="40" height="40" fill="#272520"/><rect x="1640" y="1080" width="40" height="40" fill="#262420"/><rect x="1680" y="1080" width="40" height="40" fill="#25231f"/><rect x="1720" y="1080" width="40" height="40" fill="#24221f"/><rect x="1760" y="1080" width="40" height="40" fill="#22211f"/><rect x="1800" y="1080" width="40" height="40" fill="#21211e"/><rect x="1840" y="1080" width="40" height="40" fill="#20201e"/><rect x="1880" y="1080" width="40" height="40" fill="#201f1e"/><rect x="1920" y="1080" width="40" height="40" fill="#1f1f1e"/><rect x="1960" y="1080" width="80" height="40" fill="#1e1e1d"/><rect x="2040" y="1080" width="40" height="40" fill="#1d1d1d"/><rect x="2080" y="1080" width="40" height="40" fill="#1d1d1c"/><rect x="2120" y="1080" width="120" height="40" fill="#1a1a1a"/><rect x="-40" y="1120" width="40" height="40" fill="#353120"/><rect x="0" y="1120" width="40" height="40" fill="#343020"/><rect x="40" y="1120" width="40" height="40" fill="#332f1f"/><rect x="80" y="1120" width="40" height="40" fill="#322e1f"/><rect x="120" y="1120" width="160" height="40" fill="#312d1e"/><rect x="280" y="1120" width="40" height="40" fill="#322d1e"/><rect x="320" y="1120" width="40" height="40" fill="#322e1f"/><rect x="360" y="1120" width="40" height="40" fill="#332e1f"/><rect x="400" y="1120" width="80" height="40" fill="#342f1f"/><rect x="480" y="1120" width="240" height="40" fill="#352f1f"/><rect x="720" y="1120" width="120" height="40" fill="#342f1f"/><rect x="840" y="1120" width="40" height="40" fill="#342e1f"/><rect x="880" y="1120" width="40" height="40" fill="#332e1f"/><rect x="920" y="1120" width="40" height="40" fill="#332d1f"/><rect x="960" y="1120" width="40" height="40" fill="#322d1f"/><rect x="1000" y="1120" width="80" height="40" fill="#312c1f"/><rect x="1080" y="1120" width="40" height="40" fill="#302b1f"/><rect x="1120" y="1120" width="40" height="40" fill="#2f2a1f"/><rect x="1160" y="1120" width="40" height="40" fill="#2e2a1f"/><rect x="1200" y="1120" width="40" height="40" fill="#2e291f"/><rect x="1240" y="1120" width="80" height="40" fill="#2d2920"/><rect x="1320" y="1120" width="40" height="40" fill="#2c2920"/><rect x="1360" y="1120" width="40" height="40" fill="#2c2820"/><rect x="1400" y="1120" width="40" height="40" fill="#2b2820"/><rect x="1440" y="1120" width="40" height="40" fill="#2a2720"/><rect x="1480" y="1120" width="40" height="40" fill="#292620"/><rect x="1520" y="1120" width="40" height="40" fill="#272520"/><rect x="1560" y="1120" width="40" height="40" fill="#262420"/><rect x="1600" y="1120" width="40" height="40" fill="#252320"/><rect x="1640" y="1120" width="40" height="40" fill="#24221f"/><rect x="1680" y="1120" width="40" height="40" fill="#23211f"/><rect x="1720" y="1120" width="40" height="40" fill="#22211f"/><rect x="1760" y="1120" width="40" height="40" fill="#21201e"/><rect x="1800" y="1120" width="40" height="40" fill="#201f1e"/><rect x="1840" y="1120" width="40" height="40" fill="#1f1f1e"/><rect x="1880" y="1120" width="80" height="40" fill="#1e1e1d"/><rect x="1960" y="1120" width="80" height="40" fill="#1d1d1d"/><rect x="2040" y="1120" width="160" height="40" fill="#1a1a1a"/><rect x="-40" y="1160" width="40" height="40" fill="#312d1f"/><rect x="0" y="1160" width="40" height="40" fill="#302c1f"/><rect x="40" y="1160" width="40" height="40" fill="#2f2b1e"/><rect x="80" y="1160" width="40" height="40" fill="#2e2b1e"/><rect x="120" y="1160" width="40" height="40" fill="#2e2a1e"/><rect x="160" y="1160" width="80" height="40" fill="#2d2a1e"/><rect x="240" y="1160" width="80" height="40" fill="#2e2a1e"/><rect x="320" y="1160" width="40" height="40" fill="#2f2a1e"/><rect x="360" y="1160" width="40" height="40" fill="#2f2b1e"/><rect x="400" y="1160" width="80" height="40" fill="#302b1f"/><rect x="480" y="1160" width="120" height="40" fill="#302c1f"/><rect x="600" y="1160" width="200" height="40" fill="#302b1f"/><rect x="800" y="1160" width="40" height="40" fill="#2f2b1f"/><rect x="840" y="1160" width="40" height="40" fill="#2f2b1e"/><rect x="880" y="1160" width="40" height="40" fill="#2f2a1e"/><rect x="920" y="1160" width="40" height="40" fill="#2e2a1e"/><rect x="960" y="1160" width="40" height="40" fill="#2e291e"/><rect x="1000" y="1160" width="40" height="40" fill="#2d291e"/><rect x="1040" y="1160" width="80" height="40" fill="#2c281e"/><rect x="1120" y="1160" width="80" height="40" fill="#2b271e"/><rect x="1200" y="1160" width="80" height="40" fill="#2a261f"/><rect x="1280" y="1160" width="80" height="40" fill="#29261f"/><rect x="1360" y="1160" width="40" height="40" fill="#28251f"/><rect x="1400" y="1160" width="40" height="40" fill="#272520"/><rect x="1440" y="1160" width="40" height="40" fill="#272420"/><rect x="1480" y="1160" width="40" height="40" fill="#262320"/><rect x="1520" y="1160" width="40" height="40" fill="#25231f"/><rect x="1560" y="1160" width="40" height="40" fill="#23221f"/><rect x="1600" y="1160" width="40" height="40" fill="#22211f"/><rect x="1640" y="1160" width="40" height="40" fill="#22201f"/><rect x="1680" y="1160" width="40" height="40" fill="#21201e"/><rect x="1720" y="1160" width="40" height="40" fill="#201f1e"/><rect x="1760" y="1160" width="40" height="40" fill="#1f1f1e"/><rect x="1800" y="1160" width="40" height="40" fill="#1e1e1e"/><rect x="1840" y="1160" width="40" height="40" fill="#1e1d1d"/><rect x="1880" y="1160" width="80" height="40" fill="#1d1d1d"/><rect x="1960" y="1160" width="200" height="40" fill="#1a1a1a"/><rect x="-40" y="1200" width="40" height="40" fill="#2d2a1f"/><rect x="0" y="1200" width="40" height="40" fill="#2c291e"/><rect x="40" y="1200" width="80" height="40" fill="#2b281e"/><rect x="120" y="1200" width="120" height="40" fill="#2a271d"/><rect x="240" y="1200" width="40" height="40" fill="#2a271e"/><rect x="280" y="1200" width="40" height="40" fill="#2b271e"/><rect x="320" y="1200" width="80" height="40" fill="#2b281e"/><rect x="400" y="1200" width="400" height="40" fill="#2c281e"/><rect x="800" y="1200" width="120" height="40" fill="#2b271e"/><rect x="920" y="1200" width="40" height="40" fill="#2a271e"/><rect x="960" y="1200" width="80" height="40" fill="#2a261e"/><rect x="1040" y="1200" width="40" height="40" fill="#29251e"/><rect x="1080" y="1200" width="40" height="40" fill="#28251e"/><rect x="1120" y="1200" width="40" height="40" fill="#28241e"/><rect x="1160" y="1200" width="80" height="40" fill="#27241e"/><rect x="1240" y="1200" width="40" height="40" fill="#26241e"/><rect x="1280" y="1200" width="40" height="40" fill="#26231e"/><rect x="1320" y="1200" width="40" height="40" fill="#26231f"/><rect x="1360" y="1200" width="40" height="40" fill="#25231f"/><rect x="1400" y="1200" width="40" height="40" fill="#25221f"/><rect x="1440" y="1200" width="40" height="40" fill="#24221f"/><rect x="1480" y="1200" width="40" height="40" fill="#23211f"/><rect x="1520" y="1200" width="40" height="40" fill="#22211f"/><rect x="1560" y="1200" width="40" height="40" fill="#21201f"/><rect x="1600" y="1200" width="40" height="40" fill="#21201e"/><rect x="1640" y="1200" width="40" height="40" fill="#201f1e"/><rect x="1680" y="1200" width="40" height="40" fill="#1f1e1e"/><rect x="1720" y="1200" width="40" height="40" fill="#1e1e1e"/><rect x="1760" y="1200" width="40" height="40" fill="#1e1d1d"/><rect x="1800" y="1200" width="40" height="40" fill="#1d1d1d"/><rect x="1840" y="1200" width="280" height="40" fill="#1a1a1a"/><rect x="-40" y="1240" width="40" height="40" fill="#2a281e"/><rect x="0" y="1240" width="40" height="40" fill="#29271e"/><rect x="40" y="1240" width="40" height="40" fill="#28261d"/><rect x="80" y="1240" width="40" height="40" fill="#28251d"/><rect x="120" y="1240" width="160" height="40" fill="#27251d"/><rect x="280" y="1240" width="40" height="40" fill="#28251d"/><rect x="320" y="1240" width="120" height="40" fill="#28251e"/><rect x="440" y="1240" width="120" height="40" fill="#29251e"/><rect x="560" y="1240" width="240" height="40" fill="#28251e"/><rect x="800" y="1240" width="40" height="40" fill="#28251d"/><rect x="840" y="1240" width="40" height="40" fill="#28241d"/><rect x="880" y="1240" width="120" height="40" fill="#27241d"/><rect x="1000" y="1240" width="80" height="40" fill="#26231d"/><rect x="1080" y="1240" width="40" height="40" fill="#25231d"/><rect x="1120" y="1240" width="80" height="40" fill="#25221d"/><rect x="1200" y="1240" width="40" height="40" fill="#24221e"/><rect x="1240" y="1240" width="40" height="40" fill="#24211e"/><rect x="1280" y="1240" width="120" height="40" fill="#23211e"/><rect x="1400" y="1240" width="80" height="40" fill="#22201e"/><rect x="1480" y="1240" width="40" height="40" fill="#21201e"/><rect x="1520" y="1240" width="80" height="40" fill="#201f1e"/><rect x="1600" y="1240" width="40" height="40" fill="#1f1e1e"/><rect x="1640" y="1240" width="40" height="40" fill="#1e1e1e"/><rect x="1680" y="1240" width="40" height="40" fill="#1e1d1d"/><rect x="1720" y="1240" width="80" height="40" fill="#1d1d1d"/><rect x="1800" y="1240" width="240" height="40" fill="#1a1a1a"/><rect x="-40" y="1280" width="40" height="40" fill="#27251d"/><rect x="0" y="1280" width="40" height="40" fill="#26241d"/><rect x="40" y="1280" width="40" height="40" fill="#26231d"/><rect x="80" y="1280" width="40" height="40" fill="#25231d"/><rect x="120" y="1280" width="40" height="40" fill="#25231c"/><rect x="160" y="1280" width="120" height="40" fill="#25221d"/><rect x="280" y="1280" width="120" height="40" fill="#25231d"/><rect x="400" y="1280" width="120" height="40" fill="#26231d"/><rect x="520" y="1280" width="80" height="40" fill="#25231d"/><rect x="600" y="1280" width="280" height="40" fill="#25221d"/><rect x="880" y="1280" width="80" height="40" fill="#24221d"/><rect x="960" y="1280" width="80" height="40" fill="#24211d"/><rect x="1040" y="1280" width="40" height="40" fill="#23211d"/><rect x="1080" y="1280" width="40" height="40" fill="#23201d"/><rect x="1120" y="1280" width="120" height="40" fill="#22201d"/><rect x="1240" y="1280" width="40" height="40" fill="#21201d"/><rect x="1280" y="1280" width="120" height="40" fill="#211f1d"/><rect x="1400" y="1280" width="80" height="40" fill="#201f1e"/><rect x="1480" y="1280" width="80" height="40" fill="#1f1e1e"/><rect x="1560" y="1280" width="80" height="40" fill="#1e1d1d"/><rect x="1640" y="1280" width="40" height="40" fill="#1d1d1d"/><rect x="1680" y="1280" width="40" height="40" fill="#1d1c1c"/><rect x="1720" y="1280" width="240" height="40" fill="#1a1a1a"/><rect x="-40" y="1320" width="40" height="40" fill="#25231d"/><rect x="0" y="1320" width="40" height="40" fill="#24221c"/><rect x="40" y="1320" width="80" height="40" fill="#23211c"/><rect x="120" y="1320" width="40" height="40" fill="#22211c"/><rect x="160" y="1320" width="80" height="40" fill="#22201c"/><rect x="240" y="1320" width="40" height="40" fill="#22211c"/><rect x="280" y="1320" width="280" height="40" fill="#23211d"/><rect x="560" y="1320" width="160" height="40" fill="#22201d"/><rect x="720" y="1320" width="240" height="40" fill="#22201c"/><rect x="960" y="1320" width="40" height="40" fill="#221f1c"/><rect x="1000" y="1320" width="120" height="40" fill="#211f1c"/><rect x="1120" y="1320" width="40" height="40" fill="#201f1c"/><rect x="1160" y="1320" width="80" height="40" fill="#201e1c"/><rect x="1240" y="1320" width="40" height="40" fill="#201e1d"/><rect x="1280" y="1320" width="120" height="40" fill="#1f1e1d"/><rect x="1400" y="1320" width="40" height="40" fill="#1f1d1d"/><rect x="1440" y="1320" width="80" height="40" fill="#1e1d1d"/><rect x="1520" y="1320" width="40" height="40" fill="#1d1d1d"/><rect x="1560" y="1320" width="40" height="40" fill="#1d1c1c"/><rect x="1600" y="1320" width="240" height="40" fill="#1a1a1a"/><rect x="-40" y="1360" width="40" height="40" fill="#22211c"/><rect x="0" y="1360" width="40" height="40" fill="#21201c"/><rect x="40" y="1360" width="40" height="40" fill="#211f1c"/><rect x="80" y="1360" width="240" height="40" fill="#201f1c"/><rect x="320" y="1360" width="200" height="40" fill="#211f1d"/><rect x="520" y="1360" width="80" height="40" fill="#201f1c"/><rect x="600" y="1360" width="400" height="40" fill="#201e1c"/><rect x="1000" y="1360" width="80" height="40" fill="#1f1e1c"/><rect x="1080" y="1360" width="80" height="40" fill="#1f1d1c"/><rect x="1160" y="1360" width="200" height="40" fill="#1e1d1c"/><rect x="1360" y="1360" width="40" height="40" fill="#1d1d1c"/><rect x="1400" y="1360" width="120" height="40" fill="#1d1c1c"/><rect x="1520" y="1360" width="280" height="40" fill="#1a1a1a"/><rect x="-40" y="1400" width="40" height="40" fill="#201f1c"/><rect x="0" y="1400" width="80" height="40" fill="#1f1e1b"/><rect x="80" y="1400" width="40" height="40" fill="#1e1e1b"/><rect x="120" y="1400" width="120" height="40" fill="#1e1d1b"/><rect x="240" y="1400" width="280" height="40" fill="#1f1e1c"/><rect x="520" y="1400" width="40" height="40" fill="#1f1d1c"/><rect x="560" y="1400" width="280" height="40" fill="#1e1d1c"/><rect x="840" y="1400" width="200" height="40" fill="#1e1d1b"/><rect x="1040" y="1400" width="40" height="40" fill="#1e1c1b"/><rect x="1080" y="1400" width="40" height="40" fill="#1d1c1b"/><rect x="1120" y="1400" width="240" height="40" fill="#1d1c1c"/><rect x="1360" y="1400" width="360" height="40" fill="#1a1a1a"/><rect x="-40" y="1440" width="40" height="40" fill="#1e1d1b"/><rect x="0" y="1440" width="40" height="40" fill="#1d1d1b"/><rect x="40" y="1440" width="240" height="40" fill="#1d1c1b"/><rect x="280" y="1440" width="40" height="40" fill="#1d1d1b"/><rect x="320" y="1440" width="160" height="40" fill="#1d1d1c"/><rect x="480" y="1440" width="80" height="40" fill="#1d1c1c"/><rect x="560" y="1440" width="480" height="40" fill="#1d1c1b"/><rect x="1040" y="1440" width="560" height="40" fill="#1a1a1a"/><rect x="-40" y="1480" width="1560" height="40" fill="#1a1a1a"/><rect x="-40" y="1520" width="1400" height="40" fill="#1a1a1a"/><rect x="-40" y="1560" width="1080" height="40" fill="#1a1a1a"/></g></g></svg><div class="card"></div>
<div class="gl" style="top:314px;left:552px;width:1684px;border-radius:2px 0 0 2px"></div>
<div class="gl" style="top:314px;left:2364px;width:80px;border-radius:0 2px 2px 0"></div>
<div class="gl" style="top:642px;left:552px;width:1415px;border-radius:2px 0 0 2px"></div>
<div class="gl" style="top:642px;left:2095px;width:141px;border-radius:0 0 0 0"></div>
<div class="gl" style="top:642px;left:2364px;width:80px;border-radius:0 2px 2px 0"></div>
<div class="gl" style="top:961px;left:552px;width:884px;border-radius:2px 0 0 2px"></div>
<div class="gl" style="top:961px;left:1564px;width:137px;border-radius:0 0 0 0"></div>
<div class="gl" style="top:961px;left:1829px;width:138px;border-radius:0 0 0 0"></div>
<div class="gl" style="top:961px;left:2095px;width:141px;border-radius:0 0 0 0"></div>
<div class="gl" style="top:961px;left:2364px;width:80px;border-radius:0 2px 2px 0"></div>
<div class="gl" style="top:1279px;left:552px;width:615px;border-radius:2px 0 0 2px"></div>
<div class="gl" style="top:1279px;left:1295px;width:141px;border-radius:0 0 0 0"></div>
<div class="gl" style="top:1279px;left:1564px;width:137px;border-radius:0 0 0 0"></div>
<div class="gl" style="top:1279px;left:1829px;width:138px;border-radius:0 0 0 0"></div>
<div class="gl" style="top:1279px;left:2095px;width:141px;border-radius:0 0 0 0"></div>
<div class="gl" style="top:1279px;left:2364px;width:80px;border-radius:0 2px 2px 0"></div>
<div class="gl" style="top:1598px;left:552px;width:80px;border-radius:2px 0 0 2px"></div>
<div class="gl" style="top:1598px;left:760px;width:141px;border-radius:0 0 0 0"></div>
<div class="gl" style="top:1598px;left:1029px;width:138px;border-radius:0 0 0 0"></div>
<div class="gl" style="top:1598px;left:1295px;width:141px;border-radius:0 0 0 0"></div>
<div class="gl" style="top:1598px;left:1564px;width:137px;border-radius:0 0 0 0"></div>
<div class="gl" style="top:1598px;left:1829px;width:138px;border-radius:0 0 0 0"></div>
<div class="gl" style="top:1598px;left:2095px;width:141px;border-radius:0 0 0 0"></div>
<div class="gl" style="top:1598px;left:2364px;width:80px;border-radius:0 2px 2px 0"></div>
<div class="gl" style="top:1916px;left:552px;width:1892px;border-radius:2px 2px 2px 2px"></div>
<div class="yl" style="top:294px;letter-spacing:-0.7px;left:319.3px">1250</div>
<div class="yl" style="top:622px;letter-spacing:3.0px;left:323.0px">1000</div>
<div class="yl" style="top:941px;letter-spacing:2.5px;left:322.5px">750</div>
<div class="yl" style="top:1259px;letter-spacing:6.0px;left:326.0px">500</div>
<div class="yl" style="top:1577px;letter-spacing:3.3px;left:323.3px">250</div>
<div class="yl" style="top:1895px;letter-spacing:0.0px;left:320.0px">0</div>
<div class="bar d" style="left:632px;top:1544px"></div><div class="bar m" style="left:632px;top:1652px"></div><div class="bar l" style="left:632px;top:1776px"></div>
<div class="bar d" style="left:901px;top:1380px"></div><div class="bar m" style="left:901px;top:1536px"></div><div class="bar l" style="left:901px;top:1715px"></div>
<div class="bar d" style="left:1167px;top:1168px"></div><div class="bar m" style="left:1167px;top:1386px"></div><div class="bar l" style="left:1167px;top:1635px"></div>
<div class="bar d" style="left:1436px;top:956px"></div><div class="bar m" style="left:1436px;top:1236px"></div><div class="bar l" style="left:1436px;top:1556px"></div>
<div class="bar d" style="left:1701px;top:740px"></div><div class="bar m" style="left:1701px;top:1083px"></div><div class="bar l" style="left:1701px;top:1475px"></div>
<div class="bar d" style="left:1967px;top:528px"></div><div class="bar m" style="left:1967px;top:933px"></div><div class="bar l" style="left:1967px;top:1395px"></div>
<div class="bar d" style="left:2236px;top:308px"></div><div class="bar m" style="left:2236px;top:777px"></div><div class="bar l" style="left:2236px;top:1313px"></div>
<div class="xl" style="left:596px">2024</div>
<div class="xl" style="left:865px">2025</div>
<div class="xl" style="left:1131px">2026</div>
<div class="xl" style="left:1400px">2027</div>
<div class="xl" style="left:1665px">2028</div>
<div class="xl" style="left:1931px">2029</div>
<div class="xl" style="left:2200px">2030</div>
<div class="ytitle">Market Size (USD Billions)</div>
<svg style="position:absolute;left:0;top:0" width="2716" height="2400"><g fill="#2d2a1c"><polygon points="900.0,2336.0 969.0,2470 831.0,2470"/><polygon points="1165.0,2336.0 1234.0,2470 1096.0,2470"/><polygon points="1362.8,2336.5 1431.6,2470 1294.0,2470"/><polygon points="1392.1,2336.5 1460.9,2470 1323.3,2470"/><polygon points="1630.0,2326.0 1704.2,2470 1555.8,2470"/><polygon points="1802.6,2336.0 1871.6,2470 1733.6,2470"/><polygon points="1867.0,2314.0 1947.3,2470 1786.7,2470"/></g></svg>
<div class="title">Robotics Market Growth at 35% CAGR (2025-2035)</div>
</div>
</body></html>
